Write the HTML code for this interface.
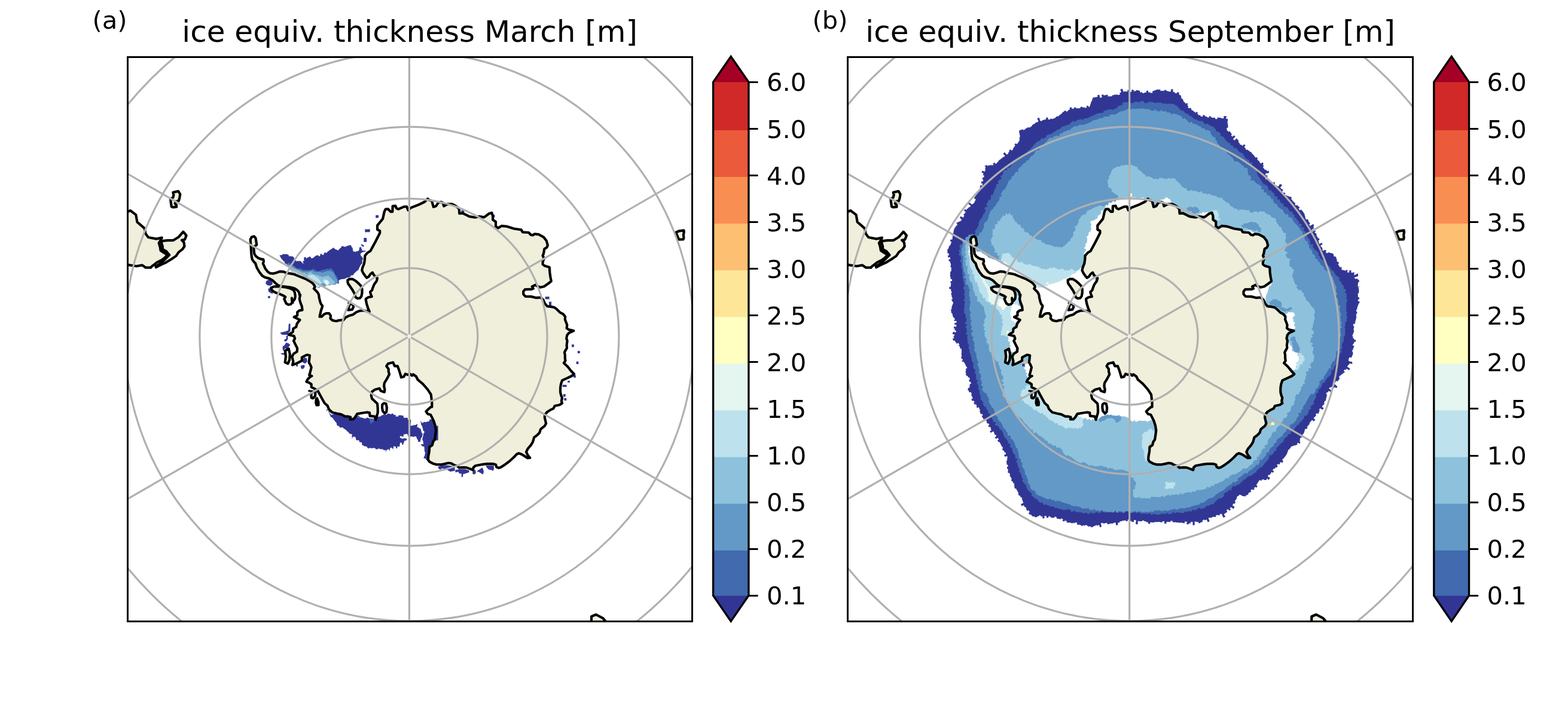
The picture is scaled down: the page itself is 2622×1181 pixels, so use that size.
<!DOCTYPE html>
<html lang="en"><head><meta charset="utf-8"><title>ice equiv. thickness</title>
<style>html,body{margin:0;padding:0;background:#fff}body{width:2622px;height:1181px;overflow:hidden}svg{display:block}text{font-family:"DejaVu Sans","Liberation Sans",sans-serif;fill:#000}</style></head><body>
<svg width="2622" height="1181" viewBox="0 0 2622 1181">
<rect width="2622" height="1181" fill="#fff"/>
<clipPath id="c1"><rect x="213.5" y="95.5" width="944" height="944"/></clipPath>
<g clip-path="url(#c1)">
<g transform="translate(0,0)">
<path fill="#313695" d="M467.2,427.6 469.8,426.6 470,426.9 472.5,425.9 472.4,425.3 475.5,424.8 475.5,425.4 478.5,424.9 478.6,424.5 480.7,426.1 480.9,425.3 483,426.9 482.5,428.2 485.6,428.7 485.7,428.4 488.8,428.9 489.1,428.4 492.2,431.5 491.6,432.2 493.7,434.8 493.8,434.7 496,437.4 496.4,436.4 500,436.7 500.1,436.4 503.7,436.7 503.3,437.7 505.5,439.5 505.5,439.7 507.7,441.5 507.4,440.3 505.8,436.6 506.8,437 508.9,435.9 508.5,435.8 508,431.6 508,431.6 510.6,429.5 510.6,429.5 512.7,432.5 512.6,432.1 516,430.1 516.1,430 518.9,428.9 518.9,429.3 521,432.4 521,432.2 524,431.2 524,431.3 526,429.3 526.1,429.5 528.2,427.4 528.3,427.7 531.4,426.7 531.5,427 534.6,429 534.6,429 535.5,426.9 535.5,425.9 536.2,423.9 536.4,424.2 539.5,426.3 539.9,427.1 541.8,425.1 541.6,423.8 543.4,421.9 544,422.7 547.1,422.7 546.7,422.2 548.8,420.1 549,420.4 551.1,418.3 551.3,418.6 554.3,416.5 554.3,416.6 557.3,414.6 557.2,414 559.3,415.6 559.3,415.8 561.3,417.4 561.5,417.1 563.5,418.1 563.5,418 565.4,419 565.4,418.8 567.3,416.8 567.2,416.8 569.3,414.7 569.5,415 571.6,411.9 571.4,411.4 574.6,411.9 574.8,412.6 577.9,413.1 577.9,412.5 580.4,411.5 580.4,411.6 583.1,410.5 583.1,410.5 587.5,410.1 587,411.1 588.9,414.5 589.4,414.1 589.9,416.7 589.8,416.7 590.4,419.3 589.8,419.7 592.2,420.9 592.3,420.5 594.5,421.6 594.5,421.4 597,419.8 597.5,420.5 600.2,418.9 600.2,418.9 601,414.8 600.6,414 603.8,413 603.8,413.2 604.2,416.3 604.8,415.6 605.4,418.8 605.2,418.9 607.4,419.3 607.4,419.3 609.9,419.8 610,419.9 610.7,415.8 610.3,416.6 610.5,418.5 611,419 611.3,421.6 610.5,421 608.1,421.4 608.1,421.4 605.5,421.9 605.7,422.3 602.6,424.4 602.4,424.3 603.4,426.6 603,426.6 604.1,428.9 604.8,428.6 605.9,431.2 606.6,431 607.6,433.7 606.2,433.9 605.7,436.3 606,436.3 605.5,438.8 606.5,439.2 604.9,441.8 604.3,441.6 602.8,444.2 602.7,444.1 601.2,447.2 601.1,447.2 599.5,450.3 600.1,450.6 598,452.7 597.5,452.4 595.5,454.4 595.4,454.4 593.3,456.4 593.3,456.4 591.2,458.5 591.7,458.9 589.6,461 588.8,460.1 586.5,461.4 586.8,462 584.4,463.4 584.6,463.6 582.2,465 581.7,464.1 578.7,465.1 578.9,465.6 575.8,466.6 575.8,466.7 573.2,466.7 573.3,467.1 570.7,467.1 570.7,466.9 568.6,468 568.6,467.9 566.5,469 566.3,468.8 566.5,471.2 566.6,471.3 566.8,473.7 567.4,474.2 565.1,474.4 564.5,473.2 561.3,474.6 561.3,474.5 558.8,474.9 558.8,475 556.4,475.3 556.4,475.2 554.1,475.8 554.1,476 551.7,476.7 551.7,476.9 548.9,475.6 549,476.2 544.9,477.6 544.9,478 543,479.3 542.5,477.9 540.1,478.2 540.3,479 537.9,479.3 537.8,478.9 534.5,480.3 534.5,481.3 531.6,482 531.5,482.1 528.5,479.3 528.8,478.9 527.3,476.8 528.2,476.1 526.8,474 526.2,474.5 524.1,472.8 524.2,472.7 522.1,470.9 522,471.1 519.7,469.7 520,469.3 517.7,467.9 517.9,467.6 515.6,466.2 515.1,467 512.8,465.7 512.6,466 510.3,464.6 510.7,463.9 508.4,462.5 508.4,462.6 505.6,461.2 505.9,460.7 503.1,459.3 502.7,460 500,458.7 499.8,459.1 497.1,457.7 497.3,457.2 493.1,456.5 493.3,456 491.3,455 491.3,455 489.4,454 488.6,454.9 485.8,451.4 486,451.3 484.1,448.9 484.7,448.5 482.8,446.2 482.5,446.5 480.7,444.2 481.1,443.7 478.4,441 477.9,441.4 475.8,439.4 476.4,438.8 474.4,436.8 474,437 472.3,434.6 472.1,434.8 470.4,432.4 470.4,432.4 468.8,430 469.1,429.9 467.6,427.7ZM542.9,680.7 544.5,682.7 544.8,682.4 546.9,684.5 546.5,684.8 548.5,687.4 549.4,686.7 551.5,689.4 550.7,689.9 552.3,692.6 552.6,692.2 554.2,694.7 554.3,694.2 556.4,692.8 556.6,693.6 559,692.2 558.7,691.4 561.2,690 561.3,690.3 564.1,690.7 564.1,691 566.9,691.3 566.9,691.2 569.7,691.5 569.7,691.6 572.5,693 572.3,693.3 575.1,694.7 575.5,693.8 578.2,695.1 577.9,696 580.6,696.7 580.9,695.8 583.9,696.6 583.8,696.8 586.5,697.5 585.8,698.6 585.8,702.7 586,702.4 588.7,702.5 588.8,702.1 591.4,702.1 591.1,701.6 593.2,698.5 593.7,699.4 595.7,696.3 595.4,695.7 598.6,695.7 598.6,696.1 600.6,697.6 600.8,697 602.9,698.5 603,698.3 605.9,698.8 605.9,699.1 609,699.6 608.9,700.5 613.1,699.5 613.1,698.5 616.2,699.1 616.2,699.6 619.3,700.1 619.4,699.5 622.2,700.2 622.1,700.7 624.8,701.4 624.8,700.7 627.4,701.5 627.3,701.3 628.3,699.3 628.4,699.5 629.4,697.5 629.4,697.5 633,697 633,697 636.7,696.4 636.8,696.8 636.8,694.7 637.1,695.3 639.7,695 639.2,693.9 641.9,693.6 642.1,694.4 644.5,693.5 644.7,694.2 647.1,693.3 646.9,692.7 649.3,691.8 649.3,691.9 652.1,692.2 652.1,692.5 654.7,692.9 654.9,691.7 657.9,692.1 657.3,693.3 661.5,694.4 662,693.2 661.8,696.3 661.7,696.8 665.9,696.8 665.8,697.4 666.5,694.8 666.4,694.5 669.2,694.7 669.2,694.6 671.9,694.7 671.6,695.2 674.4,695.4 674.8,694.5 674.8,698.6 674.8,698.7 678.2,699.1 678.6,698.7 681.6,698.8 681.6,699 682.1,702.1 682.1,702.2 684.6,702.3 684.8,702.1 687.2,702.1 687.1,702.2 687.2,705.7 686.8,705.8 686.8,709.1 686.6,709.1 686.6,712.4 686.6,712.4 689.7,712 689.8,711.6 692.6,711.2 692.6,711.1 695.8,710.7 695.8,710.8 697.6,708.8 697.6,708.8 698.3,711.5 697.4,712.5 697.8,714.9 698.3,714.6 700.7,715.6 700.3,715.9 702.6,717 703.2,716.5 703.9,719.3 703.9,719.3 704.6,722 704.6,722 705.3,724.8 705.7,724.7 707.8,725.9 706.8,725.8 705.8,729.9 706.6,730.1 704.5,732.2 704.3,732.1 703.7,735.3 703.3,734.9 702.9,737.9 703.5,738.9 698.7,739 699.2,737.6 698.5,735 698,735.5 696.9,732.7 696.8,732.8 695.8,730 695.8,730.1 692.7,730.1 692.6,730.7 689.8,730.8 689.7,730.1 686.5,730.1 686.5,730.6 685.8,732.6 686.2,731.8 682.5,729.7 682.4,730 681.4,726.4 681.6,725.9 678.3,725.8 678.3,726.6 675.2,726.6 675.1,726.3 674.6,729.9 674.8,730.4 672.1,730.3 671.3,729.6 668.5,729.6 668.9,730 668.9,733.1 669.5,732.7 672,732.6 671.4,733.9 674.4,734.1 674.4,733.1 677.2,733.2 677.2,733.2 680,733.4 680.1,733.4 680.2,736.3 679.9,736.2 677.6,737.3 677.5,737.2 675.2,738.3 675.8,738.7 675.5,741.3 674.6,740.6 674.5,743.2 674.8,743.7 672,743.8 672,743.7 672.1,740.6 672.1,740.7 669.2,740.6 668.9,740.3 668.9,743.4 668.5,742.9 668.3,746.2 669.4,746.7 665.1,746.9 664.6,746.3 664.3,749.3 664.3,750.1 662.2,750.1 662.2,750.4 661.9,747.3 662.1,747 659.9,747 659.9,746.4 657.5,746.5 658,746.9 658,750 657.4,749.5 657.5,752.6 657.4,752.6 656.6,750.4 656.5,750.8 655.5,748.7 655.5,748.9 652.6,748.8 652.6,748.9 652,752 651.9,751.8 651.4,754.9 651.3,754.7 649.8,750.6 650,751 646.4,753.1 646.1,752.5 645.8,754.9 646.1,755.2 645.7,757.6 645.7,756.6 645.3,754.4 645.2,754.6 644.5,752.3 643.8,753.2 640.8,752.8 641.2,751.8 638,751.3 637.9,751.6 635.2,751.2 635.3,750.7 632.3,750.3 632.5,751.4 629.6,751.1 629.7,750.4 629.2,753 629.3,752.6 627.2,749.5 627.2,749.8 624.3,749 624,750.1 621.3,749.3 621.4,749 620.8,751.1 620.9,749.9 617.4,748.9 617.1,750.4 613.9,749 614.4,747.7 611.3,746.4 611,747 608.5,745.8 608.4,745.8 605.8,744.5 605.6,744.8 605,741.7 605.7,741 603.5,739.5 602.6,740.1 600.4,738.7 600.9,738 599.9,735.9 599.4,736.5 596.3,736.5 596.1,736.7 595.1,734.7 595.4,734.3 594.4,732.2 595,731.5 592.5,730.2 592.4,731.3 590.3,730.3 590.4,729.9 588.9,733.5 588.5,733.9 588.5,730.8 588.5,730.8 588.4,727.6 589.3,727.1 587,725.7 586.4,726.2 584.1,724.9 584,725 581.9,721.9 581.6,722.2 579.5,720.7 579.9,720.3 577.8,718.8 577.8,718.8 575.8,717.2 575.7,717.5 573.6,715.9 574.1,715 569.9,715 569.4,716 566.8,712.9 567,712.5 564.4,712.5 564.3,712.6 562.8,709.5 563.3,708.9 561.8,705.9 561.3,706.2 559.3,703.6 559.4,703.5 557.4,700.9 557.6,700.7 554.5,697.7 553.6,698.3 552,695.2 552.1,695.1 550.6,692 551.1,691.7 549.4,689.4 549.9,689.1 548.3,686.8 547.1,687.6 545.4,685.4 546.6,684.5 544.9,682.3 544.4,682.6 542.8,680.3ZM703,703.8 705,706 705.3,707.4 707.9,707.2 708.1,706.1 710.8,705.8 710.9,706.2 713.7,706 713.5,705.3 716.2,705.1 716.6,705.8 718.2,703.5 717.9,702.7 719.6,700.4 719.7,701.6 723.6,702.6 724.1,701.3 725.4,704 724.7,704.6 725.7,707 725.4,707.2 726.5,709.7 726.7,709.5 729.5,711 729.9,710.7 732.8,712.3 731.9,712.8 731.9,715.6 732.4,715.4 732.4,718.4 731.8,718.4 731.8,721.3 731.9,721.3 731.9,724.3 732.1,724.3 732.1,727.3 732.1,727.3 732.1,730.3 732.2,730.3 732.2,733.1 733,733.3 732.9,736.5 732.5,736.1 730.1,736.6 730.7,737.1 728.3,737.7 728.4,737.7 727.4,740.2 727.4,740.2 726.4,742.8 726.5,742.8 724.3,745 723.9,744.6 721.8,746.6 721.9,746.7 718.9,748.7 719.2,748.9 719.6,751.8 719.1,751.7 719.5,754.8 718.8,754.9 719.2,758 719.8,757.9 720.2,761 720.2,761 719.7,763.8 719.1,763.7 718.7,766.3 718.6,766.2 718.2,768.8 718.3,768.9 715.5,768.8 715.5,769.6 712.3,769.6 712.3,769.8 712.1,767.6 712.2,767.4 708,766.3 708.4,766.2 709.4,763.1 710,763 710.6,759.6 710.6,759.6 711.1,755.9 710.1,755.9 709.7,753.1 709.9,753.1 709.6,750.4 709.7,750.3 709.4,747.5 709.7,747.3 705.6,746.3 705.7,746.3 703.7,743.3 703.6,743.3 706.2,743.1 706.2,743.1 708.8,742.7 708.1,742.3 707.4,739.6 707.9,739.7 707.2,736.9 706.8,736.9 706.1,734.1 706.3,734.1 707.1,731.6 706.9,731.5 707.7,728.9 707.4,728.9 708.1,726.3 708.1,726.3 708.9,723.8 709.9,723.8 709.2,721 707.9,721.1 707.2,718.5 707.4,718.4 706.7,715.7 706.8,715.7 705.7,713.6 706.3,713.4 705.2,711.4 704.5,711.6 703.7,707.9 703.9,707.8 703.2,703.9ZM445.5,469.7 451,467.6 455.2,470.3 455.9,475.2 452.4,477.9 446.9,477.2 444.1,473.8ZM448.3,482.8 453.8,482.1 456.6,491.7 452.4,490.3 449,487.6ZM448.1,495.2 451.7,495.2 451.7,498.8 448.1,498.8ZM483.4,504.5 491.7,504.5 491.7,507.9 483.4,507.9ZM482.8,541.4 485.5,541.4 485.5,553.8 482.8,556.6 481.4,560 471.7,560 468.3,556.6 477.2,554.5 482.1,552.4ZM478.6,561.4 481.4,561.4 481.4,567.6 478.6,571 475.2,571 475.9,567.6 478.6,566.9ZM478.6,573.1 482.8,574.5 485.5,577.2 482.8,580 481.4,584.1 477.2,582.8 473.1,586.9 472.4,580 475.9,577.2ZM469,591 476.6,590.3 476.6,593.8 471.7,593.1ZM509,597.9 513.1,599.3 513.8,604.8 510.3,608.3 506.2,606.2 505.5,602.1ZM502.8,611.7 509,610.3 509.7,613.8 506.9,617.2 503.4,616.6ZM495.2,609 497.9,609 497.9,613.1 495.2,613.1ZM956,576.3 959.9,576.3 959.9,580.4 956,580.4ZM965.9,586.9 969.8,586.9 969.8,591 965.9,591ZM963.6,604.8 967.4,604.8 967.4,609 963.6,609ZM959,627.6 962.9,627.6 962.9,631.7 959,631.7ZM949.1,637 953,637 953,639.7 949.1,639.7ZM940.7,643.8 947.6,643.8 947.6,647.2 940.7,647.2ZM941.8,659.3 945.7,659.3 945.7,663.4 941.8,663.4ZM943.3,665.9 947.2,665.9 947.2,670.1 943.3,670.1ZM911.7,496.3 918.6,496.3 918.6,500.4 911.7,500.4ZM917.9,504.8 922.1,504.8 922.1,511 917.9,511ZM628.2,360.1 633,360.1 633,364.6 628.2,364.6ZM610.3,383.4 618.6,383.4 618.6,388.2 610.3,388.2ZM608.3,397.9 613.2,397.9 613.2,404.8 608.3,404.8ZM771.3,351.7 776.3,351.7 776.3,355.9 771.3,355.9ZM821.4,359.3 827.4,359.3 827.4,363.4 821.4,363.4ZM732.4,780.7 738.6,778.6 748.3,778.2 755.2,779.3 760.7,782.8 760.7,787.6 753.1,789 748.3,786.2 740,783.4 735.9,785.5 733.1,783.4ZM761.4,786.2 769,784.8 777.2,784.8 784.8,786.9 784.1,790.3 777.2,792.4 774.5,793.1 773.8,797.9 771.7,797.9 771.7,792.4 767.6,791.7 766.2,789 761.4,790.3ZM790.3,786.9 795.2,786.2 795.9,791.7 792.4,793.8 790.3,792.4ZM797.2,788.3 806.9,782.1 809,789 807.6,793.8 802.1,790.3ZM812.4,778.6 825.5,778.6 826.2,783.4 824.8,787.6 821.4,786.2 817.2,785.5 813.8,782.1ZM611,385.2 618.3,383.1 618.8,386.2 611.5,388.8ZM610,397.6 612.1,400.7 612.1,404.3 609,404.3 608.4,401.7ZM603.8,407.9 609,411 607.9,413.1 604.3,411Z"/>
<path fill="#416aaf" d="M480.2,440.9 482.8,439.6 482.8,439.2 486.3,441.3 486.1,441.7 489.4,444.4 489.9,443.7 492.7,445.1 492.4,445.6 495.8,448.3 495.8,448.5 499.9,449.2 500.3,448.4 504.3,449.7 504.3,449.9 508.4,452 508.4,451.8 511.1,451.5 511.1,451.8 513.8,451.5 513.9,452.2 516.6,451.9 516.6,451.6 519.3,451.2 519.4,451.4 522.1,450.8 522.1,449.9 524.9,449.2 524.7,450.4 526.7,452.1 527,450.9 529,452.6 528.9,453.6 533.1,453.6 533.1,453.4 538,452 537.9,451.5 542.7,450.8 542.7,450.8 547.5,449.4 547.6,449.6 550.3,450.3 550.3,450.3 553.1,448.2 553.2,448.2 556.6,451.6 556.7,451.6 559.4,455.8 558.8,456.2 561.5,460.3 561.8,460.2 564.5,464.3 564.1,464.5 565.5,468.5 566.3,468.2 566.7,471 566.2,471 566.6,473.6 566.6,473.6 564.6,473.4 564.7,473.5 561.3,474.8 561.5,475.9 556.6,476.6 556.5,475.3 551.7,476.7 551.8,477.9 549.1,476.5 549.1,476.5 544.9,477.9 544.8,476.8 542.6,478.2 542.9,479.1 538.1,479.8 537.8,478.8 534.5,480.2 534.5,480.9 531.6,481.6 532,480.8 529.3,478.1 529.1,478.4 526.4,474.3 526.2,474.5 524.1,472.8 524.3,472.6 522.2,470.9 521.8,471.5 518.3,469.4 518.5,469.2 515.1,467.1 515.6,466.3 512.1,464.2 511.7,464.9 508.2,462.8 508.6,462.2 505.8,460.8 505.8,460.9 503,459.5 502.8,459.8 500.1,458.5 500.1,458.3 497.4,457 497.2,457.3 493.1,456.6 492.7,457.2 488.5,455.1 488.7,454.9 485.9,451.4 486.2,451.1 484.3,448.8 483.9,449.1 482.1,446.7 483,446.2 481.2,444 480.3,444.2 479.7,440.5ZM617.2,700 624.5,700 625,706.2 622.4,706.2 620.3,709.8 618.8,705.2ZM597.1,695.9 599.7,694.8 602.8,699 599.7,700Z"/>
<path fill="#6399c7" d="M480.7,442.8 484.8,442.8 484.9,442.7 489,445.4 489.2,445.1 493.3,447.2 493,447.8 497.1,450.6 497.1,450.6 501.3,452 501.5,451.4 504.2,452.5 504.1,452.8 506.9,453.8 506.9,454 509.6,454 509.6,453.9 512.4,453.9 512.4,454.1 515.2,453.7 515.2,454 517.9,453.6 517.9,452.9 522.1,452.2 522.1,451.8 524.9,453.9 524.9,454.2 529,454.9 529,455 531.7,454.6 531.7,455.1 534.5,454.7 534.5,454.6 538.6,456 538.6,456.4 541.5,455.7 541.3,454.8 544.1,454.1 544.2,454.8 548.3,452.7 548.3,452.7 551,454.1 551.1,453 554.2,452.5 553.6,453.3 556.4,456 557.1,455.3 560,459.6 559.5,459.9 561.5,464.1 561.8,464 563.9,468.2 563.7,468.2 565,472.5 564.4,472.2 561.1,474.8 561.6,475.4 556.6,476.2 556.5,475.5 551.7,476.9 551.7,477.1 548.9,475.7 548.8,475.3 544.7,476.7 544.7,476.5 542.5,478 542.7,478.4 537.9,479.1 537.7,478.6 534.5,479.9 534.5,480.5 531.8,481.2 531.5,481.9 528.6,479.1 528.5,479.3 525.6,475 526.3,474.4 524.2,472.7 524.6,472.3 522.4,470.5 522.2,470.8 518.8,468.8 519,468.4 515.5,466.3 515.4,466.5 512,464.4 511.6,465 508.2,462.9 508.2,462.9 505.4,461.5 505.9,460.7 503.1,459.3 502.8,460 500,458.6 500,458.5 497.3,457.1 497.3,457.1 493.2,456.4 493.4,456 489.3,454 489.1,454.3 486.3,450.9 486.6,450.6 484.9,448.3 484.1,448.9 482.3,446.6 482.3,446.6 480.5,444.1 480.5,444.1 480.7,442.6Z"/>
<path fill="#8ec2dc" d="M485.7,449.8 490.4,449 490.3,450.2 493.1,451.2 493.1,449.9 496.2,451 495.7,452.1 498.5,451.4 498.6,451.1 501.4,454.5 501.6,453.9 504.4,454.9 504,455.7 506.8,456.8 506.9,456.5 509.7,455.8 509.6,456.4 513.8,459.2 513.8,457.9 516.7,455.8 516.7,455.8 520.7,455.1 520.7,456.4 524.7,459.1 524.7,459.2 528.7,459.9 528.9,459.4 531.7,460.7 531.7,460.7 534.5,462 534.6,461.7 537.3,462.3 537.2,463 540,463.7 540,463.3 542.7,461.9 542.9,462.6 546.9,461.9 546.9,461.8 548.8,460.4 548.7,460.6 550.6,463.3 551.1,462.7 553.8,466.2 553.9,466.1 556.6,468.2 556.7,468.2 558.8,471 559.3,470.8 560.6,474.8 559.7,474.3 556.4,475.6 556.4,475.6 551.7,477 551.7,477.2 549,475.8 549.1,476.6 544.9,477.9 544.8,476.9 542.7,478.3 542.7,478.3 537.8,479 537.9,479.2 534.5,480.6 534.5,481 531.6,481.7 531.9,481.1 529.2,478.3 529.3,478.2 526.6,474.1 525.9,474.7 523.9,473 524.1,472.8 522,471.1 522,471.1 518.6,469.1 519,468.3 515.6,466.2 515.4,466.6 511.9,464.5 512,464.3 508.6,462.2 508.4,462.6 505.6,461.2 505.2,462 502.5,460.6 502.4,460.7 499.7,459.3 499.8,459.1 497,457.8 497.3,457 493.2,456.4 493.1,456.6 488.9,454.6 488.6,455 485.6,451.3 486.4,450.9 486.4,450.5Z"/>
<path fill="#bde2ee" d="M487.6,453.2 492.4,454.6 492.3,454.8 494.7,455.8 495.1,454.9 497.5,456 497.2,456.6 500,458 499.7,458.5 502.5,459.9 502.9,458.9 505.7,460 505.3,461 508.1,462 508.1,461.8 511,462.5 511,462.8 513.9,463.4 513.8,462.6 517.2,460.5 517.2,460.1 522.1,459.5 522.1,459.8 526.3,460.5 526,461.1 528.7,463.8 529.3,463 532.8,466.5 532.8,466.5 535.7,469.4 534.9,469.8 537.7,472.4 537.6,472.4 535.5,475.1 536.1,475.3 533.3,478.8 533.5,479.2 531.7,482.1 531.7,482 528.6,479.2 528.6,479.1 525.8,474.9 526,474.7 523.9,473 524.4,472.4 522.3,470.7 522,471.2 518.5,469.1 518.7,468.9 515.2,466.8 515.1,467.1 511.6,465 511.7,464.8 508.3,462.7 508.5,462.3 505.7,461 505.2,461.9 502.5,460.6 503.1,459.3 500.3,457.9 500.1,458.4 497.3,457 497.3,457 493.2,456.3 492.8,457.2 488.6,455.1 489.3,454 487.9,453.6ZM540.7,469 542.8,466.9 542.7,466.7 544.9,467.4 544.8,467.7 548.8,470.4 549.5,470 551,473.7 549.6,473.9 547.9,475.2 548.7,476.5 545.3,477.3 545.4,476.9 543.2,474 543.1,474.2 540.9,471.9 540.9,471.9 540.2,468.9Z"/>
<path fill="#e5f5ef" d="M542.8,470.3 546.2,468.3 549,470.3 550.3,473.8 548.3,475.9 545.5,476.6 543.4,473.8Z"/>
<path fill="#6399c7" d="M537.2,475.2 540,473.8 543.4,474.5 544.8,476.6 542.1,478.6 538.6,477.9Z"/>
</g>
<g transform="translate(0,0)">
<path fill="#efefdb" stroke="none" d="M611.7,500 615.9,497.2 621.7,496.2 620,492.4 619,488.3 622.1,485.5 623.4,481.4 625.5,475.9 629.7,470.3 631,465.5 629,463.4 625.5,460.7 622.8,455.9 619.3,458.6 616.6,462.8 613.4,464.8 611,462.1 607.6,457.2 605.2,452.4 606.2,447.6 609,440.7 610,433.8 610.3,427.6 614.5,422.8 619.3,420 627.6,404.8 635.2,389.7 635.2,386.2 631,384.1 631,377.2 640,366.2 642.8,353.8 644.8,349.9 649,349.7 653.1,354.1 656.3,354.1 656.6,344.8 661.4,344.4 662.8,348.3 666.2,349.9 675.2,345.8 680,345.5 682.5,351.7 686.9,347.6 699.3,342.8 710.3,337.5 715.2,332.4 717.2,334.5 722.1,335.9 724.8,346.2 729,344.8 733.1,338.6 737.9,337.9 740.7,339.3 742.1,344.8 748.3,341.4 755.9,341.4 761.4,344.1 767.6,349 768.3,357.2 773.8,356.6 784.8,362.1 794.5,363.7 801.4,362.1 809.7,363.4 817.9,357.2 822.3,355.9 824.1,361.4 824.1,367.6 829,371 829,378.6 833.1,381.4 838.6,377.9 848.3,378.9 859.3,382.5 871.7,384.4 873.8,388.3 884.1,389 887.6,392.7 891,393.5 893.8,391.3 900.7,392.1 909,396.6 913.8,402.8 915.9,410.3 914.5,413.8 910.3,416.6 909,424.1 907.6,427.6 909.7,432.4 907.6,437.9 907.6,442.1 911,444.8 918.6,446.9 919,448.6 919.3,455.2 920.4,463.4 921.8,470.3 916.6,474.5 909.7,479.3 903.4,480.7 898.6,478.6 895.2,476.6 889.7,479.3 891.7,482.8 888.3,483.9 877.9,484.1 875.2,487.6 875.2,492.1 878.6,495.9 888.3,496.1 896.6,498.2 904.1,497.7 908.3,501.4 911,507.6 915.2,512.4 922.1,513.1 927.6,514.5 931.7,517.9 936.6,522.8 941.4,525.2 945.2,529.7 944.8,534.5 948.3,543.4 947.6,549 951,551.4 959.3,553.4 951,557.2 948.3,560.7 947.2,566.2 948.6,570.3 947.6,577.2 948,582.1 944.8,587.6 943.9,589.7 944.8,593.8 944.8,599.3 945.5,603.4 942.8,607.3 949.7,613.8 954.5,620 960,625.8 955.9,629 950.3,631.7 940,636.3 937.9,642.8 937,649 937,655.9 938.3,661.4 940,665.5 938.9,671 940,674.5 935.9,677.2 927.6,679 925.5,683.4 920,685.9 915.2,689 911,693.8 910.8,698.6 913.1,708.3 911,712.4 904.1,717.9 902.1,724.1 898.6,727.6 893.1,731.7 891,739.3 887.6,744.8 882.8,750.3 880,755.9 882.1,760.7 886.2,765.8 882.1,766.2 877.9,763.4 872.4,760 867.6,758.2 864.1,759.7 858.6,765.5 851.7,771.7 843.4,777.9 837.2,781.8 833.8,782.8 830.3,781.4 829,777.2 824.8,775.9 814.5,775.9 804.8,777.2 795.2,779 791.7,781.8 791,786.2 785.5,784.1 780,782.1 774.5,781.8 767.6,782.3 764.8,779.6 759.3,777.9 754.5,775.2 749.7,774.5 744.1,775.9 737.2,777.2 730.3,777.2 723.4,775.2 717.9,772.1 715.9,769 716.3,762.8 717.7,755.9 718.2,747.6 722.8,744.8 724.1,739.3 726.9,735.2 728.3,725.5 729,720 727.6,711.7 725.5,704.8 722.8,699.3 720,693.8 715.2,692.4 712.4,688.3 716.6,684.1 720.7,680.7 722.3,680.7 722.3,673.8 720.7,660 715.2,651.7 706.9,642.1 698.6,635.2 695.9,629.7 691,626.2 689,628.3 685.5,625.5 682.1,626.9 677.9,625.5 675.2,630.3 671,631.3 667.6,620 664.8,612.4 660,612.4 657.2,606.2 649,608.3 646.2,612.4 649.7,617.2 649.7,621.4 651,626.2 646.2,635.2 642.8,640.7 642.1,645.5 643.4,651.7 642.8,655.9 636.6,653.8 634.5,649.7 626.9,651.7 622.1,655.2 620.7,661.4 622.1,666.9 631,675.2 631.7,682.8 631.7,690.3 629.7,697.2 628.3,702.1 626.2,696.6 618.6,695.9 617.9,690.3 613.1,689.7 604.8,691 597.2,692.4 593.8,697.9 590.3,701.4 585.5,701.4 586.2,697.9 581.4,696.6 577.2,696.6 570.3,693.1 563.4,691.7 555.2,689.7 549.7,684.1 547.6,678.6 542.8,674.5 539.3,668.3 535.2,660.7 531,653.1 524.8,649.7 520.7,647.6 520.7,642.8 516.6,640 512.4,638.6 514.5,634.5 517.9,631 521.4,629 517.2,627.6 518.6,622.8 520.7,614.5 518.6,609.7 516.6,606.2 517.9,594.5 513.1,593.5 504.8,597.9 504.8,603.4 496.6,607.6 489,610.6 490.3,604.8 488.3,596.6 491,591.7 496.6,588.3 497.2,582.8 493.8,575.9 491,570.3 493.1,566.2 491.7,562.1 482.8,560 489.7,555.2 490.3,549.7 495.2,546.9 496.6,541.4 501.4,535.2 491.7,530.3 497.2,527.6 497.2,522.1 500.7,519.3 505.5,518.6 504.8,512.4 502.1,505.5 500.7,500 502.1,493.1 501,493.8 500,489 497.2,485.5 493.1,482.8 487.6,481 482.1,480 475.2,479.3 468.3,478.6 464.1,476.6 460,473.1 455.9,469 450.3,465.9 443.4,464.1 438.6,461.4 433.8,455.2 429.7,448.3 426.9,440 424.8,438.4 421.7,433.8 420.7,428.6 420.2,423.4 419.7,415.2 419.1,405.9 418.6,400.7 420.7,396.6 424.8,395.3 427.4,398.1 428.4,403.8 429.2,409.5 426.4,411.6 424.3,414.1 424.8,420.3 425.3,424.5 427.9,428.6 432.1,431.7 436.2,433.3 440.3,433.8 440.9,437.4 439.8,441 441.4,444.1 443.4,449 447.6,454.5 451.7,457.2 457.2,457.6 462.1,456.2 468.3,454.1 474.5,454.6 479.3,456.9 486.2,457.6 492.4,459 497.9,461.4 504.8,464.1 511.7,466.9 517.9,470.3 522.8,473.8 525.5,477.2 526.6,480 524.8,482.8 527.6,485.5 531,489 533.1,493.1 533.8,498.6 535.2,504.1 536.6,508.3 539.3,511.7 537.9,516.6 536.6,520 535.9,523.4 534.5,529.7 537.9,529.7 542.1,525.5 546.2,524.1 550.3,524.1 553.1,528.3 552.4,532.4 555.9,535.9 562.1,537.2 566.9,535.9 574.5,535.2 577.9,531 583.4,528.3 590.3,526.2 595.9,522.1 601.4,520 606.9,519.3 617.9,521.4 615.2,515.2 613.1,508.3 611.7,501.4ZM581.4,472.4 581.4,468.3 584.8,466.6 589.7,466.9 594.5,469.7 599.3,473.8 603.4,477.9 605.5,483.4 605.5,489.7 604.5,495.2 602.1,498.6 597.9,499.3 594.5,497.2 593.1,491.7 589.7,485.5 585.5,479.3 582.1,474.5ZM583.4,506.9 590.3,509.7 591,513.8 589,517.9 582.1,518.6 583.4,513.1 584.8,508.3ZM453.1,481.4 458.6,479.3 468.3,479.4 478.6,480.7 486.2,482.8 491,485.5 493.1,489.7 493.8,495.2 493.1,500 491,502.8 489,502.1 487.9,498.6 488.6,506.2 486.2,509 482.1,509.7 478.6,507.6 476.6,503.4 475.2,500 477.2,496.6 473.8,494.5 468.3,492.1 462.8,490.3 457.2,487.6 453.8,484.1ZM476.6,586.9 482.8,583.4 484.8,592.4 484.1,602.1 481.4,608.3 476.6,606.2 477.9,596.6 477.2,589.7ZM520.7,657.2 523.4,655.2 527.6,655.9 526.9,662.8 523.4,666.2 520.7,665.5 520.4,660ZM289.4,321.9 298.2,319.8 301.3,325 300.2,331.2 298.7,336.4 294,336.9 292.5,340.5 295.1,343.1 295.1,346.2 288.8,346.7 286.8,345.7 285.7,338.4 285.2,333.3 289.4,330.2 290.4,326ZM200.4,342.4 214.4,353.8 218,352.2 227.3,359.4 229.4,371.3 241.8,382.2 243.3,390.8 248,397 261.4,399.6 270.7,397.6 268.7,401.7 265.6,406.3 267.6,413.1 268.7,419.3 272.8,421.9 280.1,426.5 274.9,431.7 270.7,434.8 262.5,438.9 253.2,446.2 252.1,447.7 243.8,447.7 237.6,443.6 228.3,445.3 214.4,443.1 200.4,442ZM270.7,403.2 280.1,402.2 289.4,402.2 298.7,396.5 306.4,387.7 311.6,393.9 309,400.7 303.8,401.7 307.5,405.3 308.5,412 304.9,417.2 298.7,421.9 294.5,428.1 286.3,433.8 276.9,439.4 267.6,443.6 260.9,447.2 260.4,445.7 268.7,440.5 276.9,432.7 283.2,426.5 278,420.3 271.8,416.7 271.8,412 270.2,406.9ZM1130.2,388.7 1136,386.3 1143.4,385.4 1143.8,387.6 1142.9,392.8 1143.4,397.9 1142.5,400.5 1135.2,400.7 1132.6,394.5ZM988.8,1047.4 989,1031.2 996.6,1028 1008.2,1034.1 1012.9,1039.7 1019,1047.4Z"/>
</g>
<g transform="translate(0,0)">
<path fill="#313695" d="M725.9,711.9 732.6,712.4 732.6,736.2 726.9,737.2 728.4,723.8Z"/>
</g>
<g transform="translate(0,0)">
<path fill="none" stroke="#000" stroke-width="4.2" stroke-linejoin="round" d="M611.7,500 615.9,497.2 621.7,496.2 620,492.4 619,488.3 622.1,485.5 623.4,481.4 625.5,475.9 629.7,470.3 631,465.5 629,463.4 625.5,460.7 622.8,455.9 619.3,458.6 616.6,462.8 613.4,464.8 611,462.1 607.6,457.2 605.2,452.4 606.2,447.6 609,440.7 610,433.8 610.3,427.6 614.5,422.8 619.3,420 627.6,404.8 635.2,389.7 635.2,386.2 631,384.1 631,377.2 640,366.2 642.8,353.8 644.8,349.9 649,349.7 653.1,354.1 656.3,354.1 656.6,344.8 661.4,344.4 662.8,348.3 666.2,349.9 675.2,345.8 680,345.5 682.5,351.7 686.9,347.6 699.3,342.8 710.3,337.5 715.2,332.4 717.2,334.5 722.1,335.9 724.8,346.2 729,344.8 733.1,338.6 737.9,337.9 740.7,339.3 742.1,344.8 748.3,341.4 755.9,341.4 761.4,344.1 767.6,349 768.3,357.2 773.8,356.6 784.8,362.1 794.5,363.7 801.4,362.1 809.7,363.4 817.9,357.2 822.3,355.9 824.1,361.4 824.1,367.6 829,371 829,378.6 833.1,381.4 838.6,377.9 848.3,378.9 859.3,382.5 871.7,384.4 873.8,388.3 884.1,389 887.6,392.7 891,393.5 893.8,391.3 900.7,392.1 909,396.6 913.8,402.8 915.9,410.3 914.5,413.8 910.3,416.6 909,424.1 907.6,427.6 909.7,432.4 907.6,437.9 907.6,442.1 911,444.8 918.6,446.9 919,448.6 919.3,455.2 920.4,463.4 921.8,470.3 916.6,474.5 909.7,479.3 903.4,480.7 898.6,478.6 895.2,476.6 889.7,479.3 891.7,482.8 888.3,483.9 877.9,484.1 875.2,487.6 875.2,492.1 878.6,495.9 888.3,496.1 896.6,498.2 904.1,497.7 908.3,501.4 911,507.6 915.2,512.4 922.1,513.1 927.6,514.5 931.7,517.9 936.6,522.8 941.4,525.2 945.2,529.7 944.8,534.5 948.3,543.4 947.6,549 951,551.4 959.3,553.4 951,557.2 948.3,560.7 947.2,566.2 948.6,570.3 947.6,577.2 948,582.1 944.8,587.6 943.9,589.7 944.8,593.8 944.8,599.3 945.5,603.4 942.8,607.3 949.7,613.8 954.5,620 960,625.8 955.9,629 950.3,631.7 940,636.3 937.9,642.8 937,649 937,655.9 938.3,661.4 940,665.5 938.9,671 940,674.5 935.9,677.2 927.6,679 925.5,683.4 920,685.9 915.2,689 911,693.8 910.8,698.6 913.1,708.3 911,712.4 904.1,717.9 902.1,724.1 898.6,727.6 893.1,731.7 891,739.3 887.6,744.8 882.8,750.3 880,755.9 882.1,760.7 886.2,765.8 882.1,766.2 877.9,763.4 872.4,760 867.6,758.2 864.1,759.7 858.6,765.5 851.7,771.7 843.4,777.9 837.2,781.8 833.8,782.8 830.3,781.4 829,777.2 824.8,775.9 814.5,775.9 804.8,777.2 795.2,779 791.7,781.8 791,786.2 785.5,784.1 780,782.1 774.5,781.8 767.6,782.3 764.8,779.6 759.3,777.9 754.5,775.2 749.7,774.5 744.1,775.9 737.2,777.2 730.3,777.2 723.4,775.2 717.9,772.1 715.9,769 716.3,762.8 717.7,755.9 718.2,747.6 722.8,744.8 724.1,739.3 726.9,735.2 728.3,725.5 729,720 727.6,711.7 725.5,704.8 722.8,699.3 720,693.8 715.2,692.4 712.4,688.3 716.6,684.1 720.7,680.7 722.3,680.7 722.3,673.8 720.7,660 715.2,651.7 706.9,642.1 698.6,635.2 695.9,629.7 691,626.2 689,628.3 685.5,625.5 682.1,626.9 677.9,625.5 675.2,630.3 671,631.3 667.6,620 664.8,612.4 660,612.4 657.2,606.2 649,608.3 646.2,612.4 649.7,617.2 649.7,621.4 651,626.2 646.2,635.2 642.8,640.7 642.1,645.5 643.4,651.7 642.8,655.9 636.6,653.8 634.5,649.7 626.9,651.7 622.1,655.2 620.7,661.4 622.1,666.9 631,675.2 631.7,682.8 631.7,690.3 629.7,697.2 628.3,702.1 626.2,696.6 618.6,695.9 617.9,690.3 613.1,689.7 604.8,691 597.2,692.4 593.8,697.9 590.3,701.4 585.5,701.4 586.2,697.9 581.4,696.6 577.2,696.6 570.3,693.1 563.4,691.7 555.2,689.7 549.7,684.1 547.6,678.6 542.8,674.5 539.3,668.3 535.2,660.7 531,653.1 524.8,649.7 520.7,647.6 520.7,642.8 516.6,640 512.4,638.6 514.5,634.5 517.9,631 521.4,629 517.2,627.6 518.6,622.8 520.7,614.5 518.6,609.7 516.6,606.2 517.9,594.5 513.1,593.5 504.8,597.9 504.8,603.4 496.6,607.6 489,610.6 490.3,604.8 488.3,596.6 491,591.7 496.6,588.3 497.2,582.8 493.8,575.9 491,570.3 493.1,566.2 491.7,562.1 482.8,560 489.7,555.2 490.3,549.7 495.2,546.9 496.6,541.4 501.4,535.2 491.7,530.3 497.2,527.6 497.2,522.1 500.7,519.3 505.5,518.6 504.8,512.4 502.1,505.5 500.7,500 502.1,493.1 501,493.8 500,489 497.2,485.5 493.1,482.8 487.6,481 482.1,480 475.2,479.3 468.3,478.6 464.1,476.6 460,473.1 455.9,469 450.3,465.9 443.4,464.1 438.6,461.4 433.8,455.2 429.7,448.3 426.9,440 424.8,438.4 421.7,433.8 420.7,428.6 420.2,423.4 419.7,415.2 419.1,405.9 418.6,400.7 420.7,396.6 424.8,395.3 427.4,398.1 428.4,403.8 429.2,409.5 426.4,411.6 424.3,414.1 424.8,420.3 425.3,424.5 427.9,428.6 432.1,431.7 436.2,433.3 440.3,433.8 440.9,437.4 439.8,441 441.4,444.1 443.4,449 447.6,454.5 451.7,457.2 457.2,457.6 462.1,456.2 468.3,454.1 474.5,454.6 479.3,456.9 486.2,457.6 492.4,459 497.9,461.4 504.8,464.1 511.7,466.9 517.9,470.3 522.8,473.8 525.5,477.2 526.6,480 524.8,482.8 527.6,485.5 531,489 533.1,493.1 533.8,498.6 535.2,504.1 536.6,508.3 539.3,511.7 537.9,516.6 536.6,520 535.9,523.4 534.5,529.7 537.9,529.7 542.1,525.5 546.2,524.1 550.3,524.1 553.1,528.3 552.4,532.4 555.9,535.9 562.1,537.2 566.9,535.9 574.5,535.2 577.9,531 583.4,528.3 590.3,526.2 595.9,522.1 601.4,520 606.9,519.3 617.9,521.4 615.2,515.2 613.1,508.3 611.7,501.4ZM581.4,472.4 581.4,468.3 584.8,466.6 589.7,466.9 594.5,469.7 599.3,473.8 603.4,477.9 605.5,483.4 605.5,489.7 604.5,495.2 602.1,498.6 597.9,499.3 594.5,497.2 593.1,491.7 589.7,485.5 585.5,479.3 582.1,474.5ZM583.4,506.9 590.3,509.7 591,513.8 589,517.9 582.1,518.6 583.4,513.1 584.8,508.3ZM453.1,481.4 458.6,479.3 468.3,479.4 478.6,480.7 486.2,482.8 491,485.5 493.1,489.7 493.8,495.2 493.1,500 491,502.8 489,502.1 487.9,498.6 488.6,506.2 486.2,509 482.1,509.7 478.6,507.6 476.6,503.4 475.2,500 477.2,496.6 473.8,494.5 468.3,492.1 462.8,490.3 457.2,487.6 453.8,484.1ZM476.6,586.9 482.8,583.4 484.8,592.4 484.1,602.1 481.4,608.3 476.6,606.2 477.9,596.6 477.2,589.7ZM520.7,657.2 523.4,655.2 527.6,655.9 526.9,662.8 523.4,666.2 520.7,665.5 520.4,660ZM289.4,321.9 298.2,319.8 301.3,325 300.2,331.2 298.7,336.4 294,336.9 292.5,340.5 295.1,343.1 295.1,346.2 288.8,346.7 286.8,345.7 285.7,338.4 285.2,333.3 289.4,330.2 290.4,326ZM200.4,342.4 214.4,353.8 218,352.2 227.3,359.4 229.4,371.3 241.8,382.2 243.3,390.8 248,397 261.4,399.6 270.7,397.6 268.7,401.7 265.6,406.3 267.6,413.1 268.7,419.3 272.8,421.9 280.1,426.5 274.9,431.7 270.7,434.8 262.5,438.9 253.2,446.2 252.1,447.7 243.8,447.7 237.6,443.6 228.3,445.3 214.4,443.1 200.4,442ZM270.7,403.2 280.1,402.2 289.4,402.2 298.7,396.5 306.4,387.7 311.6,393.9 309,400.7 303.8,401.7 307.5,405.3 308.5,412 304.9,417.2 298.7,421.9 294.5,428.1 286.3,433.8 276.9,439.4 267.6,443.6 260.9,447.2 260.4,445.7 268.7,440.5 276.9,432.7 283.2,426.5 278,420.3 271.8,416.7 271.8,412 270.2,406.9ZM1130.2,388.7 1136,386.3 1143.4,385.4 1143.8,387.6 1142.9,392.8 1143.4,397.9 1142.5,400.5 1135.2,400.7 1132.6,394.5ZM988.8,1047.4 989,1031.2 996.6,1028 1008.2,1034.1 1012.9,1039.7 1019,1047.4ZM639.3,676.6 642.1,674.5 645.5,675.2 646.9,682.1 646.2,689 643.4,691.7 640,687.6 639,682.1Z"/>
<path fill="#000" stroke="#000" stroke-width="3" stroke-linejoin="round" d="M528.3,666.9 530.3,665.5 533.1,672.4 533.1,677.9 529,678.2 527.6,673.8ZM516.6,653.8 522.8,654.5 516.6,654.1Z"/>
<g fill="none" stroke="#b0b0b0" stroke-width="3.2">
<circle cx="684.4" cy="562.7" r="114.4"/>
<circle cx="684.4" cy="562.7" r="230.6"/>
<circle cx="684.4" cy="562.7" r="350.5"/>
<circle cx="684.4" cy="562.7" r="476.1"/>
<circle cx="684.4" cy="562.7" r="609.9"/>
<circle cx="684.4" cy="562.7" r="755.2"/>
<path d="M684.4,559.3 L684.4,-237.3"/>
<path d="M687.3,561 L1377.2,162.7"/>
<path d="M687.3,564.4 L1377.2,962.7"/>
<path d="M684.4,566.1 L684.4,1362.7"/>
<path d="M681.5,564.4 L-8.4,962.7"/>
<path d="M681.5,561 L-8.4,162.7"/>
</g>
</g>
</g>
<rect x="213.5" y="95.5" width="944" height="944" fill="none" stroke="#000" stroke-width="3"/>
<path d="M1192.6,139.3 L1192.6,137.3 L1222.2,94.4 L1251.9,137.3 L1251.9,139.3 Z" fill="#a50026"/>
<rect x="1192.6" y="137.3" width="59.3" height="859" fill="#d02927"/>
<rect x="1192.6" y="217.9" width="59.3" height="778.4" fill="#eb5a3a"/>
<rect x="1192.6" y="296" width="59.3" height="700.3" fill="#f98e52"/>
<rect x="1192.6" y="374.1" width="59.3" height="622.2" fill="#fdbf71"/>
<rect x="1192.6" y="452.2" width="59.3" height="544.1" fill="#fee699"/>
<rect x="1192.6" y="530.3" width="59.3" height="466" fill="#feffc0"/>
<rect x="1192.6" y="608.4" width="59.3" height="387.9" fill="#e5f5ef"/>
<rect x="1192.6" y="686.5" width="59.3" height="309.8" fill="#bde2ee"/>
<rect x="1192.6" y="764.6" width="59.3" height="231.7" fill="#8ec2dc"/>
<rect x="1192.6" y="842.7" width="59.3" height="153.6" fill="#6399c7"/>
<rect x="1192.6" y="920.8" width="59.3" height="75.5" fill="#416aaf"/>
<path d="M1192.6,996.3 L1222.2,1039.2 L1251.9,996.3 Z" fill="#313695"/>
<path d="M1192.6,996.3 L1222.2,1039.2 L1251.9,996.3 L1251.9,137.3 L1222.2,94.4 L1192.6,137.3 Z" fill="none" stroke="#000" stroke-width="3.33" stroke-linejoin="miter"/>
<path d="M1251.9,996.5 h15.6" stroke="#000" stroke-width="3"/>
<text x="1281.9" y="1011.4" font-size="41.67">0.1</text>
<path d="M1251.9,918.5 h15.6" stroke="#000" stroke-width="3"/>
<text x="1281.9" y="933.3" font-size="41.67">0.2</text>
<path d="M1251.9,840.5 h15.6" stroke="#000" stroke-width="3"/>
<text x="1281.9" y="855.2" font-size="41.67">0.5</text>
<path d="M1251.9,762.5 h15.6" stroke="#000" stroke-width="3"/>
<text x="1281.9" y="777.1" font-size="41.67">1.0</text>
<path d="M1251.9,683.5 h15.6" stroke="#000" stroke-width="3"/>
<text x="1281.9" y="699" font-size="41.67">1.5</text>
<path d="M1251.9,605.5 h15.6" stroke="#000" stroke-width="3"/>
<text x="1281.9" y="620.9" font-size="41.67">2.0</text>
<path d="M1251.9,527.5 h15.6" stroke="#000" stroke-width="3"/>
<text x="1281.9" y="542.9" font-size="41.67">2.5</text>
<path d="M1251.9,449.5 h15.6" stroke="#000" stroke-width="3"/>
<text x="1281.9" y="464.8" font-size="41.67">3.0</text>
<path d="M1251.9,371.5 h15.6" stroke="#000" stroke-width="3"/>
<text x="1281.9" y="386.7" font-size="41.67">3.5</text>
<path d="M1251.9,293.5 h15.6" stroke="#000" stroke-width="3"/>
<text x="1281.9" y="308.6" font-size="41.67">4.0</text>
<path d="M1251.9,215.5 h15.6" stroke="#000" stroke-width="3"/>
<text x="1281.9" y="230.5" font-size="41.67">5.0</text>
<path d="M1251.9,137.5 h15.6" stroke="#000" stroke-width="3"/>
<text x="1281.9" y="152.4" font-size="41.67">6.0</text>
<text x="685.2" y="70.3" font-size="50" text-anchor="middle">ice equiv. thickness March [m]</text>
<text x="154.6" y="47.9" font-size="41.67">(a)</text>
<clipPath id="c2"><rect x="1417.5" y="95.5" width="945" height="944"/></clipPath>
<g clip-path="url(#c2)">
<g transform="translate(1203.7,0)">
<path fill="#313695" d="M702.2,153.3 704.3,155.4 704.9,153.2 706.9,155.2 706.7,156.2 710,155.6 710,155.1 713.3,154.5 712.9,152 716.2,151.4 716.7,154.7 720.1,154.2 720.3,155.7 723.7,155.2 723.2,152.6 726.6,152 726.4,151.2 729.8,150.7 729.7,150.1 733,149.6 733.1,150.2 736.5,149.6 736.9,152.2 740.1,151.6 740.2,152.3 743.3,151.7 743.4,150.3 746.9,151.1 746.7,151.9 750.2,152.7 750.1,152.8 753.6,153.7 754.8,148.9 758.3,149.8 757.4,153.3 760.9,154.2 760.6,155.5 763.9,156.3 764.9,154.1 768.6,155.1 767.5,156.6 769.1,159.6 770.1,158.7 771.9,161.9 771,162.4 772.7,165.5 773.5,165 775.2,168.1 774.9,168.2 776.6,171.3 777.4,170.8 779,173.7 780.7,172.3 783,174.1 781.4,175.8 783.8,177.8 782.4,179.5 785,181.5 786.2,180.1 788.7,182.1 788,183 790.4,185.1 790.7,184.7 793.2,186.7 793.2,186.7 795.6,188.7 797.2,186.8 799.4,188.6 798.4,190.2 800.8,192.2 800.6,192.6 804.1,193.1 803.6,194.6 807.3,195.2 807.8,192.3 811.3,192.9 811,194.5 814.5,195.1 814.3,196.1 817.8,196.7 818.2,194.2 821.7,194.7 821.4,196.5 824.9,197.1 825,196.8 828.5,197.1 828.3,199 831.8,199.3 832,196.4 835.5,196.7 835.5,197 839,197.2 838.9,198 842.4,198.3 842.8,194 847.7,194.6 846,198.5 849.6,198.8 849.4,199 849.4,202.6 848.9,202.8 848.9,206.3 849.6,206.3 849.6,210 849.8,210 849.8,213.6 847.7,213.9 847.8,217.8 848.3,217.7 850.4,220.6 852.6,219.5 854.5,222 854.3,222.1 856.4,224.8 854.8,226 856.9,228.7 860.1,226.3 862,228.9 858.3,232.1 860.4,234.9 863.9,231.4 866.3,233.3 865.8,234 868.2,235.9 866.8,237.6 869.4,239.7 868.8,240.4 871.3,242.4 871.7,241.9 874.3,244 876.5,241.2 879,243.2 876.8,246.1 879.3,248.1 878.6,249 881.1,251 882.1,249.9 884.4,252.3 884.6,252 887,254.3 887.5,253.8 889.8,256.1 889.6,256.4 891.9,258.7 891.9,258.7 894.2,261.1 893.8,261.5 896.1,263.8 897.3,262.8 899.6,265.1 898.4,266.2 900.4,268.8 900.8,268.5 902.8,271 902.6,271.2 904.7,273.7 907.4,271.6 909.4,274.1 907.8,275.4 909.9,278 908,279.4 910,282 910,282 912,284.4 913.4,283.7 915.5,286.4 918.3,285.6 918.2,289.6 912.7,290.1 912.4,293.2 915.8,293.5 915.5,296.4 912.7,296.9 912.5,300.5 915.1,299.2 917.5,300.6 916.3,301.7 919.1,303.4 918.8,303.9 921.5,305.6 922.1,304.6 924.9,306.4 926.1,304.2 928.7,305.9 927,309.3 930.5,310.7 930.5,310.6 933.9,312 936.6,307.7 940.6,309.6 937.3,313.4 938.9,316.5 940.2,315.5 942,318.7 940.3,319.8 942,323 943.8,321.7 945.9,323.8 944.6,324.9 946.8,327.1 947.6,326.2 949.8,328.4 950.6,327.6 952.7,329.8 954.1,328.4 956.7,331 955.1,332.6 957.7,335.2 957.3,335.5 959.9,338.1 960.1,337.9 962.7,340.5 961.4,341.8 963.7,344.1 965.1,342.7 967.4,345.1 967.6,344.9 969.9,347.2 967.7,349.1 970,352 972,350.3 974.3,353.3 974.4,353.3 976.7,356.2 976.6,356.3 978.4,359.8 977.7,360.1 979.4,363.6 978.7,364 980.4,367.5 982.7,366.2 984.4,368.7 983.7,369.1 985.4,371.6 985.5,371.6 987.2,374.2 985.3,375.4 987,378 992.2,374.7 994,377.7 992.2,378.8 993.7,381.4 989.8,384.3 991.6,387.3 994.1,385 996.8,386.8 994.4,388.8 996.9,390.5 997.3,390.2 998,393.1 997.6,393.3 998.4,396.1 999.3,395.8 1000.2,398.8 1002,398.3 1002.9,401.2 1000.6,402 1001.8,404.9 1001.3,405.1 1002.5,408.1 1006.8,406.1 1007.9,408.9 1004.3,410.7 1006,413.6 1006.5,413.3 1008.2,416.2 1007.2,417.1 1009,420.1 1011.2,417.7 1014.4,419.2 1012.8,421.9 1016.5,423.7 1017.1,422 1021.1,422.9 1020.9,423.1 1024.8,424 1025.1,423.7 1026.6,426.6 1026.3,426.9 1027.8,429.8 1029.6,428.8 1031.1,431.7 1030.6,431.9 1032.3,434.8 1031.3,435.4 1033,438.2 1033.9,437.7 1035.6,440.6 1033.6,441.7 1035.4,444.6 1035.4,444.6 1037.2,447.5 1038.8,446.2 1040.3,448.9 1039,450.4 1042.6,452.2 1043,451.5 1046.4,453.2 1047,451.4 1049.9,451.8 1049,455.5 1052.3,456 1052.9,452 1056,452.5 1055.5,455.7 1058.3,456.2 1058.7,455.5 1061.8,456 1060.8,456.8 1060.7,460.5 1067.2,457.3 1067.4,461.9 1060.7,464.2 1062.9,466.7 1065.6,465.8 1067.8,468.4 1069.1,468 1069,472.1 1067.3,472.3 1067.1,475.8 1067,475.8 1066.7,479.2 1070,478.9 1071,479.2 1067.7,479.8 1068.3,483.1 1068.3,483.1 1068.9,486.7 1068.3,486.8 1068.9,490.2 1066.9,490.5 1067.1,493.9 1067,493.9 1067.2,497.3 1069.1,497.2 1069.3,500.7 1067.1,500.7 1067.3,504 1070,504.2 1069.1,507.8 1068.2,507.6 1067.3,511.1 1067,511 1066.1,514.5 1065.7,514.4 1065.5,517.9 1064.4,517.8 1064.2,521.3 1065.7,521.4 1065.5,524.8 1064.2,524.7 1064.1,528.1 1064.3,528.1 1064.2,531.4 1064.6,531.5 1063.2,534.9 1063.7,535.1 1062.2,538.5 1062.9,538.8 1061.5,542.2 1059.4,541.6 1059,545.2 1060.7,545.5 1060.3,549 1060,548.9 1059.6,552.4 1060.7,552.5 1060.2,555.9 1059.4,555.9 1059.1,559.3 1058.1,559.2 1057.8,562.8 1059,562.8 1058.8,566.2 1060,566 1061.3,568.6 1063,568.4 1064.3,571.2 1061.2,571.4 1060.3,574.8 1059,574.7 1058.2,578 1060.8,578.6 1059.9,582 1059.2,581.8 1058.9,585.3 1057.8,585.1 1057.5,588.5 1058.8,588.8 1058.5,592.3 1058.9,592.5 1057.1,595.5 1057.5,595.6 1055.8,598.5 1053.2,597.4 1051.4,600.4 1051.5,600.4 1051.5,603.9 1057.5,605.5 1057.5,608.9 1053.3,607.8 1051.5,610.8 1050.8,610.5 1049.1,613.4 1053.9,616.4 1052.1,619.4 1048.3,616.8 1046.5,619.1 1044.9,618 1043.2,620.3 1045.2,621.9 1043.4,624.2 1042.9,623.8 1040.4,626.3 1040,626 1037.5,628.6 1036.8,628.2 1035.1,631.6 1036.7,632.6 1035,636 1034.5,635.7 1032.7,638.3 1030.8,637.1 1029.1,639.7 1029,639.6 1027.3,642.1 1032.8,646.4 1030.8,649.4 1028.8,647.5 1026.3,649.4 1023.7,646.6 1021.4,648.3 1020.8,647.7 1018.4,649.5 1022.6,653.2 1021.1,655.8 1018.3,653.8 1016.6,656.6 1015.3,656 1013.6,658.9 1014.7,659.4 1015.4,660 1015.6,660.1 1014.4,663.5 1014.8,663.6 1013.6,667.1 1014,667.3 1012.8,670.8 1012,670.4 1010.2,673.9 1011.3,674.3 1009.5,677.8 1008.6,677.4 1006.9,680.8 1009.9,682.5 1008.2,685.4 1003.7,682.9 1002,685.7 1003.3,686.5 1001.6,689.4 1002.2,689.9 1000.1,692.5 998.3,691.1 996.2,693.6 997.4,694.7 995.2,697.2 995,697.1 992.9,699.7 995.7,702 993.4,704.9 990.4,702.4 988.1,705.3 988,705.2 985.7,708 986.5,708.7 984.2,711.6 984.1,711.5 981.8,714.3 983.1,715.3 980.8,718.1 979.3,717.1 977.6,720 978.3,720.4 976.7,723.2 977.2,723.5 975.5,726.2 975,726 973.9,729.4 973.6,729.3 972.4,732.7 970.9,732.1 969.8,735.5 970.8,736.1 969.1,738.4 971.2,739.7 969,742.6 966.8,740.3 965.1,742.5 966,743.8 962.4,745.1 962.2,744.7 958.8,745.8 958.8,745.9 955.5,746.9 955.5,746.9 953.9,749.7 953.6,749.4 951.9,752.2 951.2,751.8 949.5,754.7 950.2,755.1 948.4,757.9 948.9,758.2 947.2,761.1 947.1,761.1 945.4,763.9 944.9,763.6 943.2,767.1 942.1,766.5 940.4,769.9 942.3,771.1 940.5,774.6 938.4,773 936.2,774.6 937.1,775.5 934.8,777.2 933.7,776 931.3,777.8 933.1,779.6 930.9,782.4 929.8,781.5 927.5,784.4 926.6,783.6 924.3,786.4 926.8,788.7 924.5,791 923.1,789.6 920.7,792 921.3,792.4 919,794.7 917.9,793.8 916.1,796.8 920.1,799.5 917.9,802.9 915.3,800.3 913.6,803.2 913.6,803.1 910.1,803.1 909.8,801.9 906.4,801.9 906.8,803.8 903.6,803.8 902.8,802.4 900.9,805.5 900.8,805.5 898.9,808.7 898.7,808.6 897.1,811.5 899.1,812.9 897.3,816 895.5,814.5 893,816.6 894.2,817.9 891.6,820.1 890,818.2 887.5,820.3 888.8,822 886.2,824.1 885.8,823.6 883.5,825.3 884.3,826.3 881.8,828.2 881.5,827.7 879.1,829.4 879.4,830.6 875.6,830.1 875.6,829.9 872.3,829.3 872.2,828.2 868.9,827.6 868.8,827.3 867.1,830.3 866.1,829.3 864.1,832.6 864.8,833 863.1,836.1 862.7,835.8 861,838.9 862.5,839.7 860.8,843.1 858.8,842.1 857.2,845.4 860.8,847.8 858.8,851.6 855.4,848.6 852.7,850.1 854.7,852.5 851.7,854.3 849.9,851.7 847,853.5 848.7,855.7 846.1,858.4 845.7,857.8 843.1,860.4 845.6,864.7 841.6,865.8 839.1,859.4 836,860.1 836.3,861.5 833.1,862.3 832.8,861.2 829.5,861.9 830.1,864.2 826.8,865 826.6,864.2 823.4,864.9 823.5,865.4 820.3,866.2 820.1,865.8 816.9,866.5 819,872.1 816,873.6 814,869 810.8,870.6 810.1,869.1 806.8,870.7 807.7,872.5 804.3,874.1 804.2,874 800.8,875.7 800.2,873.2 797.1,873.1 797,872.6 794,872.6 794,878.4 790.7,878.4 790.7,873 787.4,873 787.4,875.6 784.1,875.6 784.1,877.3 780.7,877.1 780.8,872.6 777.5,872.4 777.3,875.2 773.9,875 774,874.4 770.6,874.2 770.5,874.4 767.1,874.2 767.1,874.1 763.8,873.9 763.8,873.8 760.4,873.6 760.4,873.7 757,873.5 757.1,871.4 753.7,871.3 753.6,873.2 750.2,873 750.2,873 746.8,872.9 746.7,876 743.3,875.8 743.4,872 740,872 740,873.7 736.6,873.7 736.6,872.9 733.2,872.9 733.2,873.2 729.8,873.2 729.8,873.2 726.4,873.2 726.4,874 723,874 723,873.8 719.6,873.8 719.6,876.3 716.2,876.3 716.2,873.5 712.8,873.5 712.8,871.9 709.4,871.9 709.4,870.7 706.1,870.7 706,872.1 702.6,872.1 702.6,872 699.2,871.6 698.8,877.2 695.3,876.8 696,870.2 692.6,869.8 692.2,873.3 688.8,872.9 688.9,871.8 685.6,871.5 685.7,869.3 682.2,869 682.3,871.4 679,872.1 678.7,870.3 675.3,871 675.3,870.7 671.9,871.4 671.9,871.7 668.5,872.4 668.8,874 665.4,874.7 666,878.1 662.5,878.8 661.8,874.2 658.3,874.5 658.4,875.4 654.9,875.7 654.9,875.7 651.4,876 651.5,876.7 648,877 647.8,874.8 644.3,875.1 644.3,875.4 640.8,875.7 640.7,874.7 637.1,875 638.4,881.1 635.5,882.2 634.3,878.1 631,879.4 630.6,878.2 627.3,879.4 627.4,879.5 624.2,880.7 624.3,881.3 621.1,882.5 621,881.3 617.8,880.2 617.8,880.9 614.4,879.9 614.7,879 611.3,878 610.9,879.4 607.5,878.4 607,879.9 603.7,878.9 603.8,878.5 600.4,877.5 600.3,877.9 596.9,877.2 597.6,874.4 594.1,873.8 593.8,875.3 590.4,874.6 590.3,875.4 586.9,874.7 586.9,874.6 583.5,873.9 583.3,874.6 579.8,873.9 580.4,872 577,870.6 576.3,872.6 572.8,871.2 573.9,868.5 570.5,867.1 569.8,868.9 566.4,867.5 566.2,868.3 562.8,866.9 563.4,865.2 560,863.9 559.4,866.3 556.1,866 556.1,866.1 552.9,865.8 553.1,864 549.7,863.6 549.4,866.2 546,865.9 546.3,863.3 542.9,863 542.7,867.2 539.6,866.9 539.5,863.4 536.6,863.9 536.4,861.9 533.3,862.4 533.5,863.5 530.3,864 530.4,865.1 527.1,865.6 527.2,864.8 524.6,863.4 524.2,864.3 521.3,862.7 521.8,862.1 519.2,860.6 518.6,861.3 516.1,858.4 518.2,856.4 516,853.6 514.4,854.8 512,851.9 512.9,851.4 511.2,847.9 509.9,848.6 508.2,845.1 505,846.8 503.3,843.4 507.8,841 506.1,838.1 506.6,837.8 504.9,834.9 505.8,834.4 504.1,831.6 503.1,832.1 501.7,828.7 500.3,829.3 498.8,825.9 499.5,825.6 498.1,822.1 498,822.2 496.5,819.6 496.6,819.6 495,817 493.8,817.7 492.2,815 493.3,814.5 491.7,811.9 492.8,811.4 491.7,808 490.7,808.4 489.6,804.9 488.3,805.4 487.1,802 488.3,801.6 486.5,798.1 486.2,798.3 484.5,794.8 485.7,794.3 484,790.9 482.1,791.5 481.4,788 482.3,787.7 481.6,784.3 480.7,784.4 480.1,780.9 482,780.6 481.4,777.2 479.9,777.4 479.5,773.9 479.6,773.9 479.2,770.5 480.7,770.3 480.2,766.8 481,766.6 480.6,763.1 476.7,764.1 475.3,760.9 478.6,759.7 477.2,756.2 476.1,756.7 474.6,753.2 473.3,753.8 472,750.8 473.6,750.1 472.3,747.1 471.7,747.3 470.4,744.4 470.2,744.5 468.9,741.6 469.1,741.4 467,738.9 466.2,739.4 464.1,736.9 466.6,734.9 464.5,732.4 461.9,734.3 459.7,731.6 462.6,729.8 461.3,726.9 459.9,727.6 458.6,724.6 458.9,724.5 457.6,721.5 452.6,724 451.5,721.4 454.4,719.6 452.4,717.3 453.8,716.3 451.7,713.9 450.6,714.8 448.5,712.4 450.8,710.4 448.8,708.1 447.9,708.8 445.8,706.4 446.7,705.7 445,703 444.5,703.3 442.8,700.6 441.3,701.6 439.5,698.8 439.6,698.8 437.8,696 440,694.8 438.3,692 436.5,693.1 435.1,690.3 435.6,690 434.2,687.3 435.5,686.6 434.1,683.9 434.1,683.8 432.7,681 430.2,682.5 428.9,679.8 430,679 427.7,676.1 426.7,676.9 424.3,674 426.1,672.8 423.9,670 421.9,671 420.7,667.5 423,666.5 421.9,663.1 421.4,663.2 420.3,659.8 421.4,659.3 419.6,655.8 417.3,656.4 415.4,652.5 414.3,652.6 415.4,648.8 417,648.9 418.1,645.5 417.3,645.4 418.5,642.1 420.4,642.1 419.2,638.5 417.5,638.7 416.4,635.4 418.4,634.7 417.2,631.2 415.8,631.8 414,628.4 412.7,629 410.9,625.4 412.1,625 410.4,621.4 411.1,621.3 412,618.8 410.9,618.8 411.8,616.2 413.5,616.2 412.7,613 411.7,613.2 410.9,610.1 410.4,610.3 409.6,607.3 408.6,607.6 407.8,604.7 406,605.6 404.4,603.6 406.7,602.2 405,599.9 404.6,600.1 402.8,597.6 404.5,597 404.2,593.7 404.1,593.7 403.8,590.3 404.5,590.2 404.1,586.8 404.3,586.7 403.9,583.1 401.8,583.6 401.5,580.3 401.5,580.3 399.3,577.5 400.8,576.6 398.4,573.6 396.4,575.1 394.1,572.1 394,572.2 392.5,569.2 390.8,570.2 389,566.5 391.8,565.8 390.3,562.8 391.5,562.7 392.8,559.4 388.9,559 390.2,555.1 394.8,556.1 395,552.9 392.7,552.6 392.9,549.5 391.2,549.4 391.3,546.3 395.4,546.4 395.5,543.3 392.4,543.1 392.5,540.2 395.6,539.9 395.7,536.5 392.9,537.3 391.3,535.3 393.5,534.2 391.8,531.8 391.7,531.9 390,529.7 389.8,529.7 389.2,526.8 389.1,526.8 388.5,523.9 387.4,524.1 386.8,521 386.9,521 386.3,517.9 387,518 388.1,514.6 387.4,514.4 388.5,511 388.7,511 389.9,507.6 390.5,507.6 389.3,504.1 388.5,504.2 387.3,500.8 389.4,500.3 388.2,497 387.8,497 387.8,493.7 386.9,493.8 386.9,490.3 387.5,490.3 387.5,486.9 386.5,486.9 386.5,483.4 383.6,483.4 383.6,480 386.1,480 386.1,476.7 386.5,476.7 386.5,473.5 385.8,473.5 385.8,470.2 388.3,470.2 388.3,466.9 386,466.9 386,463.6 385.1,463.6 385.1,460.4 385.2,460.4 385.2,457.2 385.4,457.1 385.4,453.9 387.2,453.8 386.7,450.4 387.3,450.4 386.8,447 386.1,447.1 385.6,443.8 386.5,443.6 386,440.3 385.5,440.4 385,437 383.1,437.3 382.6,434 385.5,433.6 385,430.2 381.7,430.7 381.2,427.4 383.2,427.1 382.7,423.7 380.9,424 380.4,420.5 380.8,420.5 380.3,417 381.6,417.2 382.7,413.9 382.8,413.9 383.9,410.6 385.1,411 386.3,407.7 386.3,407.8 387.5,404.5 385,403.6 386.1,400.3 388.3,401 389.4,397.7 388.7,397.5 389.9,394.2 387.7,393.4 388.9,390.1 390,390.5 391.2,387.2 390.6,387 391.8,383.7 391.8,383.7 392.9,380.4 393.8,380.7 395,377.3 396.2,378.1 397.2,375 395.2,373.1 398.7,371.4 398.8,371.5 402.2,369.7 402.8,370.3 404.5,366.9 401.2,364.6 402.6,361.7 407,364 408.8,360.6 407.4,359.8 409.1,357 409.5,357.2 411.2,354.4 408.2,352.6 409.9,349.8 412.3,351.3 414.1,348.5 414.8,349 416.6,346.2 417.4,346.9 419.7,344.6 414.5,340 416.5,337.9 421.9,342.2 424.2,339.9 424.9,340.3 426.3,336.7 426.5,336.9 428,333.3 425.1,332.1 426.5,328.7 427.1,328.9 428.5,325.5 429.5,325.9 430.9,322.5 429.9,322 431.6,318.9 433.5,319.9 435.2,316.9 434.1,316.3 435.8,313.3 434.6,312.7 436.2,309.8 438.9,310.8 439.5,307.2 437,306.6 437.6,303.2 439.9,303.7 440.5,300.3 438.8,299.9 439.9,296.6 441.2,297 442.2,293.7 439.9,293 440.9,289.7 437.7,288.7 438.8,285.4 443.2,286.9 444.2,283.5 443.4,283.1 444.6,279.6 442.6,277.9 446.1,275.8 447.6,277.7 450.8,276.1 451.3,277.1 454.2,275.6 454.9,277 457.8,275.5 456.7,273.3 459.6,271.8 460.8,274.3 463.8,272.8 463.2,271.8 466.1,270.3 465.5,269.5 468.2,267.1 468.3,267.3 471,265 471.1,265.1 473.8,262.7 474.2,263.1 476.9,260.7 473.6,257 476.2,254.7 480,258.7 482.7,256.4 482.1,255.7 484.4,253.2 483.5,252.3 485.7,249.8 488.3,252.1 490.6,249.6 489.8,248.9 492.1,246.3 491.8,246.1 494.1,243.5 492.6,242.2 494.9,239.6 496.7,241.2 499,238.6 498.6,238.3 500.9,235.7 501,235.8 501.1,232.5 501.1,232.5 501.1,229.2 501.9,229.2 501.9,225.9 501.3,225.9 501.3,222.8 500.5,222.6 500.6,219.2 499.9,218.8 503.2,217.2 503.3,217.4 506.6,215.9 507.4,217.8 510.5,216.5 510.2,215.8 513.2,214.4 513.1,214 516.1,212.7 516.6,213.8 519.7,212.4 519.6,212.2 522.4,210.5 521.8,209.4 524.5,207.7 524.7,208 527.4,206.3 527.1,205.9 529.8,204.2 530.2,204.7 532.9,203.1 530.6,198.3 533.9,196.4 535.9,202.5 539.2,202.2 538.9,201.1 542.3,200.8 542.2,200 545.6,199.7 545.3,196.8 548.7,196.4 549.1,200.1 552.5,199.7 552.3,198.7 555.6,198.4 556,199.5 558.8,197.7 559,198.2 561.8,196.4 561.5,196 564.3,194.3 564.8,195.1 567.5,193.4 567.3,193.1 569.9,191.4 569.8,191.1 572.5,189.4 572,188.5 575.2,186.9 575,186.3 578.2,184.7 579.4,186.9 582.6,185.3 582.2,184.5 585.4,182.9 584.6,180.7 588,179 588.8,182 592.3,181.8 591.9,179.9 595.5,179.6 595.7,181.2 599.2,180.9 599.2,181.2 602.8,181 602.7,178.9 606.2,178.6 606.3,179.8 609.9,179.5 609.9,180.4 613.8,180.1 612.9,177 616,176.9 617.5,179.5 619.4,176.5 618.9,176 620.6,173.1 619.9,172.7 621.5,169.8 621.4,169.8 623.1,166.8 622.4,166.2 624.3,163.1 624.4,163.3 628.1,162.5 628.2,162.7 631.7,162 631.2,159.3 634.6,158.6 635.6,163.6 639,162.9 638.2,158.8 641.6,158.1 641.9,159.8 645.4,159.1 645.3,158.7 648.7,158.4 649.1,161.4 652.5,161 652.5,161.2 655.9,160.9 655.7,159.4 659.1,159.1 659.1,158.5 662.5,158.2 662.5,158.5 665.9,158.2 666.2,159.3 669.4,157.7 668.5,155.4 671.4,153.9 669.5,150 673.1,148.2 675.1,153.8 678.2,152.2 678.4,153.2 681.8,153.2 681.5,150.6 685.1,150.6 685.1,153.7 688.6,153.7 688.6,150.3 692.1,150.3 692.1,152.5 695.6,152.5 695.6,151 699.3,151 699.2,151.6 702.8,151.6Z"/>
<path fill="#416aaf" d="M702.6,169.1 706,169.2 706,169.3 709.5,169.4 709.3,172.1 712.7,172.3 712.7,172.2 716.1,172.4 716.3,170.1 719.7,170.3 719.6,170.6 723,170.7 723,170.9 726.4,171.1 726.4,172.2 729.8,172.4 729.8,171.5 733.2,171.6 733.2,171.6 736.6,171.8 736.6,171.9 740,172.1 739.9,173.3 743.3,173.5 743.4,172.7 746.8,173.4 746.7,173.5 750.1,174.1 750.3,173.2 753.7,173.9 753.9,173.1 757.3,173.7 757.2,173.9 760.8,174.6 760.4,175.7 763.8,176.4 763.7,176.7 766.2,178.7 766,179.2 768.4,181.2 768,181.7 770.6,183.8 770.5,183.8 773.1,185.8 773.9,184.8 776.5,186.8 776.2,187.2 778.7,189.2 778.8,189.1 781.4,191.1 782.3,189.9 784.8,191.9 784.2,192.8 787.1,194.3 787.2,194.2 790.1,195.6 789.6,196.5 792.6,197.9 792.3,198.5 795.2,200 795.6,199.2 798.5,200.6 798.2,201.1 801.2,202.6 801.7,201.6 804.6,203 805.2,201.7 808.1,203.2 807.7,204 810.6,205.5 810,206.8 812.9,208.3 813.8,206.4 816.7,207.8 816.6,208.1 819.5,209.5 819.4,209.7 822.4,211.2 822.7,210.8 825.7,212.3 825.4,212.6 827.9,215.1 828,215 830.5,217.5 829.5,218.5 832,220.9 833.3,219.6 835.8,222 835.7,222.1 838.2,224.5 836.5,226.2 838.8,228.5 840,227.3 842.4,229.6 842.3,229.7 844.6,232 844.1,232.6 846.4,234.9 846.6,234.7 848.9,237.1 848.8,237.2 851.1,239.5 852,238.5 854.3,240.8 853.5,241.8 856,243.8 856.7,243.1 859.2,245.1 858.3,246.2 860.9,248.3 861.9,247 864.4,249.1 864.4,249 867,251.1 866.2,252.1 868.7,254.1 868.9,253.9 871.5,255.9 872.1,255.1 874.7,257.2 874.3,257.6 876.7,259.9 876.2,260.5 878.5,262.8 877.9,263.4 880.3,265.7 880.5,265.5 882.8,267.8 883.6,267 886,269.3 884.8,270.5 887.1,272.7 888.8,271.3 891.2,273.7 889.6,274.8 891.2,278 892.9,277 894.5,280.3 892.9,281.1 894.6,284.3 896.3,283.4 897.9,286.6 897.2,286.9 898.9,290.1 898.3,290.4 900,293.6 900,293.6 901.6,296.8 902,296.6 903.6,299.7 903.4,299.8 906,302.4 905.4,303 908,305.6 907.7,305.8 910.3,308.4 911,307.7 913.6,310.3 914.5,309.5 916.7,312.1 916,312.7 918.1,315.3 916.9,316.3 919,318.9 920.7,317.5 922.9,320 922.7,320.2 925.2,322.8 925.6,322.4 928.2,325 926.7,326.5 929.3,329.1 930.4,327.9 933,330.5 931.5,331.9 933.6,334.3 934.9,333.1 937,335.6 936.1,336.3 938.2,338.7 938.1,338.8 940.2,341.3 941.6,339.9 943.6,342.3 942,343.9 944.6,346.1 945.5,345.2 948.1,347.4 948.7,346.6 951.3,348.8 950.1,350.1 952.7,352.3 952.6,352.3 954.6,354.7 956.1,353.4 958.2,355.8 957.2,356.7 959.2,359.1 959.9,358.5 962,361 960.4,362.3 962.4,364.6 963.2,364 964.9,366.6 964.5,367 966.2,369.5 967.4,368.7 969.1,371.3 967.7,372.3 969.4,374.9 971.6,373.4 973.7,376.4 971.4,378 973.6,381 975.3,379.8 977.5,382.8 975.7,384 977.8,386.9 978.4,386.6 980.1,390 981.6,389.2 983.4,392.7 981.6,393.6 983.3,397 983.4,397 984.7,400 986,399.3 987.3,402.4 986.5,402.7 987.8,405.8 986.9,406.2 988.2,409.3 990.7,407.9 992.9,410.6 990.8,412.1 993.2,415 992.9,415.2 995.2,418.1 995.9,417.5 997.6,420.1 998.3,419.6 1000,422.2 1000.4,422 1002.1,424.6 1000.5,425.6 1002.2,428.2 1002.8,427.9 1004.5,430.4 1003.7,431 1005.5,433.5 1006.5,432.8 1008.2,435.4 1009,434.9 1010.7,437.4 1010.7,437.5 1012.8,439.6 1013.1,439.3 1015.3,441.4 1014.9,441.7 1017.1,443.9 1017.3,443.6 1019.5,445.8 1019.1,446.1 1021.3,448.3 1020.8,448.8 1023,450.9 1022.4,451.4 1024.6,453.6 1025.5,452.7 1027.7,454.9 1026.9,455.5 1029.2,458.4 1028.7,458.8 1031,461.6 1031.8,461 1034.1,463.9 1035.2,463.2 1036.9,466.2 1035,467.4 1036.7,470.4 1037.9,469.7 1039.6,472.7 1039.1,473 1040.8,476 1041.2,475.8 1043.9,480 1042.9,480.5 1043.9,483.8 1046.2,482.9 1047.3,486.5 1045.3,487.1 1046.3,490.6 1047.3,490.3 1048.3,493.7 1047.8,493.8 1048.8,497.3 1047.6,497.5 1047.6,500.8 1049.2,500.7 1049.2,504.1 1048,504.1 1048,507.6 1047.7,507.6 1047.7,511 1047.7,511 1047.7,514.4 1048,514.4 1047.7,517.9 1047.5,517.8 1047.2,521.3 1048.8,521.4 1048.4,524.9 1048,524.8 1047.7,528.3 1049.1,528.4 1048.8,531.9 1048.6,531.9 1048.3,535.3 1048.5,535.3 1048.1,538.8 1045.8,538.5 1045.5,542 1046.1,542.1 1045.8,545.5 1045.2,545.4 1044.9,548.9 1045.9,549 1045.5,552.4 1045.6,552.5 1045.3,555.9 1045.8,556 1045.5,559.4 1045.2,559.4 1044.9,562.8 1043.5,562.7 1043.2,566.1 1043.7,566.2 1043,569.6 1043.3,569.7 1042.6,573.1 1041.1,572.8 1040.4,576.3 1040.5,576.3 1039.8,579.7 1040.9,579.9 1040.2,583.4 1039.3,583.2 1038.3,586.6 1040.1,587.1 1039,590.5 1037.6,590.1 1036.6,593.6 1036.2,593.4 1035.2,596.8 1035.4,596.9 1034.4,600.3 1034.5,600.4 1032.8,603.4 1032.8,603.4 1031.1,606.5 1031.9,606.9 1030.1,610 1030,609.9 1028.3,613 1027.9,612.8 1026.2,615.9 1027,616.4 1024.9,619.5 1023.8,618.8 1021.8,621.9 1023.5,623.1 1021.5,626.2 1021.6,626.3 1019.5,629.4 1018.9,629 1016.9,632.1 1016.1,631.6 1014,634.6 1014.2,634.8 1012,637.8 1012.2,637.9 1010,640.9 1008.7,640 1006.6,643.1 1007.5,643.7 1005.7,646.5 1006,646.7 1004.3,649.6 1003.4,649 1001.7,651.9 1001.5,651.7 999.8,654 1001.5,655.2 999.8,657.5 998.7,656.8 997,659.1 997.4,659.3 996.3,663 997.4,663.4 996.3,666.9 995.4,666.6 994.3,670.3 993.4,670 992.3,673.6 994.2,674.3 992.8,677.1 991.1,676.4 989.8,679.1 988.8,678.7 987.4,681.4 989.2,682.3 987.8,685.1 986.3,684.2 984.9,687 985.5,687.3 983.4,690 984.7,690.9 982.6,693.7 982.2,693.4 980.2,696.2 978.6,695 976.5,697.7 977.6,698.5 975.5,701.3 975.4,701.2 973.3,703.6 973.5,703.8 971.4,706.2 970.8,705.6 968.7,708.1 969.6,708.8 967.5,711.2 966.4,710.2 964.3,712.6 964.8,713 962.2,715.6 962.4,715.8 959.8,718.4 961,719.5 958.4,722.1 956.6,720.3 954,722.9 955.5,724.3 952.9,726.9 951.7,725.7 949.1,728.3 949.9,729.1 947.3,731.7 946.9,731.3 944.3,733.9 944.5,734.1 942.3,737.1 943,737.6 940.9,740.6 940,740 937.9,743 937.2,742.5 935.1,745.5 935.1,745.5 932.5,748 932.4,747.9 929.9,750.5 931.5,752.1 929,754.7 928.5,754.3 925.9,756.8 926.6,757.5 924.5,760 923.9,759.5 921.7,762.1 920.2,760.8 918,763.4 919.5,764.6 917.4,767.2 917.7,767.4 915.9,770 915.8,769.9 914.1,772.4 913.5,772.1 911.8,774.7 911.5,774.4 909.8,777 910,777.2 907.4,779.3 908.1,780 905.5,782.2 904.5,781 901.9,783.2 902.4,783.8 899.8,785.9 899.7,785.8 896.9,787.9 897.8,789 895,791.1 894.8,790.7 892,792.8 892.3,793.1 889.5,795.2 889.3,794.9 886.6,797 885.6,795.7 882.8,797.8 882.7,797.6 880,799.7 880.4,800.3 877.7,802.4 877.2,801.8 874.5,803.9 874.8,804.3 872,806.4 872.5,807 869.4,808.7 869.8,809.3 866.8,811.1 866.3,810.2 863.2,811.9 863.6,812.5 860.6,814.2 859.4,812.5 856.9,814.6 857.4,815.2 855,817.3 856.2,818.7 853.8,820.8 852.2,818.8 849.8,820.9 850.3,821.5 847.9,823.6 847.2,822.8 844.6,825 844.6,825 842.1,827.1 843.6,829 841,831.2 841.2,831.4 838.6,833.5 838,832.8 835.4,834.9 834.4,833.7 831.8,835.9 832.1,836.3 829.6,838.4 829.4,838.2 826.9,840.4 827.6,841.5 824.8,842.9 824.8,842.9 822.1,844.3 821.7,843.6 819,845 819.1,845.2 816.3,846.6 815.8,845.5 813.1,846.8 813.6,848 810.1,848.9 810.5,850.1 807,851 806.8,850.4 803.4,851.3 802.9,849.3 799.5,850.2 799.8,851.4 796.3,852.3 796.5,852.9 793,853.7 792.7,852.4 789.2,853.3 789.7,855.1 786.2,856 785.9,854.7 782.8,855.2 783,855.9 779.8,856.5 779.7,855.6 776.6,856.1 776.9,857.8 773.8,858.4 773.7,857.7 770.5,858.3 770.5,857.6 767,858 766.9,856.7 763.4,857 763.5,857.9 760.1,858.3 760,857 756.5,857.4 756.7,859.1 753.2,859.4 753.3,860.3 750.1,860.4 749.9,858.3 746.8,858.4 746.8,859.4 743.6,859.5 743.6,859.5 740.4,859.6 740.4,859.3 737.2,859.5 737.2,860.4 734,860.5 734,861.2 730.8,861.3 730.8,860.6 727.2,860.4 727.3,859.7 723.7,859.4 723.6,860.9 720.1,860.7 720.3,858.8 716.7,858.5 716.6,859.8 713.1,859.5 713.1,859.3 709.6,859 709.6,859.3 706.1,859.1 706.1,859.4 702.5,859.1 702.7,857.2 699.3,856.9 699.2,858.1 695.8,857.7 695.8,857.1 692.5,856.7 692.4,857.5 689,857.2 688.9,858.1 685.5,857.8 685.6,856.8 682.2,856.4 682.3,854.6 678.9,854.6 678.8,855.9 675.4,855.9 675.4,856.7 672,856.7 672,857.2 668.6,857.2 668.6,856.5 665.2,856.5 665.2,857 661.8,857 661.8,854.6 658.4,854.6 658.4,857.3 655,857.3 655,856.7 651.6,856.7 651.6,856.3 648.2,856.3 648.2,857.2 644.9,857.2 644.9,857.2 641.5,857.2 641.4,854.8 638,855.2 638.2,857.4 634.8,857.7 634.8,857.6 631.5,858 631.3,856.3 627.9,856.7 628.1,858.3 624.7,858.7 624.7,858.2 621.3,858.6 621.2,857.4 617.9,857.8 618,859.7 614.6,860.1 614.6,858.1 611.2,857.5 611.1,859 607.6,858.4 607.7,857.9 604.3,857.4 604.3,856.9 600.9,856.3 600.8,857.3 597.3,856.7 597.4,856.5 593.9,855.8 594,855 590.6,854.3 590.2,856.5 586.7,855.9 587.2,853.2 583.8,852.5 583.8,852.3 580.4,851.6 580.1,853.1 576.7,852.4 576.4,853.4 573,852.7 573.1,852.2 569.7,851.5 569.6,851.8 566.1,851.1 566.3,850.3 562.9,849.6 562.7,850.2 559.6,849.5 559.9,848.5 556.8,847.8 556.8,847.6 553.7,846.9 553.5,847.6 550.4,846.9 550.8,845.5 547.8,844.9 547.8,845 544.4,843.3 543.6,845.2 540.1,843.4 540.9,841.9 537.5,840.2 536.6,841.7 534,839.5 533.9,839.6 531.3,837.4 532,836.5 529.4,834.4 528.9,835 526.3,832.8 526.1,833 523.5,830.5 523.3,830.6 520.7,828 522.2,826.5 519.7,823.9 519.6,824 517.1,821.5 516.6,821.9 514.9,818.9 514.7,819 512.9,816 513.4,815.7 511.7,812.7 512.4,812.3 510.7,809.4 509.2,810.1 508,806.6 506.8,807.1 505.5,803.6 507.2,803 505.9,799.5 505.4,799.7 504.1,796.2 504.6,796.1 503.5,793 503.4,793 502.3,789.9 501.1,790.4 500.1,787.2 501.7,786.7 500.6,783.6 499.7,783.9 498.6,780.8 499.1,780.7 498.2,777.2 498.1,777.3 497.2,773.8 496.1,774.1 495.3,770.7 497.7,770 496.8,766.5 494.7,767.2 493.3,764.1 494.8,763.6 493.4,760.5 492.5,760.9 491.1,757.8 490.7,757.9 489.3,754.9 489.7,754.7 488.3,751.6 489,751.2 487.3,748.2 486.1,748.8 484.4,745.9 486.3,744.7 484.6,741.7 483.2,742.5 481.5,739.5 482.1,739.2 480.4,736 480,736.3 478.3,733.1 477.4,733.6 475.7,730.5 475.9,730.4 474.2,727.4 474.6,727.1 472.9,724 473.7,723.5 471.6,721 471.8,720.9 469.7,718.4 469.2,718.9 467.1,716.5 467.6,716 465.5,713.6 465.4,713.7 463.4,711.3 461.8,712.6 459.7,709.7 461.8,708.2 459.8,705.3 458,706.5 456,703.7 457.1,702.9 455.1,700 455.1,700 453.1,697.1 453.3,697.1 451.2,694.2 451.9,693.8 450.5,691 449.5,691.5 448,688.7 448.8,688.3 447.4,685.4 446.6,685.8 445.2,682.9 445.6,682.7 444.2,679.8 442.5,680.6 441.1,677.8 441,677.8 439.6,674.9 440.9,674.3 439.4,671.4 438.9,671.7 437.5,668.8 436.7,669.2 435.3,666.3 436.9,665.5 435.5,662.7 436.1,662.5 434.7,659.7 434.3,659.8 434.1,656.1 434.3,656 434.1,652.3 432.7,652.5 432,649 432.9,648.9 432.2,645.4 432.2,645.4 431.6,642 430.3,642.2 429.6,638.8 431.2,638.5 430.5,635 428.8,635.4 428.2,631.9 428.7,631.8 428,628.4 428.7,628.2 428,624.8 426.7,625 426,621.6 427.5,621.3 426.8,617.8 425.2,618.2 424.3,614.7 424.2,614.8 423.3,611.3 424.6,611 423.7,607.6 423.2,607.7 422.3,604.3 421.5,604.5 420.7,601 421.3,600.9 420.4,597.4 420.4,597.4 419.5,594 419.2,594.1 418.3,590.6 418.1,590.7 417.3,587.2 417.8,587.1 416.9,583.6 416.3,583.8 415.4,580.3 417.4,579.8 416.6,576.4 415.6,576.6 414.7,573.2 414.6,573.2 413.7,569.8 414.6,569.6 413.8,566.1 413.7,566.2 413.5,562.7 414.2,562.7 414,559.3 411.7,559.4 411.5,555.9 413.3,555.8 413.1,552.4 412.7,552.4 412.6,549 411.3,549.1 411,545.6 413.1,545.4 412.8,542 410.4,542.2 410.1,538.8 412.6,538.5 412.2,535.1 412.5,535 412.2,531.6 411.2,531.7 410.9,528.2 410.9,528.2 410.5,524.8 408.8,525 408.5,521.5 408.6,521.5 408.3,518 408.6,518 408.3,514.5 409.2,514.5 409.2,511 408.9,511 408.9,507.6 409.8,507.6 409.8,504.1 408.1,504.1 408.1,500.7 409.4,500.7 409.4,497.2 409.7,497.2 409.5,493.8 408.5,493.8 408.3,490.4 409.8,490.3 409.6,486.8 409.1,486.9 408.9,483.4 407.1,483.6 406.9,480.1 409.4,479.9 408.7,475.8 408.6,475.9 408.1,472.3 407.9,472.4 407.4,468.9 407.3,468.9 406.8,465.4 406.3,465.5 405.8,462 406.3,461.9 406,458.5 405.7,458.5 405.4,455.1 405.7,455.1 405.3,451.6 405.3,451.6 405,448.2 403.9,448.3 403.5,444.9 404.3,444.8 404,441.3 403.9,441.4 403.4,437.9 402.2,438.1 401.7,434.6 403.8,434.3 403.3,430.9 403,430.9 402.5,427.4 400.4,427.8 399.9,424.2 401.1,424.1 400.6,420.7 399.6,420.7 399.9,417.8 401.8,417.8 402.1,415.2 400.9,414.9 401.2,412 400.4,411.6 402.8,408.5 404,409.3 406.3,406.3 405.4,405.4 407.8,402.4 408.1,402.7 411.5,401.1 411.8,401.6 415.1,399.9 414.2,398.4 417.5,396.8 418.5,398.3 420.9,396 420.8,395.9 423.2,393.6 422.9,393.3 425.3,391.2 426.1,391.7 427.8,388.2 426.5,387.4 428.1,384 428.8,384.4 430.5,380.9 430.5,380.9 431.8,377.9 432,378 433.3,375 432,374.4 433.3,371.4 433.3,371.4 434.6,368.4 435,368.6 436.3,365.5 437.4,366 438.7,363 438.8,363 440.1,360 439.8,359.9 441.1,356.9 442.4,357.4 443.7,353.9 443.5,353.9 444.8,350.4 442.3,349.5 443.6,346 446,347 447.3,343.5 445.1,342.6 446.5,339.7 447.2,340 448.7,337.1 448.1,336.8 449.5,333.9 451.7,335 453.2,332.2 452.6,331.9 454,329 452.7,328.3 454.1,325.5 456.3,326.5 457.6,323.4 457.4,323.3 458.8,320.1 458.1,319.8 459.5,316.7 460,316.9 461.3,313.9 461.4,313.9 462.7,310.9 461.4,310.1 463.1,307.5 464.6,308.4 466.3,305.9 464.1,304.4 465.8,301.9 466.6,302.4 468.3,299.8 469.9,300.6 471.3,297.2 469,296.2 470.4,292.9 472.2,293.6 473.6,290.4 472.9,290 474.3,286.7 474.1,286.5 476.9,284.3 477.8,285.1 480.4,283 479.7,282.1 482.4,279.8 483.3,280.9 486,278.6 485.7,278.3 488.4,276 487.1,274.4 489.8,272.1 490,272.3 492.7,270 493.3,270.7 496,268.5 495.7,268.1 498.4,265.8 498,265.4 500.5,263.1 502,264.8 504.6,262.5 503.8,261.7 506.4,259.4 507.1,260.2 509.7,257.9 509.7,257.9 512.2,255.6 512.3,255.7 514.8,253.4 514.6,253.1 517.1,250.9 517.5,251.2 520,248.9 519.7,248.6 522.2,246.5 521.9,246.2 524.4,244.1 524,243.5 526.5,241.5 526.1,241 528.6,238.9 528.6,238.8 531.1,236.8 531.5,237.2 534,235.2 534.4,235.7 536.9,233.6 536.2,232.6 538.8,230.6 540.1,232.4 543.1,230.7 543.2,230.8 546.2,229.1 545.1,227.2 548.2,225.4 548.5,225.9 551.6,224.1 552.2,225.2 555.2,223.4 555,223 558,221.2 558.2,221.4 561.2,219.6 561,219.3 564.1,217.5 564.1,217.5 567.2,215.9 567.3,216 570.5,214.4 569.9,213.4 573.1,211.8 573.1,211.7 576.2,210.2 576.6,210.8 579.8,209.2 579.9,209.5 583,207.9 583.3,208.4 586.5,206.8 585.8,205.5 589,203.9 588.8,203.3 592,201.7 592.8,203.8 596,202.9 595.5,201.6 598.7,200.7 598.7,200.7 601.9,199.8 601.9,199.9 605.1,199 605.6,200.8 608.8,199.9 608.3,198.4 611.5,197.5 611.8,198.5 615,197.6 615,197.6 618.2,196.7 617.8,195.6 621,194.7 620.9,194.5 624.3,193.1 624.3,193.2 627.7,191.8 627.6,191.5 631,190.1 631,190.3 634.4,188.9 634.7,189.5 638.1,188.2 638.5,189.4 641.9,188 641.2,186 644.6,185 644.6,184.8 648,183.8 648,183.7 651.4,182.7 651.6,183.4 655,182.4 655.4,184 658.9,183 658.8,182.5 662.2,181.5 662.3,181.7 665.2,180.1 664.5,178.6 667.3,177 667.5,177.3 670.3,175.6 670.9,176.6 673.6,175 672.7,172.9 675.7,171.2 675.7,171.1 679.2,170.8 679.2,171 682.6,170.8 682.7,172.1 686.1,171.8 686.1,172.3 689.4,172.1 689.4,172.3 692.7,172.1 692.6,170.2 695.9,170 695.9,170.3 699.3,170.1 699.3,171.4 702.6,171.1Z"/>
<path fill="#6399c7" d="M702.6,181.4 705.9,181.9 706,181 709.4,181.5 709.4,182 712.8,182.5 712.9,181.9 716.3,182.4 716.3,182.3 719.7,182.8 719.4,184.5 722.8,185 722.8,185.1 726.2,185.6 726.6,183.2 730,183.7 729.7,185.4 733.1,185.9 733.1,186 736.5,186.5 736.8,184.3 740.3,184.8 740,186.3 743.4,186.8 743.6,185.8 747.1,186.6 746.9,187.7 750.4,188.6 750.5,188.1 754,189 753.6,190.4 757.1,191.3 757.5,189.8 761,190.7 761.1,190 764.7,190.9 764.4,191.9 767.9,192.8 768.1,192.2 770.9,193.9 770.8,194.1 773.6,195.8 772.6,197.4 775.3,199.1 776.4,197.3 779.1,199 778.9,199.4 781.6,201.1 781.1,201.9 783.9,203.6 783.5,204.3 786.4,205.8 787.6,203.5 790.5,205 790,206 792.9,207.5 793.2,206.8 796.1,208.3 796.3,207.9 799.2,209.3 799,209.8 801.9,211.2 802.2,210.7 805.1,212.1 804.4,213.5 807.7,215.2 808.2,214.1 811.5,215.7 811,216.7 814.3,218.3 814.9,217 818.3,218.7 818.2,218.8 821.6,220.5 820.1,222.3 821.8,224.9 821.9,224.9 823.6,227.4 823.8,227.3 825.6,230 827.5,228.8 829.3,231.5 828,232.4 829.8,235.1 830.2,234.8 832.1,237.5 831.2,238 833.1,240.8 833.6,240.4 835.4,243.1 835.1,243.4 836.9,246.1 836.8,246.2 839.4,248.7 839.9,248.2 842.5,250.8 842.5,250.8 845,253.3 845.7,252.7 848.2,255.2 847.8,255.7 850.3,258.2 850.8,257.7 853.4,260.3 853.2,260.4 855.7,262.9 856,262.6 858.5,265.1 857.9,265.9 860.6,267.7 859.7,268.9 862.4,270.7 863.6,269 866.3,270.8 866.5,270.5 869.2,272.4 869.1,272.5 871.8,274.3 871.3,275.1 874,277 874.2,276.6 877,278.4 876.1,279.7 878.7,281.4 880,280 882.8,282 882.2,282.4 883.4,286 882.6,286.3 883.7,289.7 883,289.9 884.2,293.4 886.4,292.7 887.5,296 887.9,295.8 888.8,299.1 886.7,300.8 889.9,302.7 891.3,301 894.2,302.7 893.6,303.7 896.6,305.4 896.1,306 899.1,307.7 899.4,307.4 901.4,309.8 902.4,308.7 904.5,311.2 904.7,311 906.8,313.4 904.9,315 907,317.4 908.3,316.3 910.4,318.7 909.1,319.8 911.2,322.4 912.8,321.1 914.9,323.7 914,324.5 916.2,327.1 917.4,326 919.6,328.5 919.8,328.3 921.9,330.5 920.9,331.5 923,333.6 924.1,332.6 926.2,334.7 924.8,336.2 926.9,338.3 926.4,338.8 929,341.4 930.1,340.3 932.7,342.9 931.5,344.1 934.1,346.7 934.5,346.3 937,348.9 937.5,348.5 940.1,351.1 940.5,350.6 943.1,353.2 942.1,354.2 944.7,356.8 944.5,357 947.1,359.6 948.8,357.8 951.4,360.4 950.2,361.6 952.8,364.2 954.2,362.8 956.8,365.4 956.6,365.6 959.2,368.2 958.1,369.2 960.2,371.8 960.4,371.6 962.6,374.2 962.7,374.1 964.9,376.7 965.2,376.5 967.3,379.1 967.2,379.1 968.9,381.7 968.9,381.8 970.6,384.4 970.7,384.3 972.5,386.9 973.3,386.4 975,389 973.9,389.6 975.3,392.4 975.1,392.5 976.5,395.3 977.2,394.9 978.6,397.6 977.3,398.3 978.7,401.1 978.9,401 980.3,403.7 982,402.8 983.8,405.8 982.6,406.4 984.3,409.5 984.4,409.4 986.1,412.4 984.7,413.2 986.4,416.2 987.5,415.6 989.2,418.7 989.6,418.4 991.3,421.4 989.9,422.3 991.6,425.3 993.2,424.4 994.9,427.4 994.9,427.4 996.6,430 995.2,430.9 996.9,433.5 998.3,432.5 1000.1,435.1 999.7,435.4 1001.4,438 1001.9,437.6 1004.2,440.5 1003.4,441.1 1005.7,444 1006.5,443.3 1008.8,446.1 1008.9,446.1 1011.4,448.2 1010,449.8 1012.6,452 1012.7,451.9 1015.2,454 1016.5,452.6 1019.1,454.8 1019.7,454.2 1021.5,456.9 1019.8,458.2 1021.5,460.8 1022.1,460.4 1023.8,463 1024.1,462.8 1025.9,465.4 1025.1,465.8 1026.4,469.2 1026.5,469.1 1027.8,472.6 1027.7,472.6 1029,476 1029.1,476 1030.4,479.4 1031.1,479.3 1031.3,482.9 1030.4,483 1030.6,486.5 1030.8,486.5 1031,490.1 1032.2,490 1032.4,493.6 1030.2,493.8 1030.4,497.5 1032,497.2 1033.1,500.6 1033.5,500.5 1034.6,503.9 1033.3,504.3 1034.4,507.7 1034.1,507.8 1035.1,511.2 1036.8,510.8 1037.9,514.3 1036.2,514.6 1036.6,518 1036.4,518.1 1036.7,521.5 1037.5,521.4 1037.8,524.8 1038.6,524.8 1039,528.2 1037.2,528.4 1037.5,531.8 1038.2,531.8 1038.2,535.2 1038.2,535.2 1038.2,538.6 1039.7,538.6 1039.7,542.1 1038.5,542.1 1038.5,545.5 1039.8,545.5 1039.8,549 1037.7,548.9 1037.4,552.3 1037.9,552.4 1037.5,555.8 1038.5,555.9 1038.1,559.4 1038.8,559.4 1038.5,562.9 1037.2,562.7 1036.8,566.2 1036.2,566.1 1035.5,569.5 1035.2,569.5 1034.5,572.9 1035.7,573.1 1035,576.6 1034,576.4 1033.3,579.8 1035.1,580.2 1034.4,583.7 1034.5,583.7 1033.5,587.2 1031.6,586.6 1030.6,590.1 1030.8,590.2 1029.8,593.6 1031.3,594.1 1030.3,597.6 1029.8,597.4 1028.8,600.9 1029.2,601 1027.5,604.2 1026.2,603.6 1024.5,606.7 1023.9,606.4 1022.2,609.5 1022.7,609.7 1020.9,612.8 1022.2,613.5 1020.5,616.7 1019.2,615.8 1017.1,618.9 1017.3,619.1 1015.2,622.2 1015.4,622.3 1013.3,625.4 1013.3,625.4 1011.3,628.5 1011.2,628.5 1009.2,631.6 1010.4,632.4 1008.3,635.5 1006.4,634.1 1004.3,637.2 1003.9,636.9 1001.7,639.9 1004,641.5 1001.9,644.5 1001.7,644.4 1000,647.3 1000.3,647.4 998.6,650.3 997.2,649.4 995.4,652.3 996.8,653.1 994.5,656.7 994.4,656.7 992.1,660.3 990.8,658.7 988.1,659 989.1,660.2 986.5,660.5 986.7,660.7 985.5,664 985.1,663.7 983.8,667.1 983.4,666.9 982.1,670.4 981.5,670.1 980.2,673.5 980.4,673.6 978.6,676.3 978.3,676.2 976.6,678.9 976.2,678.6 974.5,681.4 975.8,682.2 974.1,685 973.3,684.5 971.6,687.2 972.9,688.1 970.9,691.2 969,689.9 966.9,693 969,694.5 967,697.6 966.4,697.2 964.4,700.3 964.9,700.7 962.8,703.9 962.8,703.8 960.7,706.3 960.7,706.3 958.6,708.7 957.9,708.1 955.8,710.5 954.5,709.4 952.4,711.8 954.1,713.2 952,715.7 950.7,714.5 948.7,716.9 948.9,717.2 946.9,719.6 947.7,720.3 945.6,722.7 945.3,722.5 943.3,724.9 943,724.7 940.9,727.1 942.1,728.1 939.5,730.7 938.8,730.1 936.2,732.7 935.6,732.1 933,734.7 932.8,734.5 930.2,737.1 931.6,738.3 929.5,741.3 928.6,740.6 926.4,743.6 927.2,744.1 925,747.1 924,746.4 921.8,749.4 921.4,749.1 919.4,751.5 920.2,752.1 918.1,754.6 918.7,755.1 916.7,757.5 915.2,756.3 913.1,758.7 914.6,759.9 912.5,762.3 912.8,762.5 910.6,765.1 910.4,764.9 908.2,767.5 908.3,767.5 906.1,770.1 904.2,768.5 902.1,771.1 903.5,772.3 901.2,775.2 901.7,775.6 899.4,778.6 897.6,776.9 895.4,779.7 895.8,780.2 893.3,781.9 893.3,781.9 890.7,783.6 891.2,784.2 888.6,785.9 888.4,785.7 885.8,787.4 885.9,787.5 883.1,789.6 883.7,790.3 880.9,792.4 879.5,790.5 876.8,792.6 876.9,792.7 874.1,794.8 874.3,795 871.5,797 871.5,797 868.5,799.2 868.4,799 865.4,801.2 867,803.4 863.9,805.6 863.7,805.3 860.7,807.4 859.4,805.5 856.4,807.7 857.1,808.7 854.1,810.9 853.7,810.4 850.7,812.6 850.7,812.6 847.7,814.7 847.8,814.8 845,816.9 845.5,817.6 842.8,819.7 842.7,819.5 839.9,821.6 839.5,821 836.7,823.1 836.4,822.7 833.7,824.8 833.9,825.1 831.2,826.8 830.9,826.3 828.1,828 828.8,829.1 826,830.8 826.3,831.2 823.5,833 823,832.1 820.3,833.8 819.8,833 817.1,834.4 817.2,834.7 814.5,836 814.8,836.6 812,837.9 812.3,838.6 809.5,839.9 809.8,840.4 807,841.8 806.5,840.7 803.1,842 803.5,843.2 800.1,844.5 799.9,844 796.4,845.3 796.2,844.7 792.8,846 792.7,845.8 789.3,846.7 789.4,847.1 786,847.9 786.1,848.5 782.6,849.4 782.5,848.6 779,849.4 779.2,850.2 775.7,850.7 775.6,850.1 772.1,850.6 772,849.9 768.6,850.5 768.7,851.3 765.3,851.8 765.3,852.3 761.9,852.8 761.7,851 758.5,851.2 758.6,852.3 755.4,852.5 755.4,852.5 752.2,852.8 752.3,854.1 749.1,854.4 749.1,854.5 745.9,854.8 745.8,853.1 742.6,853.3 742.7,854.9 739.5,855.2 739.5,854.8 736.2,855.1 736.1,853.5 732.9,853.7 732.9,854.3 729.7,854.5 729.6,853.5 726.4,853.7 726.5,855.8 723.3,856 723.3,855.5 720,855.7 720.1,856.4 716.8,856.6 716.8,856.3 713.6,856.6 713.6,856.2 710.1,856.4 710.1,856.6 706.7,856.7 706.7,856.2 703.2,856.4 703.1,855 699.7,855.2 699.8,856.6 696.3,856.8 696.3,855.1 693.3,855.1 693.3,855.5 690.3,855.5 690.3,857.4 687.2,857.4 687.2,855.2 684.2,855.2 684.2,855.3 680.6,855.3 680.6,855.3 677.1,855.3 677.1,857.7 673.5,857.7 673.5,855.6 669.9,855.6 669.9,855.1 666.3,855.1 666.3,857.6 663,857.4 663.1,855.2 659.9,855 659.8,857.2 656.5,856.9 656.6,856.4 653.3,856.2 653.3,856.7 650.1,856.5 650,856.8 646.8,856.6 646.9,855.5 643.7,855.3 643.6,855.9 640.3,855.7 640.6,853.4 637.4,853 637.1,855.2 633.9,854.8 634,854 630.7,853.6 630.7,854.2 627.4,853.7 627.7,851.9 624.4,851.5 624.2,853.4 620.9,853 620.9,853.5 617.6,853.1 618,850.5 614.8,850.1 614.7,850.9 611.2,850.2 611.1,850.9 607.6,850.2 607.5,851 604,850.3 604.4,848.6 601,847.9 601,847.7 597.6,847 597.5,847.2 594.1,846.2 593.8,847.2 590.3,846.2 590.2,846.6 586.8,845.6 587.1,844.5 583.6,843.5 583.7,843.4 580.2,842.4 580.2,842.5 576.7,841.4 576.8,841.3 573.3,840.3 573.3,840.5 569.8,839.4 570.1,838.5 566.6,837.4 566.3,838.6 562.9,837.6 562.5,839 559.4,838.3 559.8,836.6 556.7,836 556.5,836.9 553.4,836.2 553.8,834.5 550.7,833.8 550.3,835.4 547.2,834.7 547.1,834.9 543.6,833.6 543.7,833.3 540.3,832 540.4,831.6 537,830.3 537,830.2 533.6,828.9 533.3,829.3 530.7,827.2 530.3,827.8 527.6,825.6 529,823.8 526.5,821.8 526.6,821.6 524.1,819.6 522.6,820.8 520.9,817.8 520.4,818 518.7,814.9 519.7,814.3 518,811.3 518.2,811.2 516.5,808.2 515.7,808.6 514.4,805.1 515.9,804.5 514.6,801 514.4,801.1 513.1,797.7 513.3,797.6 512,794.2 510.9,794.6 509.8,791.1 510.6,790.9 509.6,787.4 509.8,787.4 508.8,783.9 507.5,784.3 506.4,780.9 505.7,781.1 504.7,777.7 506.5,777 505.2,773.6 504.1,774 502.8,770.6 503.6,770.3 502.3,766.8 501.1,767.3 499.8,763.8 500.5,763.5 499.3,760.1 500.1,759.8 498.9,756.3 499,756.3 497.7,752.8 498.2,752.6 496.9,749.1 495.7,749.6 494.4,746.6 494.6,746.5 493.3,743.5 493.9,743.2 492.6,740.2 492.1,740.4 490.8,737.4 490.9,737.3 488.7,734.3 487.6,735 485.5,732 487,730.9 484.9,727.9 482.8,729.4 480.6,726.3 481.9,725.5 480.1,722.7 479.8,722.9 478.1,720.2 478.5,719.9 476.7,717.2 475.8,717.8 474.1,715 474.1,715 472.4,712.2 473.1,711.8 471,708.7 471.2,708.6 469.1,705.5 468.5,705.9 466.4,702.8 466.1,703 464,699.9 465.2,699.2 463.1,696.1 462.2,696.6 460.8,693.7 460.2,694 458.7,691.1 460.1,690.4 458.6,687.5 459.3,687.2 457.8,684.3 457.8,684.4 456.4,681.5 455.1,682.1 453.6,679.2 453.8,679.2 452.3,676 451.5,676.4 450.1,673.2 450.4,673.1 449,669.9 450.6,669.2 449.2,666 449.3,665.9 447.9,662.7 447.7,662.8 446.2,659.6 446.4,659.5 444.6,657 443.3,657.8 441.4,655.2 441,655.5 439.1,652.8 439,652.9 438.3,649.3 440.1,648.8 439.4,645.4 437.6,645.7 437,642.3 438.6,642 437.9,638.5 437.6,638.6 436.9,635.1 436,635.3 435.3,631.9 437.2,631.5 436.5,628 436.5,628 435.8,624.6 433.6,625 432.9,621.6 434.5,621.3 433.8,617.8 433.6,617.8 432.9,614.4 432.3,614.5 431.6,611.1 431.3,611.1 430.6,607.7 432.6,607.3 431.9,603.8 430.9,604 430.2,600.6 429.9,600.7 429.2,597.2 429.1,597.2 428.4,593.8 429.2,593.6 428.5,590.2 427.4,590.4 426.7,586.9 425.7,587.2 425,583.7 426.6,583.4 425.9,579.9 425.5,580 424.8,576.6 426,576.3 425.4,572.9 424.9,573 424.2,569.5 423.1,569.7 422.4,566.3 424,566 423.7,562.6 421.4,562.9 421,559.4 420.9,559.4 420.6,556 423,555.7 422.7,552.3 420.2,552.5 419.8,549.1 421.5,548.9 421.2,545.5 420,545.6 419.6,542.2 419.7,542.1 419.3,538.7 420.7,538.6 420.4,535.1 419.2,535.2 418.9,531.8 418.9,531.8 418.8,528.3 418.3,528.3 418.1,524.9 419.8,524.8 419.6,521.3 418.1,521.4 418,518 417.3,518 417.2,514.6 418,514.5 417.9,511.1 418.3,511 418.1,507.6 419.4,507.5 419.2,504.1 418,504.1 417.9,500.7 418.3,500.7 418.1,497.2 417,497.3 416.9,493.8 417,493.8 416.8,490.4 417.1,490.4 417,486.9 418.1,486.8 417.9,483.3 416.6,483.5 416.4,480.2 416.5,480.1 414.5,478.2 415.7,477.6 413.7,475.6 411.8,476.5 410.9,472.9 411.6,472.7 410.8,469.1 412.4,468.8 411.6,465.3 409.2,465.8 408.4,462.2 410.8,461.8 410.2,458.4 409.7,458.5 409.2,455.1 408,455.2 407.5,451.8 407.9,451.7 407.3,448.3 407.5,448.3 407,444.9 406.7,444.9 406.2,441.5 406.7,441.4 406.4,437.9 406.8,437.9 406.5,434.4 406.9,434.4 406.6,431 406.9,430.9 406.6,427.5 404.6,427.7 404.3,424.2 404.2,424.2 403.8,420.7 404.5,420.7 404.8,417.6 404.2,417.5 404.6,414.3 405.7,414.5 406,411.3 406.3,411.4 406.6,408.3 406.3,408.2 406.6,405.1 405.3,404.6 407.3,401.5 409.5,402.6 411.3,399.9 410.3,399 412.3,396 412.8,396.6 416.1,395 415.2,393.7 418.8,391.9 419.1,393.1 422.3,391.4 422.3,391.5 425,393.3 425,393.1 427.9,395 428,394.6 430.8,396.4 430.7,395.7 432,393.3 432.8,394.3 434.6,391.6 433.4,390.8 435.1,388.3 437,389.4 438.7,386.8 438.3,386.5 439.6,383.5 440.1,383.7 441.4,380.6 441.3,380.6 442.6,377.6 440.8,376.8 442.1,373.8 442.2,373.8 444,370.8 445.4,371.6 447.1,368.6 447.1,368.6 448.8,365.5 448.2,365.2 450,362.2 449.1,361.7 450.4,358.7 450.2,358.7 451.5,355.7 451.6,355.7 453,352.7 453.4,352.9 454.7,349.9 455.8,350.6 457.9,348 457.3,347.6 459.5,345 459.9,345.4 462.1,342.8 461.3,342.2 463.5,339.6 463.4,339.5 464.7,336.8 465.7,337.3 467.1,334.5 467,334.5 468.3,331.7 466.9,331 468.3,328.2 470.3,329.3 471.7,326.6 469.6,325.4 471.4,322.6 471.2,322.5 472.9,319.7 472.7,319.6 474.5,316.9 475.9,317.8 477.6,315 477.2,314.7 478.9,312 478.8,311.9 480.6,308.9 480.4,308.8 482.2,305.8 481.3,305.3 483,302.3 483.8,302.7 485.5,299.7 486.5,300.3 488.5,297.8 487.2,296.8 489.3,294.2 490.2,294.9 492.3,292.4 492,292.1 494.1,289.6 493.8,289.3 495.9,286.8 497.6,288.2 499.7,285.6 497.9,284.1 500,281.6 500.2,281.8 502.3,279.2 502.7,279.5 504.8,277 504.7,276.9 506.8,274.4 507,274.5 509.5,272.2 510.1,272.8 512.6,270.5 511.9,269.8 514.5,267.5 515.5,268.6 518,266.3 517.1,265.2 519.6,262.9 519.3,262.6 521.9,260.3 522.3,260.8 524.8,258.5 524.6,258.2 527.1,255.9 526.3,255.1 528.5,252.6 528.7,252.8 530.9,250.3 532.6,251.8 534.9,249.3 533.4,248 535.7,245.5 536.1,245.9 538.3,243.4 539.6,244.5 541.9,242 541.2,241.4 543.4,238.9 543.7,239.2 545.9,236.7 546.2,237.1 548.4,234.7 547.6,233.5 551,232.2 550.5,231.1 554,229.7 554.7,231.4 558.1,230.1 557.4,228.5 560.8,227.2 561,227.7 564.4,226.3 565.1,227.9 568.5,226.5 567.6,224.5 570.8,222.9 571.1,223.6 574.3,222 573.8,221.2 577,219.6 577.3,220.1 580.5,218.6 580.4,218.5 583.6,216.9 584.1,218 587.3,216.4 586.7,215.1 589.8,213.6 589.7,213.2 592.9,211.6 593,211.8 596.2,210.2 596.7,211.4 599.7,210.4 599.4,209.5 602.5,208.4 602.7,209.2 605.8,208.2 606.1,209.3 609.2,208.2 609.3,208.4 612.3,207.4 612.3,207.3 615.3,206.3 615.2,205.9 618.3,204.9 618.3,205 621.4,204 621.1,203.1 624.1,202 623.9,201.5 627,200.5 627.1,200.9 630.2,199.9 630.3,200.2 633.4,199.2 633.2,198.6 636.2,197.5 636.5,198.5 639.6,197.5 639.4,197 642.5,196 642.2,195.2 645.3,194.2 645.6,195.2 648.9,194.4 649,195 652.3,194.2 651.8,192.1 655,191.3 655.2,191.8 658.4,191 658.7,192 662,191.2 662,191.2 665.3,189.5 665.1,189.1 668.3,187.5 668.2,187.3 671.5,185.7 672,186.7 675.2,185.1 675.4,185.7 678.6,184.1 678.4,183.5 681.8,183.2 681.5,181.5 685.1,181.2 685.2,183.2 688.7,182.9 688.6,181.9 692.1,181.6 692.2,182.4 695.7,182.1 695.7,182.1 699.1,181.8 699.1,181.9 702.6,181.6Z"/>
<path fill="#8ec2dc" d="M648.3,303.2 649.5,300 649.9,300.2 651.1,296.9 650.3,296.5 651.5,293.3 652.2,293.5 653.4,290.4 653.6,290.6 654.7,287.5 653.9,286.8 656.9,284.8 655.9,283.7 659.1,281.5 659.3,281.8 662.4,279.7 662.5,279.8 665.6,277.8 666.3,279.3 669.8,278.3 669.4,277.4 673,276.3 673.2,277.1 676.7,276.1 676.8,276.4 680.2,275.4 680.2,275.6 683.1,276.6 683.1,276.3 686,277.3 686.7,275.2 689.8,276.3 689.7,276.5 692.7,277.6 692.7,277.6 695.9,278.7 695.9,278.7 699,279.8 698,281.3 700,283.7 700.2,283.4 702.2,285.8 702.9,285.2 704.9,287.6 705.2,287.4 707.2,289.8 707.4,289.5 709.3,291.9 709.4,291.8 712.3,292.8 711.2,294.9 714.5,296 714.9,294.5 718,295.5 718.1,295.3 721.1,296.4 721,296.8 724,297.8 723.8,298.8 726.9,299.8 727.1,299 730.6,299 730.6,300.1 734.2,300.1 734.2,297.6 737.8,297.6 737.8,297.8 741.4,297.8 741.4,298.7 744.9,298.7 744.9,299.5 748.5,299.5 748.5,297.7 752.1,297.7 752.1,298.7 755.6,298.7 755.7,297.7 759.1,298.3 759,298.4 762.3,299.1 761.8,300 764.4,302.6 764.2,302.8 766.8,305.4 767.2,305 769.8,307.5 769.4,307.9 772,310.5 771.5,311.1 774.4,313.4 774.7,313.1 777.6,315.4 778.4,314.1 781.2,316.4 780.2,318.5 783.4,319 783.4,319 786.6,319.5 786.9,317.7 789.9,318.2 789.7,319.2 792.7,319.6 792.9,318.9 796.3,319.7 796.3,319.9 799.7,320.8 799.6,321.1 803.1,322 803.5,320.1 807,321 806.4,323.3 809.9,324 810,323.3 813.5,324 813.4,324.6 816.8,325.2 817.1,324 820.5,324.6 820.3,325.6 823.7,326.9 823.8,326.7 827.2,328 827.6,326.9 831,328.2 830.6,329.4 834,330.7 834.3,330 837.7,331.4 838.1,330.5 841.7,332 840.6,334.1 843.9,335.5 843.9,335.6 845.9,337.7 846.2,337.3 848.3,339.4 849.4,338.2 851.6,340.4 851.3,340.7 853.4,342.8 852.7,343.7 855.6,345.5 855.8,345.2 858.7,347 858.5,347.4 861.4,349.2 861.8,348.4 865.2,349.5 864.8,350.7 868.4,351.9 868.9,350 872.3,351.1 872.4,350.6 875.8,350.8 875.8,350.7 879.2,350.9 879.1,351.6 882.6,351.9 882.7,351.2 886.2,352.1 885.7,354.9 889.1,355.7 889.3,354.9 892.8,355.8 893,353.8 896,353.6 896,354.2 899,354 899.1,355.1 902.2,354.9 902.1,353.3 905.4,353.2 905.3,354.1 908.4,354 908.5,353.4 912.1,354.8 911.6,356.3 915,357.7 914.9,358 918.2,359.4 918.6,358.8 921.5,361.1 921,361.8 923.7,364 924.2,363.5 927.1,365.8 928.3,364.5 930.7,367.5 929.3,368.7 931.5,371.6 930.8,372.1 933,375 933.1,374.9 934.8,377.8 935.1,377.6 936.8,380.4 938.4,379.4 940.1,382.3 939.1,383 940.8,385.3 940.6,385.4 942.3,387.7 941.8,388 943.5,390.2 945.8,389 947,391.9 945.5,392.6 946.7,395.5 946,395.6 947.1,398.3 946.7,398.3 945.8,400.9 945.8,400.9 945,403.5 945.3,403.5 946.5,406.5 948,406.2 949.1,409.2 947.6,409.3 948.7,411.8 948.4,411.7 945.8,414.4 947.1,414.6 944.5,417.2 943.8,417.1 945.5,420.7 947.8,420.7 949.5,423.9 946.9,424.3 946.1,427 947.2,426.7 946.4,429.3 947.1,429.1 949.2,430.5 948.4,431.2 950.7,432.9 952,431.8 954.5,433.8 953.1,434.5 953.1,437.4 952.4,437.5 952.4,440.4 952.9,440.3 952.9,443.2 951.9,443.5 953.7,446.1 954.7,445.5 956.4,447.8 956,448.1 957.7,450.2 959.5,449.6 959.5,452.8 959.4,452.9 959.4,456 958.4,456 958.4,459.1 957,459.2 957,462.3 957.6,462.2 958.8,465.7 958.8,465.7 959.9,469.2 959.8,469.2 961,472.7 961.1,472.7 962.5,476.6 964.2,475.7 965.5,479.4 963.7,480.6 966.3,483.3 966.1,483.4 968.8,486.1 970.7,484.3 973.3,486.9 972.5,487.6 975.1,490.2 976.1,489.5 977.5,492.6 976,493.5 977.2,496.5 978.6,495.9 979.8,498.8 979.2,499.2 980.5,502.1 980.8,501.9 983.3,504 983.2,504.1 985.7,506.2 985.3,506.7 987.8,508.9 986.9,509.7 989.4,511.7 989.7,511.5 990.8,514.9 992.6,514 993.8,517.7 993.9,517.6 995.1,521.2 995.1,521.2 995.2,524.7 993.4,524.9 993.4,528.3 994.4,528.3 994.4,531.8 994.8,531.8 994.2,534.7 993.7,534.7 993.2,537.6 993.7,537.7 993.1,540.5 992.2,540.4 991.7,543.2 992,543.3 991.5,546.1 991.6,546.1 991,549 989.7,549 990.3,552.5 992.3,552.3 992.9,555.9 993,555.9 993.5,559.6 990.9,559.1 989.3,561.1 991.7,562.2 990,564.4 990,564.4 988.4,566.3 987.5,566.3 988.6,569.6 986.8,569.8 988,573.5 990.4,572.8 991.6,576.3 989.4,576.8 989.9,580.2 992.4,579.7 993,583.2 992.1,583.4 992.7,586.8 990.9,587.1 991.4,590.6 991.8,590.5 992.3,593.8 993.7,593.8 994.3,597.3 994.1,597.3 992.9,600.2 993.5,600.3 992.3,603.3 992.8,603.4 991.6,606.3 989.6,605.6 988.5,609 987.9,608.8 986.8,612.1 989.3,613.3 988.1,616.9 985.7,615.4 983.2,618 985.4,619.4 982.8,622 980.8,620.8 979.6,624.3 981.5,625.2 980.4,628.5 980.3,628.5 979.2,631.9 979.5,632 978.9,635.4 977.9,635.2 977.4,638.7 978.3,638.9 977.7,642.5 975.8,641.7 974.1,643.9 975.4,644.6 973.6,646.9 972.8,646.4 971,648.7 972.5,649.5 971.4,652.9 971.1,652.7 969.9,656.3 969.1,655.8 968,659.3 968.1,659.3 965.3,660 964,659.3 962.8,662.7 962.8,662.7 961.4,666.4 962.9,667 961.6,670.5 961.4,670.3 960.1,673.8 961.1,674.2 959.7,677 959,676.7 957.6,679.5 956.4,678.8 955,681.6 955.6,681.9 954.2,684.6 955.3,685.2 953.9,688 953.3,687.6 951.1,690.6 949.8,689.8 947.7,692.8 949.7,694.2 947.6,697.2 947.5,697.2 945.4,700.2 943.6,698.9 941.4,701.9 942.5,702.7 940.4,705.8 940,705.5 937.8,708.5 938.8,709.2 936.6,712.2 935.5,711.4 933.4,714 933.2,713.8 931,716.4 931.6,716.9 929.5,719.5 930.6,720.4 928.4,723 926.4,721.3 924.2,723.9 924.3,723.9 922.1,726.5 923.3,727.5 921.2,730 921.8,730.5 919.7,733 918.7,732.4 917.5,735.4 917.2,735.3 915.9,738.4 917.1,738.9 915.8,741.9 915.6,741.8 914.3,744.9 912.4,743.8 910.3,746.8 912.3,748.1 910.2,751.2 908.5,750 906.3,753 906.6,753.2 904.4,756.2 905.8,757.1 904,759.7 903,759 901.3,761.6 902.2,762.2 900.5,764.8 898.9,763.7 897.2,766.3 898.9,767.6 896.7,770.2 895.1,768.9 893,771.4 892.9,771.4 890.8,773.9 891.5,774.6 889.4,777.2 889.1,776.9 886.1,778.6 886.5,779.1 883.4,780.8 884,781.7 881,783.5 880.7,783 877.6,784.7 876.6,782.9 873.6,784.6 874,785.4 871,787.1 871.4,787.7 868.3,789.4 868.3,789.3 865.2,791 865.6,791.6 862.1,793.3 861.8,792.7 858.3,794.4 857.8,793.3 854.4,795.1 854.6,795.5 851.1,797.2 851.9,798.9 848.5,800.6 847.8,799.3 844.4,801 845,802.1 841.9,803.8 842.3,804.4 839.3,806.1 838.7,805.2 835.7,806.9 835.8,807 832.7,808.8 832.7,808.6 829.6,809.9 829.3,809.1 826.3,810.3 827,812 823.9,813.3 823.4,812.1 820.4,813.4 820.9,814.6 817.4,815.9 816.8,814.2 813.3,815.5 813.9,817.1 810.5,818.4 810.4,818.1 806.9,819.4 806.7,818.9 803.3,819.8 803.1,819.3 799.7,820.2 799.5,819.3 796,820.2 796.5,822 793,822.9 792.8,821.7 789.3,822.5 789.5,823.4 786.1,824.3 785.7,822.7 782.3,823.6 782.2,823.4 778.8,824.3 778.9,824.5 775.5,824.8 775.7,826.8 772.3,827.1 772.1,825.2 768.6,825.6 768.8,827.8 765.4,828.1 765.2,826.5 761.8,826.9 761.8,827.5 758.4,828 758.3,827.3 754.9,827.8 755,828.6 751.5,829.2 751.3,827.6 747.8,828.1 748,829 744.5,829.5 744.8,831.1 741.3,831.6 741,829.4 737.5,829.9 737.7,831.3 734.3,831.8 734.2,830.9 730.7,831.4 730.7,831.3 727.3,831.8 727.2,831 723.8,831 723.8,831 720.4,831 720.4,833.8 717,833.8 717,833.4 713.5,833.4 713.5,833.3 710.1,833.3 710.1,833.3 706.6,833.3 706.6,833.8 703.2,833.8 703.2,831.4 699.7,831.4 699.7,832.7 696.2,832.7 696.3,832.4 692.2,832.4 692,832.6 692,829 690.9,829.5 690.8,825.5 691.4,825.5 691.4,822 690.8,821.9 690.8,818.3 693.3,818.9 695,815.6 693.5,815 695.2,811.6 695.1,811.6 696.8,808.3 696.6,808.3 694.9,806.2 695.3,806.1 693.6,803.9 693.1,804.3 691.4,802 692.6,801 690.1,798.5 688.5,799.5 685.8,796.7 687.2,796.1 686.8,792.2 686.3,792.5 685.9,788.7 685.3,789.3 681.9,788.9 682.1,788.4 678.6,787.9 678.7,786.7 675,786.2 675,785.9 671.6,785.4 671.6,785.7 668.1,785.2 668,786.1 664.5,785.5 664.4,786.6 660.9,786.1 660.9,785.8 657.5,785.3 657.7,783.8 654.3,783.2 654.3,783.2 650.8,782.5 650.6,783.7 647.1,783 647.5,781.4 644,780.7 643.9,781.1 640.5,780.4 640.7,779.2 637.2,778.9 637.1,779.4 633.6,779.1 633.5,780.1 630.1,779.8 630,780.2 626.6,779.9 626.6,779.7 623.1,779.3 623.3,778.6 619.8,777.5 619.4,779.2 615.9,778.2 616.2,777.3 612.7,776.2 613.1,774.9 609.7,773.8 609.8,773.6 606.4,772.6 605.5,775.1 602,773.8 602,773.9 598.5,772.6 598.6,772.4 595.1,771.1 595.5,770.2 592,768.9 592.4,768.1 589.7,766.4 590,765.8 587.3,764.1 587,764.6 584.3,762.8 584.3,762.7 581.6,761 580.4,762.8 577.6,761 577.6,760.9 575,758.3 575.2,758 572.6,755.4 573.9,754.1 571.3,751.4 571.1,751.6 568.5,749 568.4,749.2 565.6,747.8 564.6,749.4 561.9,748.1 563,746 560.2,744.6 559.4,746.3 556.6,744.9 556.7,744.6 554,743.2 554.2,742.9 551.4,741.2 550.8,742.2 548,740.5 549.1,738.7 546.3,737 545.9,737.6 543.2,735.9 543.8,735 541,733.3 541.1,733.1 538.4,731.1 538.5,730.9 535.8,728.9 535.3,729.6 532.5,727.5 532.8,727 530.1,725 530.2,724.8 527.5,722.8 525.7,724.9 523,722.3 524.5,720.7 521.9,718.2 520.6,719.4 518,716.8 518.5,716.5 515.9,713.9 515.8,713.9 513.7,711.5 513.9,711.3 511.8,708.9 511.1,709.5 509.1,707.1 509.2,706.9 507.2,704.6 507.5,704.2 505.5,701.8 505.8,701.5 503.1,699.1 502.8,699.4 500.1,697 500,697.1 497.2,694.6 497.6,694.3 494.8,691.8 494.9,691.7 492.2,689.3 492.9,688.6 490.9,685.6 489.3,686.8 487.2,683.7 488.1,683.1 486,680 487,679.3 485,676.2 484.7,676.3 482.7,673.3 480.9,674.4 479.1,671.6 480.7,670.6 479,667.9 478.6,668.1 476.9,665.3 476.2,665.8 474.4,662.9 473.9,663.1 472.1,660.2 473.7,659.9 474.4,656.2 474.2,656.2 474.9,652.4 474.8,652.4 474.4,649 475.6,648.9 475.1,645.3 472.6,645.7 472.2,642.2 474.7,641.9 474.3,638.5 471.5,638.7 471.5,635.2 473.9,635.1 473.9,631.6 473.9,631.6 473.9,628.1 471.8,628.4 470.7,625.1 470.8,625.1 469.6,621.7 471.3,621.1 470.2,617.7 469.3,618 468.1,614.5 468.3,614.5 467.2,611 466.5,611.3 465.4,607.9 466.8,607.2 465.1,604.5 463.4,605.5 461.7,603 461.3,603.2 459.6,600.7 460.3,600.2 458.6,597.6 458,598 455.8,595.1 455.7,595.2 453.4,592.2 454.8,591.3 452.5,588.4 451.2,589.1 450.3,586 450.4,586 449.5,582.9 450.2,582.7 449.3,579.6 450.7,579.2 449.8,576.2 448.4,576.7 447.2,573.2 446.4,573.5 445.2,570 447,569.5 445.8,566 444.8,566.3 444,562.9 443.3,563.1 442.4,559.6 443.3,559.4 442.4,555.9 444,555.6 443.2,552.2 441.4,552.5 441.4,549.4 442.5,549.3 442.6,546.4 440.7,546.4 440.7,543.3 441.3,543.3 441.3,540.3 442.4,540.4 443.2,537.4 441.5,537.1 442.4,534 443.2,534.2 444,531.2 444.9,531.4 445.7,528.3 444.3,528.3 443.6,524.7 443.4,524.8 442.7,521.3 442.7,521.3 442.1,517.8 442.1,517.8 441.5,514.3 442.1,514 439.7,511.6 439.6,511.7 437.3,509.3 437.5,509.1 435.1,506.6 435.3,506.5 432.9,504 431.8,504.9 429.4,502.3 431,501.3 429.8,498.2 430.5,497.8 429.3,494.8 427.5,495.5 426.3,492.4 426.9,492.1 425.7,489 425.5,489.1 424.3,486 424.2,486 422.9,482.9 423.9,482.6 422.9,479.1 423,479.1 422,475.6 422.4,475.5 421.3,472 419.3,472.6 418.3,469.2 417.9,469.3 416.9,465.8 417.5,465.6 416.4,462.2 418.1,461.7 417.2,458.3 414.7,458.9 413.9,455.5 414.3,455.4 413.4,451.9 414.4,451.7 413.5,448.3 415,447.9 414.1,444.5 411.7,445 410.8,441.6 411.4,441.5 411.1,438 411.1,438 410.7,434.5 412.5,434.4 412.2,430.9 410.1,431.1 409.7,427.7 411.8,427.5 411.4,424.1 410.1,424.1 409.8,420.7 410.8,420.7 411.4,417.7 410.8,417.6 411.4,414.4 409.9,414.1 410.6,410.7 411,410.9 411.7,407.6 411.5,407.4 414.4,405.9 415.4,407.1 417.7,405.9 417.7,405.7 420.1,404.3 420.4,403.7 421.7,407.2 420.3,408.2 421.3,411.2 422.4,410.9 423.5,414.2 425.1,413.7 426.3,417.1 425.7,417.3 426.8,420.7 427.2,420.6 428.3,424 426.7,424.5 427.9,427.9 429,427.5 430.1,430.8 430.4,430.7 431.5,434 431.3,434.1 434,436.5 433.4,437 436.2,439.5 435.7,440 438.4,442.5 438.1,442.8 440.8,445.2 442.6,443.3 445.4,445.7 445.5,445.6 447.6,447.8 446.3,449.2 448.4,451.3 449.4,450.3 451.4,452.3 450.9,453.3 453.2,455.5 453.2,454.8 455.2,452.5 454.8,451.9 456.7,449.7 457.9,450.8 460.1,448.4 459.4,447.8 461.6,445.4 462.4,446.2 464.5,443.8 463.9,443.3 466.1,440.9 467.2,441.9 469.6,439.2 468.9,438.9 471.1,436.3 471.1,436.3 469.3,433.2 467.5,433.7 465.9,431.1 467.9,429.9 466.2,427 464.6,428 462.9,425.4 464.6,424.3 462.8,421.7 460.6,423.2 458.8,420.5 461,419.3 459.3,416.8 459.5,416.7 458.4,413.4 458.1,413.5 457,410.1 455,410.7 453.9,407.2 454.6,407 453.6,403.5 452.9,403.6 453.3,400 454.5,400 454.9,396.6 456.1,396.7 456.5,393.3 455.8,393.2 456.2,389.8 455.9,389.7 457,386.7 455.4,386.2 456.6,383.1 458.9,384 459.9,381 459.7,380.9 460.8,378 459.2,377.1 461.4,374.4 463.2,375.7 465.3,373.2 463.3,371.5 465.5,368.9 467,370.2 469.2,367.7 468.6,367.1 470.7,364.9 470.5,364.8 472.7,362.6 472.2,362.1 474.4,359.8 475.9,361.8 477.9,359.7 476.8,357.7 479.9,357.1 480.5,359 483,358.4 483.2,356.8 486.2,356.3 485.4,358.2 487,360.8 488.5,359.2 490.6,362.2 489.2,363.2 491.2,366.1 491.3,366 493.2,368.6 492.8,368.9 494.8,371.5 495.4,371 497.4,373.6 497.4,373.6 499.4,376.2 500.8,374.9 503,377 502.1,377.8 504.3,379.9 503.8,380.5 505.9,382.6 507.3,381.3 509.4,383.4 507.7,385.2 509.8,387.3 509.9,387.2 512.1,389.4 513.6,387.8 515.8,389.9 515.7,389.9 517.8,392.1 517.3,392.7 519.9,394.4 520.4,393.7 523,395.4 521.4,397.7 524.1,399.4 525.3,397.2 527.9,398.9 527.6,399.4 531,400.6 531,400.7 534.4,401.8 534.6,401.3 538.1,402.5 537.2,404.5 540.6,406.3 540.8,406 544.2,407.7 544.1,407.9 547.6,409.6 548,408.7 551.5,409.8 551.5,409.6 555,410.8 555,410.8 558.4,412 558.2,412.5 561.1,413.3 561.5,412.2 564.2,413.1 564.2,412.8 566.9,413.6 566.9,413.9 569.6,412.5 570.3,414.5 573.4,413 573.3,412.7 576.2,411.2 576.1,411.1 579,408.7 578.9,408.7 581.9,406.3 581.2,405.6 584.1,403.3 584.9,404.1 586.7,401.4 585.7,400.6 587.4,398.1 588.1,398.5 589.8,395.9 589.8,395.9 591.5,393.3 590.6,392.8 591.4,389.9 590.7,389.6 591.6,386.7 593.7,387.3 594.6,384.3 594.1,384.2 595,381.2 593.2,380.6 594.4,377.7 596.5,378.5 597.7,375.7 598.2,375.9 599.3,373.1 598.8,372.9 601,369.9 599.4,368.9 601.5,365.8 601.8,366 603.9,362.9 603.5,362.5 605.7,359.5 606.7,360.4 609.1,358.3 610,359.3 612.4,357.3 611.9,356.6 614.3,354.6 613.5,353.6 615.9,351.5 616.5,352.3 618.9,350.3 619.3,350.9 622.6,349.6 622.3,349 625.7,347.6 625.7,347.3 629.1,346 629.2,346.3 632.6,344.9 632.5,344.6 636,343.3 636.1,344.2 639.4,344.8 639.4,345.1 642.8,345.7 642.9,343.4 646.2,344 646.2,344.1 649.1,342.9 649.3,343.8 652.3,342.6 652.7,343.4 655.6,342.2 655.4,341.7 658.4,340.5 658.1,339.7 661,338.5 660.6,337.6 663.3,336.5 664.1,337.5 667,336.2 665.7,335.6 665.6,332.8 666.9,332.8 665.2,329.3 666.1,328.9 664.3,325.3 663.3,326.1 661,324.4 661,324.4 658.7,322.6 658.7,322.6 656.4,320.9 656.2,321.2 654.4,318.8 656,317.5 654.4,315.3 653.4,316 651.6,313.7 650.7,314.3 648.5,310.7 650.3,309.9 648.2,306.6 648.5,306.6 648.9,303.1 648.5,303.2 649,300.2 648.7,300.1 648.2,303.2Z"/>
<path fill="#6399c7" d="M780.6,348.3 783.3,346.9 783.5,347.1 786,345.9 785.9,345.5 789,345.9 789,346.8 791.9,347.2 792.1,345.8 795.2,346.3 795.2,346.2 798.3,346.7 798.2,347.1 800.9,349.3 800,350.1 802.4,351.9 803.2,351.7 801.5,354.3 801.1,354.1 799.6,356.5 799.5,356.3 796.3,355.7 796.4,357.4 792.6,356.8 792.6,356.9 789,356.3 789.7,354.1 786.5,352.5 785.5,354.2 781.8,352.2 782.3,351.9 780.5,348.3ZM870.6,377.6 873.4,376.5 873.2,376.4 876.1,375.2 875.8,374.3 878.7,373.2 879.1,374.2 882.5,373.1 882.5,373 886,371.8 885.9,371.6 889.4,370.5 889.4,371.4 892.7,372.3 892.9,371.5 896.3,372.4 896.5,372.1 899.1,374.8 899.3,374.4 902,377.1 900.8,378.3 903.2,380.7 903.7,380.4 906.2,382.8 905.7,382.9 904.1,384.8 905.5,385.8 903.4,388.6 903.3,388.4 899.7,387.2 899.8,385.7 896.6,384.6 896,386.7 892.6,385.6 892.6,385.6 889.2,385 889.3,384.3 885.9,383.7 885.9,383.6 882.5,383 882.7,381.9 879.8,381.4 879.9,381 877.2,380.5 876.7,381.7 873.8,381.1 874.6,380.3 871.5,377.5ZM954.3,564.5 957.7,563.7 957.6,563.2 961.3,562.4 961.3,562.4 963.1,565.9 962.2,566.8 963.8,570 963.5,570.2 965.2,573.6 966,573.2 967.7,576.6 967.5,576.7 968.1,580.1 969.3,579.8 969.9,583.5 969.6,583.5 970.1,587.2 970,587 966.4,590.6 966.3,590.5 962.8,588.8 962.7,589 959.1,587.2 960,586.3 958.9,583.1 958.2,583.4 957,580 957.6,579.9 958,576.3 956.3,576.8 956.7,573.3 958.7,572.9 955.3,569.4 953.5,569.8 953.5,567.1 955.3,567.1 955,565.2ZM920.2,504.5 923.5,502.9 923,502 926.6,500.3 926.6,500.3 929.5,500.8 929.5,500.4 932.6,501 932.2,502.6 935,503.1 935,503 937.4,504.6 937.2,504.7 939.6,506.1 939.8,506.1 939,509.5 940.1,509.1 939.2,512.5 937.9,513.1 941,514.6 941.6,513.9 944.5,515 944.3,515.7 947.4,516.9 947.3,516.7 950.8,515.4 950.8,515.1 954.2,513.8 954.4,512.8 956.6,515.3 956.2,515.6 957.9,518 956.6,517.5 953.6,518.6 954,519.2 950.7,520.8 950.6,520.5 947.3,520 947.3,521.7 943.6,521.1 943.7,520.9 940.1,520.3 940.1,520.3 937.5,517.7 937.4,517.7 934.8,515.1 934.9,515 932.1,513.9 931.9,514.3 929.2,513.2 929.3,512.8 926.4,511.7 926.8,510.5 923.5,509.7 922.8,510.9 919.2,509.9 919.8,509.3 919.8,506.7 919.1,506.7 919.3,503.8ZM632.7,701.1 635,700 633.7,699.5 636.2,697.5 636.2,697.6 638.6,695.9 638.2,695.3 641.8,694.1 642.4,695.6 645.7,694.4 645.7,694.5 649.1,693.3 649,692.2 652.1,692.8 652.1,693 655.2,693.7 655,694.5 658,695.2 658.2,694.3 661.2,694.9 661.1,695.6 664.5,695.9 664.7,695 668.3,695.3 667.7,696.8 670.8,696.8 671,696.7 670.2,699.2 671.8,698.9 671.2,702.4 670,701.8 669.5,704.6 669.4,704.4 666.2,705.1 666.5,706.4 662.7,707.3 662.8,706.9 660.9,704.5 661.6,703.6 660,701.3 659.3,702 657.6,699.8 657.5,700 654.7,700 655,698.9 651.8,698.9 652,700 649.2,700 648.8,698.8 646.3,700.6 646.6,701 644.3,702.8 644,702.2 641.9,703.9 642,704.1 638.8,704.1 638.6,706 634.6,705.8 635.4,704.6 632,701.3Z"/>
<path fill="#bde2ee" d="M469.4,436.5 470.2,433.2 470.8,433.2 471.7,430 471.5,430 472.4,426.8 472.1,426.6 473.2,423.3 474.3,424.6 476.9,424.7 476.7,423.8 479.7,423.8 479.8,423.1 482.9,423.2 482.9,423.2 485.9,425.6 485.5,426.3 488.4,428.6 487.7,429.4 490.6,431.7 491,431.2 493.9,433.5 494.8,432.3 497.6,434.6 496.3,436.5 499.3,438.8 499.5,438.3 503,439.5 503.7,438 507,439.1 506.6,440.4 510.1,441.5 509.9,442.1 513.4,442.7 513.4,442.4 516.9,443 517.2,441.5 520.7,442.1 520.3,443.5 523.8,444.7 523.8,444.4 527.3,445.6 527.4,445.1 530.9,446.2 531,445.8 534,446.7 533.8,447.4 536.8,448.3 536.5,449.3 539.7,450.2 539.9,449 542.9,449.8 542.8,451.2 545.8,450.6 545.8,450.5 548.8,449.9 548.7,449.6 551.6,449.1 551.4,447.8 554.3,447.5 554.4,448.5 557.2,448.3 557.2,447.2 560.1,446.9 560,448.3 562.8,449.1 562.8,449.3 565.6,450.1 565.5,450.3 568.4,451.2 568.8,449.5 572.3,450 572.3,449.7 575.7,450.2 575.5,451.9 579.1,452.5 579.1,452.4 582.6,451.8 582.6,452.4 586,451.8 586,450.2 589.5,449.6 589.3,450.5 592.8,452.2 592.8,452.7 596.3,454.4 596.3,453.1 599.8,451.3 599.8,451.5 603.3,449.8 603.1,450.1 601.3,452.5 600.6,452.3 599,454.7 600,455.4 598.3,458 598.1,457.9 596.4,460.5 596.2,460.2 593.1,461.7 592.8,461.1 589.8,462.6 590.7,464.4 587.6,465.9 587.5,465.8 584.5,467.3 584.3,466.9 581.2,468.4 581.6,469.2 578.5,470.7 578,469.7 574.9,471.3 574.7,470.7 571.6,472.2 571.4,471.7 568.4,473.2 568.8,474.4 565.3,475.3 565.3,475 561.8,475.9 561.8,475.7 558.3,476.6 558.7,478 555.2,478.8 555.1,478.4 551.7,479.3 551.2,477.5 547.8,478.3 548.3,480.3 544.8,481.1 544.3,478.9 540.8,479.8 541.2,481.4 537.7,482.3 537.7,481.4 534.3,482.3 534.1,483.3 531.1,481.3 530.9,481.8 527.8,479.7 528.4,478.8 525.6,476.8 525.2,477.3 522.3,475.3 523.4,473.8 520.5,471.8 519.6,473.1 516.7,471 517.6,469.9 514.7,467.9 514.2,468.6 511.3,466.6 511.5,466.3 508.6,464.3 509,463.7 506.1,461.7 505.1,463.2 502.3,461.2 503.2,459.8 500.4,457.8 500.1,458.1 497.3,456.2 497.6,455.8 494.8,453.9 493.9,455.1 491.1,453.1 491.6,452.4 488.8,450.4 489.2,449.9 486.4,447.9 486.4,447.9 483.6,446 483.4,446.4 480.6,444.5 480.1,445.1 477.3,443.1 478.1,442.1 475.9,439.9 475.9,439.9 473.8,437.9 472.4,438.7 470,436.3ZM416.3,411.1 415.1,414.5 416.3,415.1 415.9,417.8 415.7,417.8 415.3,420.7 414.8,420.7 415.4,424.2 414.7,424.2 415.2,427.7 416.7,427.5 417.2,430.9 417.2,430.9 417.8,434.4 417,434.5 417.5,437.9 417.5,437.9 418,441.4 417.3,441.6 418.6,445 418,445.2 419.2,448.7 420.1,448.4 421.3,451.8 421.9,451.6 423.1,455.1 421.8,455.5 423,458.9 424.8,458.3 426,461.7 424.6,462.2 425.8,465.7 425.8,465.7 427,469.2 426.6,469.3 427.8,472.8 430.1,472 431.3,475.4 430.7,475.7 431.9,479.1 432.2,479 433.4,482.4 432.8,482.7 434.6,485.8 433.2,486.5 435.1,489.6 435.7,489.3 437.5,492.4 437.9,492.2 439.7,495.3 438.8,495.8 440.7,499 442.5,497.7 444.2,500.7 443,501.7 445.9,503.8 445.6,504.2 448.5,506.3 449.5,504.9 452.3,507 451.3,508.4 454.1,510.5 455.3,508.8 458.2,510.9 457.5,511.8 460.3,513.9 460.5,513.7 462.7,516 462.4,516.4 464.6,518.7 464.9,518.5 467.1,520.8 466.5,521.3 468.7,523.5 468.3,523.7 469.1,527 471.2,526.2 472.1,529.8 470.5,530.2 471.3,533.6 472.7,533.3 473.6,536.8 472.1,536.9 471.7,539.9 473.6,540 473.2,543.1 473,543.1 472.6,546.1 472.2,546 471.8,549.1 471.8,549.1 471.2,552.5 470.8,552.4 470.2,555.8 470.6,555.8 469.9,559 468.5,559.7 471.6,561.2 472.2,560.5 475.1,561.7 475.3,560.8 478.1,561.9 478,563.5 481.5,563 481.4,561.1 484.5,560.6 484.5,560.7 487.7,560.3 488.5,561.2 489.5,557.9 489.6,558 490.6,554.6 490.4,554.6 491.4,551.3 491.5,551.3 492.5,548.1 491,547.6 491.9,544.4 493.4,544.8 494.4,541.6 495.3,541.8 496.3,538.6 496.1,538.5 497.1,535.2 495.5,534.8 496.4,531.6 495.7,531.5 496.1,528.1 497.3,528.3 497.7,524.8 497.7,524.8 498,521.4 497.9,521.4 498.2,517.9 497.7,517.9 498.1,514.4 499.4,514.6 499.8,511.1 498.8,511 499.1,507.6 499.3,507.6 499.6,504.1 499.4,504.1 499.8,500.7 500.9,500.6 501.2,496.9 501.2,496.9 498.5,494.6 498.2,494.8 495.5,492.6 494.6,493.8 492,491.6 492.9,490.5 490.3,488.3 489.9,488.8 487.3,486.7 487.8,486.1 485.2,483.9 485.6,483.5 483,481.3 483,481.3 480.4,479.1 479.3,480.7 476.4,479.2 476.5,479.1 473.6,477.6 474.1,476.7 471.2,475.2 470.8,475.9 467.9,474.3 467.9,474.3 465,472.8 464.6,473.2 462.1,470.7 462,470.9 459.5,468.3 460.5,467.3 458,464.9 457,465.9 454.5,463.5 454.6,463.4 452.1,460.9 452.8,460.3 450.3,457.8 449.8,458.3 447.3,455.8 448,455.2 445.9,452.6 446.1,452.4 444,449.8 444.2,449.6 442.1,447 440.8,448 438.7,445.5 440.1,444.3 437.9,441.7 438.1,441.5 436,438.9 434.5,440.2 432.3,437.6 432.4,437.5 430.2,434.9 430.8,434.5 429,431.6 428.3,432.2 426.4,429.3 428.1,428.2 426.3,425.4 425.9,425.7 424.1,422.9 424,422.9 422.2,420.1 421.9,420.3 420.1,417.5 420.6,417.2 418.7,414.2 418.9,414 416.3,410.9ZM519.7,643.2 517.2,645.1 516.2,643.2 513.3,645.2 513.1,645 510.3,647 512,648.9 509.6,651.5 508.1,650 505.6,652.7 505.5,652.6 503,655.5 504.3,656 502.9,660 502.1,660 503.3,663.5 504.7,663.3 505.7,666.5 504.2,667.2 505.4,670.7 506.9,669.7 509.4,671.7 508.2,672.8 510.8,675 511.3,674.5 513.9,676.6 514.4,675.9 517,678.1 516.6,678.6 519.2,680.3 519.5,679.8 522.1,681.5 521.8,682 524.3,683.7 523.4,685.1 526.1,686.9 527.1,685 529.9,686.4 529.5,687 532.3,688.4 531.9,689.1 534.7,690.4 534.6,690.7 537.3,692.1 538.1,690.6 541,692 540.6,692.6 542.7,694.7 543.3,694 545.6,696.3 545.3,696.6 547.4,698.7 547.7,698.3 549.7,700.4 549.2,701.2 552.6,703 552.8,702.7 556.2,704.4 556.1,704.6 559.5,706.3 559.1,707.1 562,708.8 562.9,707.2 565.7,709 564.9,710.4 567.8,712.2 568.4,711.1 571.4,712.4 571.5,711.9 574.5,713.2 574.2,713.9 577.2,715.2 576.8,716.5 580,717.8 580.2,716.1 583.5,715.5 583.5,715.9 586.9,715.3 587.1,716.6 590.5,716 590.5,716.3 593.4,716.8 593.5,715.5 596.5,716 596.3,717.2 599.6,717.7 599.4,715.4 602.1,715.9 602.5,716.9 605.1,714.3 605.1,714.3 607.6,711.7 607.9,711.8 607.9,708.9 607.3,708.8 607.3,706 606.6,706.1 606.6,703.4 608.2,703 606.4,700.3 606.2,700.3 604.5,697.7 604.1,698.1 601.5,696.1 602,695.5 599.4,693.5 598.9,694.1 596.3,692.1 596.4,692 593.8,690 594,689.7 591.4,687.7 591.1,688.3 588.5,686.3 588.7,685.9 585.2,685.1 585.6,684 582.1,683.1 581.5,685.4 578.1,684.5 578.5,682.9 575,682 575,682.2 571.5,681.4 571.5,681.3 568.1,680.4 567.8,681.8 564.3,680.9 564.3,681 560.8,680.1 561.1,679 557.7,678.1 557.8,677.9 554.4,677 554.7,676.3 552.4,673.9 551.1,675.6 548.6,673 549.9,671.7 547.4,669.2 546.8,669.9 544.3,667.5 544.7,667.1 542.2,664.6 542.2,664.6 539.8,662.2 539.7,662.2 537.3,659.8 537.6,659.5 536.2,656.7 536.6,656.5 535.2,653.7 534,654.3 532.6,651.4 532,651.7 530.6,648.8 530.9,648.7 529.5,645.9 530.4,645.1 528.8,642.1 528.1,643.2 525.2,643 525.8,641.4 522.3,641.1 522.4,642.1 519.3,641.8ZM704.9,728.6 707.3,726.1 707.3,726 709.8,723.5 709.9,723.6 712.2,721.3 713.6,722.9 715.8,721.2 715,720.2 717.4,718.4 717.5,718.8 719.7,717.1 719.7,716.8 723.2,718.5 722.8,719.5 725.9,721 726.1,720.9 726.8,723.8 727.4,723.4 728.2,726.4 727.7,726.6 728.5,729.5 729.1,729.4 730,732.4 728.9,732.3 727.5,734.8 727.7,734.9 726.4,737.4 727.8,738.2 726.4,740.9 725.8,740.6 724.4,743.4 724.6,743.5 723.2,746.2 723.8,746.4 723.1,749.8 722.2,749.6 721.5,753 720.7,752.9 720,756.3 721.8,756.7 721.2,760.2 720.7,760.1 720,763.5 720.1,763.6 719,766.5 718.9,766.4 717.7,769.4 718.4,769.9 716.9,773.1 716.1,771.8 713.8,770.9 713.5,771.8 710.6,770.7 711.4,770.1 710.9,766.8 710.4,767 709.8,763.5 709.6,763.5 709,760.1 709.9,759.9 709,756.4 709.6,756.3 708.7,752.8 707.7,753.1 706.9,749.6 706.3,749.8 705.4,746.3 705.7,746.2 705.7,742.8 706.1,742.8 706.1,739.3 705.6,739.3 705.6,735.9 706.8,735.9 706.8,732.6 706.8,732.6 706.7,729.3ZM965.8,591.8 969.8,591.5 969.8,591.2 973.6,591.3 972.8,592.8 974.3,595.5 975.8,594 977.9,597.5 975.9,598 977.6,600.7 978.8,600.7 977.1,604.3 975.7,603.8 974.1,606.9 975.4,608 972.8,609.7 971.6,608.7 969.1,610.5 970.2,611.4 968.4,614.9 968.4,614.9 966.7,618.4 966.7,618.5 963.1,619.4 962.8,618.7 959.5,619.5 958.7,620.3 960.2,617 959.9,617 961.7,614 963.8,614.9 964.4,611.9 963.4,611.6 964,608.7 962.9,608.4 963.5,605.4 964,605.6 965.7,602.7 966.4,603.1 968.2,600.2 968.5,600.3 970.3,597.2 968.6,597.2 966.9,594.4 969.1,594.9 967.2,592.7ZM824.1,351.9 826.8,352.6 826.5,351.2 830.1,351.9 830,352.1 833.1,352.8 832,354 832.4,356.7 833.9,355.9 834.6,359 834,359.1 834.6,362 833.1,362.3 833.9,365.4 836.3,365.7 836.8,369.8 835.5,368.5 832.6,367.5 832.6,367.6 829.4,366.8 829.2,367.1 828.1,364.3 827.7,364.5 826.5,361.6 827.7,361.2 826.5,358.3 825.1,358.8 824.3,355.2 823.9,355.2 823.2,351.2ZM745.1,806.1 748.5,805.9 749,807.3 751.8,807.3 751.8,807.3 754.9,807.3 754.9,806.3 758.1,806.3 757.6,807.6 760.2,807.2 761.7,806.1 761.3,809.9 761.2,809.9 760.6,813.8 758.9,812.9 758.6,816 759.7,817.3 756.1,817.4 756,816.9 752.5,816.9 752.5,817.2 748.9,817.2 748.7,818 744.8,817.7 744.7,817.8 744.4,813.8 745.8,813.4 745.8,810.1 744.8,809.7 744.9,806Z"/>
<path fill="#e5f5ef" d="M433.4,458 435,461.1 434.5,461.2 436.1,464.4 435.6,464.6 437.2,467.7 438.3,467.2 439.9,470.3 439.1,470.7 440.7,473.8 440.8,473.7 442.4,476.8 442.6,476.7 444.2,479.8 444.7,479.6 446.3,482.7 446.9,482.5 447.6,486 446.6,486.3 447.3,489.7 448.3,489.5 449,492.9 449,492.9 449.7,496.3 448.2,496.6 448.9,500.1 448.6,500.2 449.3,503.8 449.5,503.7 451.6,506 452.7,505.2 454.6,507.2 454.3,507.6 456.4,509.8 456.6,509.2 459.7,508.8 459.7,508.7 462.7,508.4 462.9,509 466.1,508.7 466.3,508.9 467.4,506.2 468.3,506.6 469.6,503.4 469.7,503.4 468.1,500.3 466.6,500.8 465.2,498.1 465.5,498 464,495.2 463.9,495.3 461.9,492.8 462.2,492.6 460.2,490.1 460,490.2 458,487.7 458.1,487.7 456.1,485.2 455.7,485.5 453.1,483.2 454.2,482.1 451.5,479.8 451,480.3 448.3,478 448.6,477.8 447.2,474.6 446.3,475.1 444.9,471.9 444.8,471.9 443.4,468.7 444.6,468.2 443.1,464.9 443.4,464.8 441.9,461.4 441.7,461.7 438.9,460.3 438.9,460.4 436,459 435.9,459.9 433.8,458.3Z"/>
<path fill="#ffffff" d="M715.3,331.8 712.1,331.7 711.6,332.7 708.8,332.7 708.8,330.5 705.6,330.4 705.6,331 702.4,330.9 702.3,332.7 699.1,332.6 699.1,331.8 695.9,331.7 695.9,330.3 692.6,330.2 692.6,330.7 689.4,330.6 689.4,332 686,332.3 685.9,331.2 682.5,331.5 682.4,330.4 678.9,330.7 679.2,332.9 675.8,333.6 675.5,331.6 672,332.2 672.2,333.6 668.8,334.2 668.8,334.1 665.4,334.8 665.2,334.4 662.1,335.6 662.5,336.8 659.5,338 658.8,336.1 655.7,337.3 656.1,338.4 653,339.6 652.4,338.4 649.2,339.7 650.4,341.5 648.4,343.8 647,342.2 644.8,344.6 645.5,345.3 643.3,347.7 643.9,348.2 641.8,350.6 641.9,350.6 640.2,352.9 638.6,351.6 636.8,354 638.5,355.2 636.7,357.5 636.7,357.4 634.5,360.4 633.4,359.6 631.3,362.7 632.2,363.3 630,366.4 629,365.4 626.9,368.4 626.8,368.2 623.3,369.2 623.3,369.2 619.8,370.1 620,370.4 620,374 621.2,374.4 621.3,377.7 620.3,377.6 620.3,381 621.7,381.2 620.5,384.8 620.3,384.7 619.1,388.3 617.4,387.7 616.3,391.1 616.8,391.3 615.5,394.8 614.6,394.5 613.3,398 614.6,398.3 614.3,401.2 614.4,401.2 614.1,404.1 614,404.1 613.8,407 612.5,406.6 610.8,410.1 612.1,410.4 610.4,413.8 609.1,413.7 610,416.3 611.8,416.5 612.7,419 611.7,419 610.6,421.8 609.7,421.6 608.5,424.7 610.8,424.8 609.5,427 609.4,427.1 612,427.5 611.1,428.8 614.3,429.7 614.7,428.2 617.4,429.1 617.4,430.7 620.7,431.5 620.4,431 621.8,428 621.7,427.9 623,425 622.5,424.7 623.9,421.8 625.6,422.5 627,419.5 627,419.6 628.4,416.6 628.2,416.5 629.5,413.5 629,413.2 630.4,410.2 629.4,409.8 630.8,406.8 630.9,406.9 632.3,403.9 633.8,404.6 635.2,401.6 633.7,400.9 635.1,397.9 636.3,398.5 637.7,395.5 638.1,395.7 639.5,392.7 638.4,392.2 639.8,389.2 638.8,388.8 640.1,385.9 640.1,385.9 640.7,382.7 641.9,383 642.4,379.7 641.5,379.6 642.1,376.3 643.6,376.6 644.2,373.3 644.3,373.3 644.9,370.1 642.8,369.7 643.4,366.5 644.1,366.6 644.7,363.3 646,363.6 646.5,360.5 646.1,360.3 646.6,357.2 645.8,356.4 649.3,355.8 650.1,357.6 653.1,357.2 653,356.9 656.3,356.5 656.2,354.9 659.5,354.5 659.6,356 663,355.6 662.9,355.1 666.2,354.7 666.2,354.7 669.5,354.3 669.5,354.2 672.8,353.8 672.9,354.2 676.2,353.8 676.2,354 679.5,353.6 679.4,352.1 682.7,351.7 682.7,351.9 686,351.5 685.9,351 689.1,350.6 689.7,352.9 693.1,351.3 693,351 696.2,349.5 695.5,347.9 698.7,346.4 699.3,347.6 702.5,346.1 702,345 705.2,343.5 705.8,344.6 709,343.1 708.9,342.9 712.2,341.4 711.7,340.8 714.9,339.4 715.4,339.8 715.5,335.8 715.2,335.8 715.2,331.9ZM736.2,334.7 738.7,333.9 738.9,334.2 741.3,333.4 741.4,333.6 744.6,332.8 744.5,330.8 748.2,330 748.1,330.8 750.7,332.6 750.8,332.3 753.6,334.2 753.3,334.4 754.6,337 754.2,337.1 755.5,339.5 756.3,340 752.2,341.9 752,341.6 748,343.3 748.1,343.8 745,343 745,342.7 741.9,341.8 741.7,342.2 738.5,341.3 739.1,340.4 736.1,339.6 736.6,339.1 736.9,337 736.9,337 736.7,335ZM801.1,359.4 803.8,356.6 804.9,357.8 807.1,355.5 806.8,354.9 810.2,355.3 810.2,355.4 813.4,355.8 813.6,354.5 817.1,354.9 817.1,355.1 820.3,356.3 820.6,355.8 824,357.5 822,358 820,360 820.8,360.3 818.9,362.8 818.2,362 816.5,364.4 816.7,364.9 813.4,364.8 813.5,365.5 810.1,365.5 810.1,364.3 807,364.3 806.8,364.8 803.6,364.9 803,365.8 802,362.6 802.2,362.5 801.4,359.4ZM871.4,383.5 873.1,385.2 873,383.5 875.7,384.8 875.4,386.2 878.9,386.4 879,385.6 882.5,385.8 882.6,385.2 886,385.4 886.1,385.1 889,386.3 888.8,387.1 891.7,388.3 891.7,388.2 894.6,389.3 894.1,390.5 897,391.7 897.4,390.7 900.2,392 900.1,392.1 902.9,393 904.1,393.4 900.1,394.6 899.8,393.9 896.3,394.6 896.4,395.1 893,395.8 892.8,395 889.4,395.7 889.4,395 886,395.7 885.9,397.5 882.9,396 883,396 880.1,394.5 880.6,393.5 877.8,392.1 878.1,391.5 875.6,390.2 874.9,391.1 872.1,389.7 872.2,389.6 871.3,386.2 870.6,386.4 869.9,382.3ZM924.6,470 923,472.6 923.3,472.6 921.8,475.5 922.6,475.9 921.1,478.6 919.5,477.9 917.9,480.7 918,480.8 917.5,483.7 917,483.6 916.4,486.4 916.6,486.5 916.1,489.3 915.8,489.2 914.1,492.6 914.4,492.7 912.7,496.2 913.6,496.6 911.9,500 913,500.4 912.3,503.5 911.6,503.2 910.9,506.3 910.1,506.1 909.4,509.2 909.5,509.3 908.8,512.3 909.5,512.7 908.6,515.9 908.1,515.1 905,514.3 905,513.7 902,513 901.6,514.9 898.3,514.2 898.4,513.7 895.1,512.9 895.4,511.7 892.1,510.9 892.1,510.8 888.8,510.1 888.8,510.2 885.5,509.5 885,511.7 881.7,510.9 882.1,508.8 878.8,508.1 878.6,509.4 875.3,508.7 875.1,509.5 871.4,508.7 872.6,506.6 869.6,506.1 868.9,506.7 869,503.6 868.8,503.6 868.8,500.4 867.6,500.4 867.6,497.2 869.5,497.2 869.5,494 869.3,494 869.3,490.7 869.4,490.7 869.4,487.5 869.9,487.5 869.8,484.6 868.3,484.1 868.4,480.7 868.1,480.5 871.8,479.5 872.2,480.3 875.7,479.5 875.9,480.5 879.4,479.6 878.9,477.9 882.4,477 882.4,477 885.8,476.1 885.9,476.3 889.3,475.5 889.5,476.3 893,475.4 892.6,474.2 896.1,473.3 896.2,473.8 899.7,472.9 899.7,473 903.2,472.2 903.2,472.3 906.8,471.9 906.9,472.7 910.5,472.2 910.4,471.7 914,471.2 913.9,470.4 917.5,469.9 917.5,470.2 921.2,469.8 921.1,470.7 924.4,470.1ZM946.8,525.6 949.8,523.8 949.5,523.3 952.5,521.4 952.8,522.4 955.5,522.7 955.4,522.1 958.1,522.3 957.8,522.9 960.3,522.9 960.1,523 961.6,526.7 962.3,526.6 960.6,528.7 960.2,528.6 958.5,530.8 958.9,531 957.2,533.4 958.3,533.4 960,535.9 958.2,536.2 960,539 961.4,538.5 961.6,542 960.3,542.2 960.4,545.3 962.1,545.7 962.1,549.4 962,549.3 958,552.1 957.3,550.9 954.5,551 954.9,552.6 951.7,552.9 951.7,552.5 948.5,552.7 948.9,551.1 946.3,551.6 945.8,552.2 945,548.8 944.3,549.2 943.4,545.6 942.8,545.8 942,542.3 943.9,541.9 943,538.4 942.8,538.5 941.9,535.1 940.6,535.2 939.7,531.6 939.3,531.5 941.4,529 943.4,530 945.2,528.1 945.2,528.1 947.1,526ZM950.7,572.1 953,574.5 952.4,575.6 954,577.8 954.4,577.6 956.2,579.9 956.8,579.6 957.6,583 956.2,583.8 957.1,587.3 957.7,586.9 960.6,588.6 960.7,588.5 963.6,590.2 964.1,589.4 967.1,591.2 965.5,593 966.9,595.2 967,595.1 968.6,597.2 969.3,597.2 967.6,600 968.8,600.4 967.1,603.4 967.1,603.4 965.4,606.2 963.7,605.5 963.1,608.5 965,609 964.4,612 963.5,611.6 962.9,614.5 963.8,615.3 959.9,619 959.9,618.9 956.7,618.2 956.9,616 954.8,615.3 953.6,617.3 950.7,614.8 951.5,613.7 948.8,611.3 949.3,610.7 946.5,608.3 946,608.9 943.3,606.5 944.1,605.9 941.5,603.8 939.8,604.4 940.4,600.7 940.9,600.7 941.5,597.2 942.6,597.4 943.2,594 942.9,593.9 943.4,590.5 942.7,590.3 943.3,586.9 942.6,586.7 943.2,583.2 944.4,583.7 946.1,581.1 946.5,581.3 948.2,578.8 947.6,578.5 949.3,576 949.8,576.6 950.9,574.2ZM630.1,703.5 633.1,701.2 633,701 635.9,698.7 635.9,698.6 638.8,696.3 638.9,696.6 642.3,695.4 642.1,695 645.6,693.9 645.7,694.2 649.1,693 649.2,693.9 652.5,694.4 652.5,693.4 655.9,693.8 655.8,694.8 659.2,695.3 659.3,695.1 662.7,695.5 662.8,695.1 665.6,695.7 665.9,693.9 668.9,694.4 668.6,695.7 671.5,696.3 671.5,696.1 674.7,697 674.9,696 678.1,696.9 678.1,696.9 681.5,697.8 681.1,698.6 684.3,699.5 683.9,700.2 686.1,702.9 686.5,702.2 688.7,704.8 688.6,705.2 691.7,705 691.9,703.4 694.7,703.2 694.8,705.6 697.8,705.4 697.8,704.5 700.8,704.3 700.8,703.5 704,703.6 703.9,703.8 707.1,704 707.1,704.1 710.3,704.2 710.3,703.7 713.5,703.9 713.4,705.2 716.7,705.4 716.5,703.8 719.5,704 719.5,703.8 722.6,702.2 723.8,704.1 727.6,702.1 727,701.7 727.8,698.1 727.7,698.1 728.4,694.6 728.4,694.5 729.1,691.1 728.7,691 729.4,687.6 730.1,687.7 730.9,684.3 729.9,684.1 730.6,680.6 730,680.5 730.7,677 730.6,677 731.3,673.6 731.5,673.6 732.2,670.2 733.8,670.5 734.5,667 733.2,666.8 733.9,663.4 733.8,663.4 734.6,660 735,660 734.3,656.7 734.1,656.7 733.5,653.5 734.5,653.3 733.8,649.9 732.6,650.2 731.9,646.9 733.3,646.6 732.6,643.3 731.8,643.4 731.1,640.1 731.9,640 731.2,636.7 730.5,636.8 729.9,633.5 731.1,633.2 730.5,629.9 729.8,630.1 729.1,626.7 727.9,627 727.3,623.7 728.6,623.4 727.9,620 726.8,620.4 726.2,617.3 726,617.4 723.1,615.8 723.4,615.4 720.4,613.7 720.4,613.7 717.4,612 717.9,611.1 714.8,609.3 714.5,610 711.5,608.2 710.8,609.3 707.8,607.6 707.8,607.6 704.7,605.9 705.3,605 702.2,603.2 702.4,603 699.3,601.3 698.6,602.5 695.6,600.7 696.2,599.8 693.1,598 692.8,598.6 689.7,596.9 690.7,595.3 687.6,593.5 687.4,594 684.3,592.2 683.6,593.5 680.6,591.7 680.9,591.1 677.9,589.4 677.7,590 674.8,588.3 674.9,587.4 671.6,588.1 671.6,589.3 668.4,590 668,587.7 664.6,588.4 664.7,589 661.4,589.7 661.6,590.6 658.2,591.3 658.2,591 654.8,591.7 654.9,592.1 651.5,592.7 651.4,592.2 648.1,592.9 648.2,593.5 644.9,594.2 644.9,594.4 641.5,595.1 641.3,593.8 637.9,594.5 637.8,593.7 634.4,594.4 634.6,595 631.2,595.6 631.3,595.9 627.9,596.6 628.2,598.2 624.9,598.9 624.9,598.8 621.5,599.5 621.4,598.8 618.1,599.4 617.6,598.2 614,599 615.3,600.5 614.2,603.4 612.6,602.2 611.2,605.5 611.2,605.5 610,608.5 611.6,609.2 610.3,612.2 609.3,611.8 608,614.9 608.2,614.9 606.9,618 606.6,617.9 605.4,621 604.7,620.7 603.5,623.8 603.8,623.9 602.6,627 602.4,626.9 601.2,630 601.1,630 599.9,633.1 599.9,633.1 598.7,636.2 599,636.3 597.8,639.5 598.6,639.7 597.4,642.8 597.3,642.8 598,646.1 598.7,646 599.4,649.2 599.5,649.2 600.1,652.5 599.4,652.7 600.1,656 600.1,656 600.8,659.3 599.4,659.6 600.1,662.9 600.2,662.9 600.9,666.2 602.8,665.8 603.5,669.1 603.7,669.1 604.4,672.4 602.9,672.7 603.6,676 604.9,675.7 605.6,679 605.6,679 606.2,682.2 604.6,682.8 605.4,686.2 605,686.5 607.8,688.6 607.9,688.5 610.7,690.5 610.7,690.6 613.4,692.5 613.3,692.6 616,694.5 616.8,693.4 619.4,695.3 619,696 621.7,697.9 622.6,696.5 625.3,698.4 624.8,699.2 627.4,701.1 627.5,701.1 630.1,703ZM597.5,692.7 600.3,695 599.5,695.7 602.6,698.2 603.4,696.9 606.2,699.2 605.7,700.1 609.3,700.7 609.7,699.1 613,699.7 612.7,701.6 616.2,702.2 616.4,700.7 619.4,701.1 619.2,702.7 622.2,703.1 622.5,701 625.1,701.5 625.2,701.7 627.8,702.3 628.9,704 630.2,700.3 628.8,700 629.8,697.3 630.7,696.7 627.1,695.1 626.6,695.7 623.2,694.2 622.8,695 619.3,693.5 620.2,692 617.5,689.8 617.5,689.9 614.8,687.7 614.9,687.4 611.5,687.9 611.5,687.8 608.2,688.4 608.4,689.5 605.3,690 605.1,689.1 601.9,689.7 601.9,689.6 598.4,690.4 599.4,691.4 597.8,692.7ZM604.7,447.2 601.6,449.6 602,450.4 599,452.7 598.5,452.1 595.7,454.4 596.7,455.7 594.4,457.4 594,456.9 591.7,458.6 591,457.7 588.7,459.4 588.7,459.4 586.2,461 587.1,462.6 584.5,464.3 583.8,463 581,463.8 581.6,465.2 578.7,466.1 578.6,465.8 575.7,466.7 575.6,466.4 572.7,467.8 573.1,468.7 570.3,470.1 570,469.5 567.1,470.9 567.1,470.9 564.2,472.3 564,471.9 561.1,473.3 561,473 558.2,474.4 558.1,474.1 554.7,474.5 554.9,475.2 551.4,475.7 551.4,475.5 548.5,476.7 548.8,477.7 546,478.8 545.5,477.6 542.7,478.7 542.8,479.1 539.9,479.6 540.3,481 537.1,481.6 537.1,480.8 534.2,481.3 534.1,481.4 531.4,479.7 531.4,479.7 528.7,477.9 528.3,478.3 526.5,475 528,474 526.2,470.8 525,471.7 523.4,468.6 524.7,467.3 522,465.7 521.7,466.1 519,464.5 518.6,465.3 516,463.8 516.4,463.2 513.8,461.7 513.6,462 510.8,460.7 511.1,460 508.3,458.7 508.3,458.7 505.6,457.4 505.3,457.8 502.6,456.4 502.4,456.8 499.6,455.4 499.5,455.6 496.8,454.2 497,453.8 494.2,452.4 494.4,452.1 491.6,450.8 490.9,452.1 488.1,450.7 488.3,450.3 485.5,448.9 485.9,448.4 483.7,446.2 483.7,446.2 481.6,444 482.3,443.3 480.1,441.1 480,441.2 477.8,439 477.9,438.8 475,437.5 473.9,439.5 471.2,438.4 471.3,438.2 468.5,437 469.1,435.1 465.6,434.3 465.1,435.8 461.7,435 461.9,434.2 458.4,433.3 458.3,434 454.8,433.2 455,432.6 451.5,431.7 451.6,431.5 448.2,430.6 448.6,430.1 446.4,427.8 446.2,428.1 443.9,425.8 443.5,426.3 441.2,424 440.8,424.6 437.8,423.3 438.5,422.1 435.4,420.7 435.2,421.4 432.1,420.1 431.9,421.5 429.4,420.1 428.8,418 426.5,421 427.1,421.4 425.4,424.2 426.5,424 428.7,426 428.3,426.2 430.5,428.5 431,427.9 433.3,430.2 432.7,430.8 435,433.1 435.1,433.1 437.4,435.4 436.6,436.1 438.8,438.3 439.2,438.1 440.6,440.9 440.9,440.8 442.3,443.6 443.1,443.2 444.6,446.1 444.1,446.4 445.5,449.2 444.9,449.6 446.3,452.5 447.3,451.7 448.6,454.3 448.2,454.9 451.3,455.1 451.4,454.8 454.5,455 454.4,456.4 457.7,456.7 457.7,456.4 460.9,456.6 461,455.8 464.2,456 464.2,456.4 467.4,456.7 467.4,457.1 470.6,457.3 470.8,455.6 474.1,455.8 474.1,455.7 477.5,456.9 477.3,457.6 480.7,458.9 480.9,458.1 484.3,459.3 484,459.9 487.3,461.1 487.1,461.8 490.4,463 490.1,463.8 493.4,465 493.8,463.9 497.2,465.1 497.5,464.3 500.8,465.5 500.5,466.3 503.8,467.5 503.9,467.1 507.3,468.2 506.9,469.1 510.2,470.3 509.9,471.2 513.1,472.3 513.7,471.2 517,472.4 516.8,472.7 519,475.6 519.4,475.2 521.7,478.1 522.5,477.4 524.8,480.3 524.8,480.3 527.1,483.2 527,483.2 529.4,486.2 528.8,486.6 531.1,489.5 530.8,489.6 531.1,493.1 531.1,493.1 531.3,496.5 532.3,496.5 532.6,499.9 530.2,500.1 530.4,503.5 530.5,503.5 530.7,507 530.8,507 531.1,510.4 532,510.4 532.3,513.8 533.7,513.7 533.9,517.2 533.7,517.2 533.9,520.6 533,520.7 533.2,524.1 534.3,524.1 534.5,527.5 533.9,527.5 534.1,531 534.4,531 534.6,534.4 533.1,534.5 533.4,538.2 533.1,538.3 533.5,542.1 533.7,541.9 537.4,542.6 538.1,541.1 541.3,541.6 541.3,541.6 544.7,542.1 544.6,542.9 548.1,543.4 547.9,544.6 551.3,545.1 551.4,544.5 554.9,545.1 554.8,545.4 558.3,546 558.4,545.2 561.9,545.8 561.9,545.3 565.4,545.9 565.4,545.6 568.9,546.2 568.8,546.9 572.2,547.4 572.1,548.2 575.5,548.8 575.5,548.6 579,549.2 578.9,549.6 582.5,550.2 582.6,550.4 586.3,551 586.3,551.1 589.1,548.5 588.9,548.4 591.6,545.8 590.1,544.3 592.6,541.8 593.3,542.6 595.8,540.1 595,539.3 597.4,536.8 598.3,537.7 600.7,535.2 601.1,535.6 603.6,533.2 603.6,533.2 606.1,530.7 605.7,530.4 608.2,527.9 607.9,527.6 610.3,525.1 611,525.7 613.4,523.3 612.6,522.5 615.1,520 616.4,521.3 619,518.7 617.6,517.7 620,515.3 621.1,515.9 621.8,512.5 622,512.5 622.7,509.1 620.9,508.7 621.6,505.4 621.8,505.4 622.4,502.1 623.8,502.4 624.4,499.1 624.9,499.2 625.6,495.9 623.8,495.5 624.5,492.2 624,492.1 624.7,488.8 626.8,489.2 627.4,485.9 625.3,485.4 625.9,482.1 626.4,482.2 627,478.9 628.4,479.2 629.1,475.8 629.6,475.8 630.2,472.3 628.5,472.5 627.1,469.7 628,469.4 626.5,466.5 626.7,466.4 625.3,463.5 623.6,464.3 622.2,461.5 624.2,460.5 622.6,457.5 622.2,457.8 620.7,454.9 620.3,455.3 617.3,453.9 616.7,454.7 613.8,453.5 614.7,451.4 611.6,450 611.6,450 608.2,448.5 608.2,448.6 604.8,447.2ZM488.4,507.6 491.8,508.5 491.9,509.1 495.1,509.9 495.4,509 498,509.8 497.6,510.8 500.1,511.6 500.4,511.1 503,513.7 504.1,513 506.8,516.3 504.5,516.1 501.8,517.9 502.3,518.3 499.5,520.5 500.2,521.1 497.4,523.4 496.1,522.5 495.1,526.4 495.2,526.4 494.4,530.2 496.1,529.8 498.7,532.4 499.1,532.4 501.7,535.2 500,535.2 497.5,536.5 497.3,536.3 495.2,537.8 495.4,539.8 491.5,538.9 491.9,537.3 488.7,536.6 488.2,537.1 487.7,534 487.7,534 487.2,530.9 487.2,530.9 486.7,527.9 486,527.9 485.6,524.8 485.4,524.8 486,521.3 486.7,521.3 487.3,517.9 487,517.8 487.5,514.4 487.6,514.4 487.7,510.7 488,510.9 488.1,507.3ZM481.9,560.5 482,564.3 482.6,564.5 482.9,567.9 482,568.1 482.4,571.6 484,571.1 485.8,574.7 484.2,574.9 486,578.2 486.8,578.3 484.5,580.1 485.3,580.6 483,582.3 481.8,581.6 479.5,583.5 481,583.3 483.3,584.4 482.8,584.8 485.3,586.4 485,586.8 487.5,588.5 487.6,588.3 490.1,590 490.1,590.1 492.3,587.8 492.6,588.4 495,585.9 493.6,585.1 495.7,583.2 497.2,583.5 495.9,580 494.4,580.2 493.2,577 493.5,576.9 492.2,573.3 494.3,572.8 493,569.6 492.4,569.6 493.3,566 492.7,566.2 493.6,562.7 492.9,563.2 489.4,562.9 490.2,561.4 485.9,560.8 486.1,561.9 482.5,561.3ZM510.2,611.5 511.2,614.5 508.8,614.4 509.7,618.2 511.4,617.8 511.9,620.7 511.3,620.8 511.9,623.7 513.1,623.4 513.6,626.3 512.3,626.6 513.2,629.3 514.2,628.5 514.6,630.7 513.9,632.6 517.2,631.5 517,629.3 519.1,628.4 520.1,629.6 523.1,628.4 523.6,628.7 523.2,624.9 522.8,624.9 522.4,621.3 521.7,621.4 521.2,618 522.7,617.7 522.3,614.1 521.4,614.4 519.6,610.9 520.4,610.3 518.2,606.4 518.2,606.6 514.8,607.6 514.8,607.9 511.4,609.2 511.5,609.4 508.4,610.8ZM468.1,499.7 471,500.7 471,500 474.2,501.1 473.6,502.1 476.2,503.1 476.7,502.6 478.8,506.3 479.3,506 481.4,510 480.4,510 478.4,512.7 478.9,512.9 476.6,515.8 476.6,515.8 474.4,518.6 474.4,518.9 471.3,516.9 472,514.9 469.9,513.2 469.6,513.4 467.1,511.7 465.1,512.5 465.5,509.1 466.2,509.1 466.7,505.9 467.9,506.1 468.4,503.3 467.2,502.7 468,499.5ZM416.6,412.2 420.1,412.3 420.5,414.3 422.9,414.5 423.4,413.5 426.4,413.9 426.3,414 426.9,417.7 428.1,417.2 428.8,421.3 427.3,421.4 428,425 428.2,425 427.2,428.4 427.5,428.6 426.4,432.2 426.1,431.7 423.3,430.7 423.1,432.1 419.6,430.8 419.6,430.7 418.5,427.9 418.8,427.7 417.7,424.8 419.4,424.4 418.4,421.8 416,422.2 416,419.1 417.2,419 417.2,416 417.1,415.9 417.1,412.8Z"/>
<path fill="#fdbf71" d="M505.6,605 512.5,605 512.5,608.4 505.6,608.4ZM717.9,741 721,741 721,746.2 717.9,746.2ZM718.7,764.3 721.5,764.3 721.5,769.5 718.7,769.5ZM917.9,708.3 923,708.3 923,712.1 917.9,712.1Z"/>
<path fill="#313695" d="M505.6,608.4 509.9,608.4 509.9,612.8 505.6,612.8Z"/>
<path fill="#feffc0" d="M472,508.4 475.8,508.4 475.8,513.6 472,513.6ZM479.7,553.3 483.2,553.3 483.2,559.3 479.7,559.3ZM922.2,706.6 927,706.6 927,710.9 922.2,710.9ZM546,472.4 549.7,472.4 549.7,475.9 546,475.9ZM686,323.3 689.4,323.3 689.4,329.3 686,329.3Z"/>
</g>
<g transform="translate(1204.3,0)">
<path fill="#efefdb" stroke="none" d="M611.7,500 615.9,497.2 621.7,496.2 620,492.4 619,488.3 622.1,485.5 623.4,481.4 625.5,475.9 629.7,470.3 631,465.5 629,463.4 625.5,460.7 622.8,455.9 619.3,458.6 616.6,462.8 613.4,464.8 611,462.1 607.6,457.2 605.2,452.4 606.2,447.6 609,440.7 610,433.8 610.3,427.6 614.5,422.8 619.3,420 627.6,404.8 635.2,389.7 635.2,386.2 631,384.1 631,377.2 640,366.2 642.8,353.8 644.8,349.9 649,349.7 653.1,354.1 656.3,354.1 656.6,344.8 661.4,344.4 662.8,348.3 666.2,349.9 675.2,345.8 680,345.5 682.5,351.7 686.9,347.6 699.3,342.8 710.3,337.5 715.2,332.4 717.2,334.5 722.1,335.9 724.8,346.2 729,344.8 733.1,338.6 737.9,337.9 740.7,339.3 742.1,344.8 748.3,341.4 755.9,341.4 761.4,344.1 767.6,349 768.3,357.2 773.8,356.6 784.8,362.1 794.5,363.7 801.4,362.1 809.7,363.4 817.9,357.2 822.3,355.9 824.1,361.4 824.1,367.6 829,371 829,378.6 833.1,381.4 838.6,377.9 848.3,378.9 859.3,382.5 871.7,384.4 873.8,388.3 884.1,389 887.6,392.7 891,393.5 893.8,391.3 900.7,392.1 909,396.6 913.8,402.8 915.9,410.3 914.5,413.8 910.3,416.6 909,424.1 907.6,427.6 909.7,432.4 907.6,437.9 907.6,442.1 911,444.8 918.6,446.9 919,448.6 919.3,455.2 920.4,463.4 921.8,470.3 916.6,474.5 909.7,479.3 903.4,480.7 898.6,478.6 895.2,476.6 889.7,479.3 891.7,482.8 888.3,483.9 877.9,484.1 875.2,487.6 875.2,492.1 878.6,495.9 888.3,496.1 896.6,498.2 904.1,497.7 908.3,501.4 911,507.6 915.2,512.4 922.1,513.1 927.6,514.5 931.7,517.9 936.6,522.8 941.4,525.2 945.2,529.7 944.8,534.5 948.3,543.4 947.6,549 951,551.4 959.3,553.4 951,557.2 948.3,560.7 947.2,566.2 948.6,570.3 947.6,577.2 948,582.1 944.8,587.6 943.9,589.7 944.8,593.8 944.8,599.3 945.5,603.4 942.8,607.3 949.7,613.8 954.5,620 960,625.8 955.9,629 950.3,631.7 940,636.3 937.9,642.8 937,649 937,655.9 938.3,661.4 940,665.5 938.9,671 940,674.5 935.9,677.2 927.6,679 925.5,683.4 920,685.9 915.2,689 911,693.8 910.8,698.6 913.1,708.3 911,712.4 904.1,717.9 902.1,724.1 898.6,727.6 893.1,731.7 891,739.3 887.6,744.8 882.8,750.3 880,755.9 882.1,760.7 886.2,765.8 882.1,766.2 877.9,763.4 872.4,760 867.6,758.2 864.1,759.7 858.6,765.5 851.7,771.7 843.4,777.9 837.2,781.8 833.8,782.8 830.3,781.4 829,777.2 824.8,775.9 814.5,775.9 804.8,777.2 795.2,779 791.7,781.8 791,786.2 785.5,784.1 780,782.1 774.5,781.8 767.6,782.3 764.8,779.6 759.3,777.9 754.5,775.2 749.7,774.5 744.1,775.9 737.2,777.2 730.3,777.2 723.4,775.2 717.9,772.1 715.9,769 716.3,762.8 717.7,755.9 718.2,747.6 722.8,744.8 724.1,739.3 726.9,735.2 728.3,725.5 729,720 727.6,711.7 725.5,704.8 722.8,699.3 720,693.8 715.2,692.4 712.4,688.3 716.6,684.1 720.7,680.7 722.3,680.7 722.3,673.8 720.7,660 715.2,651.7 706.9,642.1 698.6,635.2 695.9,629.7 691,626.2 689,628.3 685.5,625.5 682.1,626.9 677.9,625.5 675.2,630.3 671,631.3 667.6,620 664.8,612.4 660,612.4 657.2,606.2 649,608.3 646.2,612.4 649.7,617.2 649.7,621.4 651,626.2 646.2,635.2 642.8,640.7 642.1,645.5 643.4,651.7 642.8,655.9 636.6,653.8 634.5,649.7 626.9,651.7 622.1,655.2 620.7,661.4 622.1,666.9 631,675.2 631.7,682.8 631.7,690.3 629.7,697.2 628.3,702.1 626.2,696.6 618.6,695.9 617.9,690.3 613.1,689.7 604.8,691 597.2,692.4 593.8,697.9 590.3,701.4 585.5,701.4 586.2,697.9 581.4,696.6 577.2,696.6 570.3,693.1 563.4,691.7 555.2,689.7 549.7,684.1 547.6,678.6 542.8,674.5 539.3,668.3 535.2,660.7 531,653.1 524.8,649.7 520.7,647.6 520.7,642.8 516.6,640 512.4,638.6 514.5,634.5 517.9,631 521.4,629 517.2,627.6 518.6,622.8 520.7,614.5 518.6,609.7 516.6,606.2 517.9,594.5 513.1,593.5 504.8,597.9 504.8,603.4 496.6,607.6 489,610.6 490.3,604.8 488.3,596.6 491,591.7 496.6,588.3 497.2,582.8 493.8,575.9 491,570.3 493.1,566.2 491.7,562.1 482.8,560 489.7,555.2 490.3,549.7 495.2,546.9 496.6,541.4 501.4,535.2 491.7,530.3 497.2,527.6 497.2,522.1 500.7,519.3 505.5,518.6 504.8,512.4 502.1,505.5 500.7,500 502.1,493.1 501,493.8 500,489 497.2,485.5 493.1,482.8 487.6,481 482.1,480 475.2,479.3 468.3,478.6 464.1,476.6 460,473.1 455.9,469 450.3,465.9 443.4,464.1 438.6,461.4 433.8,455.2 429.7,448.3 426.9,440 424.8,438.4 421.7,433.8 420.7,428.6 420.2,423.4 419.7,415.2 419.1,405.9 418.6,400.7 420.7,396.6 424.8,395.3 427.4,398.1 428.4,403.8 429.2,409.5 426.4,411.6 424.3,414.1 424.8,420.3 425.3,424.5 427.9,428.6 432.1,431.7 436.2,433.3 440.3,433.8 440.9,437.4 439.8,441 441.4,444.1 443.4,449 447.6,454.5 451.7,457.2 457.2,457.6 462.1,456.2 468.3,454.1 474.5,454.6 479.3,456.9 486.2,457.6 492.4,459 497.9,461.4 504.8,464.1 511.7,466.9 517.9,470.3 522.8,473.8 525.5,477.2 526.6,480 524.8,482.8 527.6,485.5 531,489 533.1,493.1 533.8,498.6 535.2,504.1 536.6,508.3 539.3,511.7 537.9,516.6 536.6,520 535.9,523.4 534.5,529.7 537.9,529.7 542.1,525.5 546.2,524.1 550.3,524.1 553.1,528.3 552.4,532.4 555.9,535.9 562.1,537.2 566.9,535.9 574.5,535.2 577.9,531 583.4,528.3 590.3,526.2 595.9,522.1 601.4,520 606.9,519.3 617.9,521.4 615.2,515.2 613.1,508.3 611.7,501.4ZM581.4,472.4 581.4,468.3 584.8,466.6 589.7,466.9 594.5,469.7 599.3,473.8 603.4,477.9 605.5,483.4 605.5,489.7 604.5,495.2 602.1,498.6 597.9,499.3 594.5,497.2 593.1,491.7 589.7,485.5 585.5,479.3 582.1,474.5ZM583.4,506.9 590.3,509.7 591,513.8 589,517.9 582.1,518.6 583.4,513.1 584.8,508.3ZM453.1,481.4 458.6,479.3 468.3,479.4 478.6,480.7 486.2,482.8 491,485.5 493.1,489.7 493.8,495.2 493.1,500 491,502.8 489,502.1 487.9,498.6 488.6,506.2 486.2,509 482.1,509.7 478.6,507.6 476.6,503.4 475.2,500 477.2,496.6 473.8,494.5 468.3,492.1 462.8,490.3 457.2,487.6 453.8,484.1ZM476.6,586.9 482.8,583.4 484.8,592.4 484.1,602.1 481.4,608.3 476.6,606.2 477.9,596.6 477.2,589.7ZM520.7,657.2 523.4,655.2 527.6,655.9 526.9,662.8 523.4,666.2 520.7,665.5 520.4,660ZM289.4,321.9 298.2,319.8 301.3,325 300.2,331.2 298.7,336.4 294,336.9 292.5,340.5 295.1,343.1 295.1,346.2 288.8,346.7 286.8,345.7 285.7,338.4 285.2,333.3 289.4,330.2 290.4,326ZM200.4,342.4 214.4,353.8 218,352.2 227.3,359.4 229.4,371.3 241.8,382.2 243.3,390.8 248,397 261.4,399.6 270.7,397.6 268.7,401.7 265.6,406.3 267.6,413.1 268.7,419.3 272.8,421.9 280.1,426.5 274.9,431.7 270.7,434.8 262.5,438.9 253.2,446.2 252.1,447.7 243.8,447.7 237.6,443.6 228.3,445.3 214.4,443.1 200.4,442ZM270.7,403.2 280.1,402.2 289.4,402.2 298.7,396.5 306.4,387.7 311.6,393.9 309,400.7 303.8,401.7 307.5,405.3 308.5,412 304.9,417.2 298.7,421.9 294.5,428.1 286.3,433.8 276.9,439.4 267.6,443.6 260.9,447.2 260.4,445.7 268.7,440.5 276.9,432.7 283.2,426.5 278,420.3 271.8,416.7 271.8,412 270.2,406.9ZM1130.2,388.7 1136,386.3 1143.4,385.4 1143.8,387.6 1142.9,392.8 1143.4,397.9 1142.5,400.5 1135.2,400.7 1132.6,394.5ZM988.8,1047.4 989,1031.2 996.6,1028 1008.2,1034.1 1012.9,1039.7 1019,1047.4Z"/>
</g>
<g transform="translate(1203.7,0)">
</g>
<g transform="translate(1204.3,0)">
<path fill="none" stroke="#000" stroke-width="4.2" stroke-linejoin="round" d="M611.7,500 615.9,497.2 621.7,496.2 620,492.4 619,488.3 622.1,485.5 623.4,481.4 625.5,475.9 629.7,470.3 631,465.5 629,463.4 625.5,460.7 622.8,455.9 619.3,458.6 616.6,462.8 613.4,464.8 611,462.1 607.6,457.2 605.2,452.4 606.2,447.6 609,440.7 610,433.8 610.3,427.6 614.5,422.8 619.3,420 627.6,404.8 635.2,389.7 635.2,386.2 631,384.1 631,377.2 640,366.2 642.8,353.8 644.8,349.9 649,349.7 653.1,354.1 656.3,354.1 656.6,344.8 661.4,344.4 662.8,348.3 666.2,349.9 675.2,345.8 680,345.5 682.5,351.7 686.9,347.6 699.3,342.8 710.3,337.5 715.2,332.4 717.2,334.5 722.1,335.9 724.8,346.2 729,344.8 733.1,338.6 737.9,337.9 740.7,339.3 742.1,344.8 748.3,341.4 755.9,341.4 761.4,344.1 767.6,349 768.3,357.2 773.8,356.6 784.8,362.1 794.5,363.7 801.4,362.1 809.7,363.4 817.9,357.2 822.3,355.9 824.1,361.4 824.1,367.6 829,371 829,378.6 833.1,381.4 838.6,377.9 848.3,378.9 859.3,382.5 871.7,384.4 873.8,388.3 884.1,389 887.6,392.7 891,393.5 893.8,391.3 900.7,392.1 909,396.6 913.8,402.8 915.9,410.3 914.5,413.8 910.3,416.6 909,424.1 907.6,427.6 909.7,432.4 907.6,437.9 907.6,442.1 911,444.8 918.6,446.9 919,448.6 919.3,455.2 920.4,463.4 921.8,470.3 916.6,474.5 909.7,479.3 903.4,480.7 898.6,478.6 895.2,476.6 889.7,479.3 891.7,482.8 888.3,483.9 877.9,484.1 875.2,487.6 875.2,492.1 878.6,495.9 888.3,496.1 896.6,498.2 904.1,497.7 908.3,501.4 911,507.6 915.2,512.4 922.1,513.1 927.6,514.5 931.7,517.9 936.6,522.8 941.4,525.2 945.2,529.7 944.8,534.5 948.3,543.4 947.6,549 951,551.4 959.3,553.4 951,557.2 948.3,560.7 947.2,566.2 948.6,570.3 947.6,577.2 948,582.1 944.8,587.6 943.9,589.7 944.8,593.8 944.8,599.3 945.5,603.4 942.8,607.3 949.7,613.8 954.5,620 960,625.8 955.9,629 950.3,631.7 940,636.3 937.9,642.8 937,649 937,655.9 938.3,661.4 940,665.5 938.9,671 940,674.5 935.9,677.2 927.6,679 925.5,683.4 920,685.9 915.2,689 911,693.8 910.8,698.6 913.1,708.3 911,712.4 904.1,717.9 902.1,724.1 898.6,727.6 893.1,731.7 891,739.3 887.6,744.8 882.8,750.3 880,755.9 882.1,760.7 886.2,765.8 882.1,766.2 877.9,763.4 872.4,760 867.6,758.2 864.1,759.7 858.6,765.5 851.7,771.7 843.4,777.9 837.2,781.8 833.8,782.8 830.3,781.4 829,777.2 824.8,775.9 814.5,775.9 804.8,777.2 795.2,779 791.7,781.8 791,786.2 785.5,784.1 780,782.1 774.5,781.8 767.6,782.3 764.8,779.6 759.3,777.9 754.5,775.2 749.7,774.5 744.1,775.9 737.2,777.2 730.3,777.2 723.4,775.2 717.9,772.1 715.9,769 716.3,762.8 717.7,755.9 718.2,747.6 722.8,744.8 724.1,739.3 726.9,735.2 728.3,725.5 729,720 727.6,711.7 725.5,704.8 722.8,699.3 720,693.8 715.2,692.4 712.4,688.3 716.6,684.1 720.7,680.7 722.3,680.7 722.3,673.8 720.7,660 715.2,651.7 706.9,642.1 698.6,635.2 695.9,629.7 691,626.2 689,628.3 685.5,625.5 682.1,626.9 677.9,625.5 675.2,630.3 671,631.3 667.6,620 664.8,612.4 660,612.4 657.2,606.2 649,608.3 646.2,612.4 649.7,617.2 649.7,621.4 651,626.2 646.2,635.2 642.8,640.7 642.1,645.5 643.4,651.7 642.8,655.9 636.6,653.8 634.5,649.7 626.9,651.7 622.1,655.2 620.7,661.4 622.1,666.9 631,675.2 631.7,682.8 631.7,690.3 629.7,697.2 628.3,702.1 626.2,696.6 618.6,695.9 617.9,690.3 613.1,689.7 604.8,691 597.2,692.4 593.8,697.9 590.3,701.4 585.5,701.4 586.2,697.9 581.4,696.6 577.2,696.6 570.3,693.1 563.4,691.7 555.2,689.7 549.7,684.1 547.6,678.6 542.8,674.5 539.3,668.3 535.2,660.7 531,653.1 524.8,649.7 520.7,647.6 520.7,642.8 516.6,640 512.4,638.6 514.5,634.5 517.9,631 521.4,629 517.2,627.6 518.6,622.8 520.7,614.5 518.6,609.7 516.6,606.2 517.9,594.5 513.1,593.5 504.8,597.9 504.8,603.4 496.6,607.6 489,610.6 490.3,604.8 488.3,596.6 491,591.7 496.6,588.3 497.2,582.8 493.8,575.9 491,570.3 493.1,566.2 491.7,562.1 482.8,560 489.7,555.2 490.3,549.7 495.2,546.9 496.6,541.4 501.4,535.2 491.7,530.3 497.2,527.6 497.2,522.1 500.7,519.3 505.5,518.6 504.8,512.4 502.1,505.5 500.7,500 502.1,493.1 501,493.8 500,489 497.2,485.5 493.1,482.8 487.6,481 482.1,480 475.2,479.3 468.3,478.6 464.1,476.6 460,473.1 455.9,469 450.3,465.9 443.4,464.1 438.6,461.4 433.8,455.2 429.7,448.3 426.9,440 424.8,438.4 421.7,433.8 420.7,428.6 420.2,423.4 419.7,415.2 419.1,405.9 418.6,400.7 420.7,396.6 424.8,395.3 427.4,398.1 428.4,403.8 429.2,409.5 426.4,411.6 424.3,414.1 424.8,420.3 425.3,424.5 427.9,428.6 432.1,431.7 436.2,433.3 440.3,433.8 440.9,437.4 439.8,441 441.4,444.1 443.4,449 447.6,454.5 451.7,457.2 457.2,457.6 462.1,456.2 468.3,454.1 474.5,454.6 479.3,456.9 486.2,457.6 492.4,459 497.9,461.4 504.8,464.1 511.7,466.9 517.9,470.3 522.8,473.8 525.5,477.2 526.6,480 524.8,482.8 527.6,485.5 531,489 533.1,493.1 533.8,498.6 535.2,504.1 536.6,508.3 539.3,511.7 537.9,516.6 536.6,520 535.9,523.4 534.5,529.7 537.9,529.7 542.1,525.5 546.2,524.1 550.3,524.1 553.1,528.3 552.4,532.4 555.9,535.9 562.1,537.2 566.9,535.9 574.5,535.2 577.9,531 583.4,528.3 590.3,526.2 595.9,522.1 601.4,520 606.9,519.3 617.9,521.4 615.2,515.2 613.1,508.3 611.7,501.4ZM581.4,472.4 581.4,468.3 584.8,466.6 589.7,466.9 594.5,469.7 599.3,473.8 603.4,477.9 605.5,483.4 605.5,489.7 604.5,495.2 602.1,498.6 597.9,499.3 594.5,497.2 593.1,491.7 589.7,485.5 585.5,479.3 582.1,474.5ZM583.4,506.9 590.3,509.7 591,513.8 589,517.9 582.1,518.6 583.4,513.1 584.8,508.3ZM453.1,481.4 458.6,479.3 468.3,479.4 478.6,480.7 486.2,482.8 491,485.5 493.1,489.7 493.8,495.2 493.1,500 491,502.8 489,502.1 487.9,498.6 488.6,506.2 486.2,509 482.1,509.7 478.6,507.6 476.6,503.4 475.2,500 477.2,496.6 473.8,494.5 468.3,492.1 462.8,490.3 457.2,487.6 453.8,484.1ZM476.6,586.9 482.8,583.4 484.8,592.4 484.1,602.1 481.4,608.3 476.6,606.2 477.9,596.6 477.2,589.7ZM520.7,657.2 523.4,655.2 527.6,655.9 526.9,662.8 523.4,666.2 520.7,665.5 520.4,660ZM289.4,321.9 298.2,319.8 301.3,325 300.2,331.2 298.7,336.4 294,336.9 292.5,340.5 295.1,343.1 295.1,346.2 288.8,346.7 286.8,345.7 285.7,338.4 285.2,333.3 289.4,330.2 290.4,326ZM200.4,342.4 214.4,353.8 218,352.2 227.3,359.4 229.4,371.3 241.8,382.2 243.3,390.8 248,397 261.4,399.6 270.7,397.6 268.7,401.7 265.6,406.3 267.6,413.1 268.7,419.3 272.8,421.9 280.1,426.5 274.9,431.7 270.7,434.8 262.5,438.9 253.2,446.2 252.1,447.7 243.8,447.7 237.6,443.6 228.3,445.3 214.4,443.1 200.4,442ZM270.7,403.2 280.1,402.2 289.4,402.2 298.7,396.5 306.4,387.7 311.6,393.9 309,400.7 303.8,401.7 307.5,405.3 308.5,412 304.9,417.2 298.7,421.9 294.5,428.1 286.3,433.8 276.9,439.4 267.6,443.6 260.9,447.2 260.4,445.7 268.7,440.5 276.9,432.7 283.2,426.5 278,420.3 271.8,416.7 271.8,412 270.2,406.9ZM1130.2,388.7 1136,386.3 1143.4,385.4 1143.8,387.6 1142.9,392.8 1143.4,397.9 1142.5,400.5 1135.2,400.7 1132.6,394.5ZM988.8,1047.4 989,1031.2 996.6,1028 1008.2,1034.1 1012.9,1039.7 1019,1047.4ZM639.3,676.6 642.1,674.5 645.5,675.2 646.9,682.1 646.2,689 643.4,691.7 640,687.6 639,682.1Z"/>
<path fill="#000" stroke="#000" stroke-width="3" stroke-linejoin="round" d="M528.3,666.9 530.3,665.5 533.1,672.4 533.1,677.9 529,678.2 527.6,673.8ZM516.6,653.8 522.8,654.5 516.6,654.1Z"/>
<g fill="none" stroke="#b0b0b0" stroke-width="3.2">
<circle cx="684.4" cy="562.7" r="114.4"/>
<circle cx="684.4" cy="562.7" r="230.6"/>
<circle cx="684.4" cy="562.7" r="350.5"/>
<circle cx="684.4" cy="562.7" r="476.1"/>
<circle cx="684.4" cy="562.7" r="609.9"/>
<circle cx="684.4" cy="562.7" r="755.2"/>
<path d="M684.4,559.3 L684.4,-237.3"/>
<path d="M687.3,561 L1377.2,162.7"/>
<path d="M687.3,564.4 L1377.2,962.7"/>
<path d="M684.4,566.1 L684.4,1362.7"/>
<path d="M681.5,564.4 L-8.4,962.7"/>
<path d="M681.5,561 L-8.4,162.7"/>
</g>
</g>
</g>
<rect x="1417.5" y="95.5" width="945" height="944" fill="none" stroke="#000" stroke-width="3"/>
<path d="M2397.8,139.3 L2397.8,137.3 L2427.2,94.4 L2456.5,137.3 L2456.5,139.3 Z" fill="#a50026"/>
<rect x="2397.8" y="137.3" width="58.7" height="859" fill="#d02927"/>
<rect x="2397.8" y="217.9" width="58.7" height="778.4" fill="#eb5a3a"/>
<rect x="2397.8" y="296" width="58.7" height="700.3" fill="#f98e52"/>
<rect x="2397.8" y="374.1" width="58.7" height="622.2" fill="#fdbf71"/>
<rect x="2397.8" y="452.2" width="58.7" height="544.1" fill="#fee699"/>
<rect x="2397.8" y="530.3" width="58.7" height="466" fill="#feffc0"/>
<rect x="2397.8" y="608.4" width="58.7" height="387.9" fill="#e5f5ef"/>
<rect x="2397.8" y="686.5" width="58.7" height="309.8" fill="#bde2ee"/>
<rect x="2397.8" y="764.6" width="58.7" height="231.7" fill="#8ec2dc"/>
<rect x="2397.8" y="842.7" width="58.7" height="153.6" fill="#6399c7"/>
<rect x="2397.8" y="920.8" width="58.7" height="75.5" fill="#416aaf"/>
<path d="M2397.8,996.3 L2427.2,1039.2 L2456.5,996.3 Z" fill="#313695"/>
<path d="M2397.8,996.3 L2427.2,1039.2 L2456.5,996.3 L2456.5,137.3 L2427.2,94.4 L2397.8,137.3 Z" fill="none" stroke="#000" stroke-width="3.33" stroke-linejoin="miter"/>
<path d="M2456.5,996.5 h15.6" stroke="#000" stroke-width="3"/>
<text x="2486.5" y="1011.4" font-size="41.67">0.1</text>
<path d="M2456.5,918.5 h15.6" stroke="#000" stroke-width="3"/>
<text x="2486.5" y="933.3" font-size="41.67">0.2</text>
<path d="M2456.5,840.5 h15.6" stroke="#000" stroke-width="3"/>
<text x="2486.5" y="855.2" font-size="41.67">0.5</text>
<path d="M2456.5,762.5 h15.6" stroke="#000" stroke-width="3"/>
<text x="2486.5" y="777.1" font-size="41.67">1.0</text>
<path d="M2456.5,683.5 h15.6" stroke="#000" stroke-width="3"/>
<text x="2486.5" y="699" font-size="41.67">1.5</text>
<path d="M2456.5,605.5 h15.6" stroke="#000" stroke-width="3"/>
<text x="2486.5" y="620.9" font-size="41.67">2.0</text>
<path d="M2456.5,527.5 h15.6" stroke="#000" stroke-width="3"/>
<text x="2486.5" y="542.9" font-size="41.67">2.5</text>
<path d="M2456.5,449.5 h15.6" stroke="#000" stroke-width="3"/>
<text x="2486.5" y="464.8" font-size="41.67">3.0</text>
<path d="M2456.5,371.5 h15.6" stroke="#000" stroke-width="3"/>
<text x="2486.5" y="386.7" font-size="41.67">3.5</text>
<path d="M2456.5,293.5 h15.6" stroke="#000" stroke-width="3"/>
<text x="2486.5" y="308.6" font-size="41.67">4.0</text>
<path d="M2456.5,215.5 h15.6" stroke="#000" stroke-width="3"/>
<text x="2486.5" y="230.5" font-size="41.67">5.0</text>
<path d="M2456.5,137.5 h15.6" stroke="#000" stroke-width="3"/>
<text x="2486.5" y="152.4" font-size="41.67">6.0</text>
<text x="1890.2" y="70.3" font-size="50" text-anchor="middle">ice equiv. thickness September [m]</text>
<text x="1358.5" y="47.9" font-size="41.67">(b)</text>
</svg></body></html>
